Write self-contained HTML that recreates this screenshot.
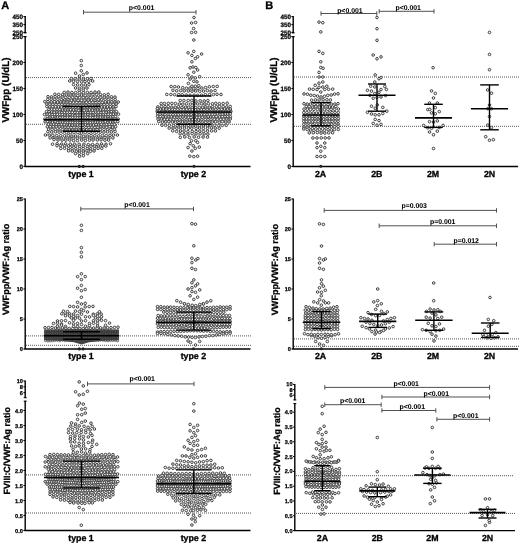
<!DOCTYPE html>
<html><head><meta charset="utf-8"><title>Figure</title>
<style>html,body{margin:0;padding:0;background:#fff;}svg{display:block;filter:grayscale(1);}text{text-rendering:geometricPrecision;font-weight:bold;stroke:#000;stroke-width:0.3px;}</style></head>
<body>
<svg width="520" height="544" viewBox="0 0 520 544" font-family="Liberation Sans, sans-serif" fill="#000" font-weight="bold">
<rect width="520" height="544" fill="#fff"/>
<g stroke="#000" stroke-width="0" >
<text x="1.2" y="9" font-size="11" font-weight="bold">A</text>
<line x1="26.0" y1="77.6" x2="251.0" y2="77.6" stroke="#555" stroke-width="1.0" stroke-dasharray="1 1"/>
<line x1="26.0" y1="124.3" x2="251.0" y2="124.3" stroke="#555" stroke-width="1.0" stroke-dasharray="1 1"/>
<g fill="#f4f4f4" stroke="#383838" stroke-width="0.95"><circle cx="81.3" cy="60.6" r="1.30"/><circle cx="81.3" cy="65.5" r="1.30"/><circle cx="81.3" cy="70.8" r="1.30"/><circle cx="75.6" cy="73.2" r="1.30"/><circle cx="87.0" cy="72.9" r="1.30"/><circle cx="83.3" cy="74.5" r="1.30"/><circle cx="79.5" cy="76.0" r="1.30"/><circle cx="71.4" cy="78.6" r="1.30"/><circle cx="75.1" cy="78.8" r="1.30"/><circle cx="79.2" cy="79.0" r="1.30"/><circle cx="83.3" cy="79.0" r="1.30"/><circle cx="87.4" cy="78.8" r="1.30"/><circle cx="91.0" cy="78.5" r="1.30"/><circle cx="69.7" cy="81.0" r="1.30"/><circle cx="73.5" cy="81.3" r="1.30"/><circle cx="77.5" cy="81.6" r="1.30"/><circle cx="81.6" cy="81.8" r="1.30"/><circle cx="85.0" cy="81.6" r="1.30"/><circle cx="88.7" cy="81.3" r="1.30"/><circle cx="92.6" cy="81.0" r="1.30"/><circle cx="73.5" cy="84.6" r="1.30"/><circle cx="77.6" cy="84.9" r="1.30"/><circle cx="81.7" cy="85.1" r="1.30"/><circle cx="85.4" cy="84.9" r="1.30"/><circle cx="89.0" cy="84.6" r="1.30"/><circle cx="75.6" cy="88.0" r="1.30"/><circle cx="79.5" cy="88.3" r="1.30"/><circle cx="83.3" cy="88.3" r="1.30"/><circle cx="87.0" cy="88.0" r="1.30"/><circle cx="79.2" cy="90.3" r="1.30"/><circle cx="83.3" cy="90.3" r="1.30"/><circle cx="64.2" cy="92.4" r="1.30"/><circle cx="68.0" cy="92.1" r="1.30"/><circle cx="71.9" cy="92.5" r="1.30"/><circle cx="75.7" cy="92.5" r="1.30"/><circle cx="79.6" cy="92.5" r="1.30"/><circle cx="83.4" cy="92.7" r="1.30"/><circle cx="87.3" cy="92.3" r="1.30"/><circle cx="91.1" cy="92.5" r="1.30"/><circle cx="95.0" cy="92.1" r="1.30"/><circle cx="98.8" cy="92.0" r="1.30"/><circle cx="54.9" cy="94.3" r="1.30"/><circle cx="58.7" cy="94.4" r="1.30"/><circle cx="62.5" cy="94.8" r="1.30"/><circle cx="66.3" cy="95.1" r="1.30"/><circle cx="70.1" cy="95.0" r="1.30"/><circle cx="73.9" cy="95.0" r="1.30"/><circle cx="77.7" cy="95.5" r="1.30"/><circle cx="81.5" cy="95.0" r="1.30"/><circle cx="85.3" cy="95.4" r="1.30"/><circle cx="89.1" cy="94.9" r="1.30"/><circle cx="92.9" cy="94.7" r="1.30"/><circle cx="96.7" cy="94.6" r="1.30"/><circle cx="100.5" cy="94.6" r="1.30"/><circle cx="104.3" cy="94.8" r="1.30"/><circle cx="108.1" cy="94.3" r="1.30"/><circle cx="48.0" cy="96.7" r="1.30"/><circle cx="51.5" cy="96.9" r="1.30"/><circle cx="55.1" cy="96.7" r="1.30"/><circle cx="58.6" cy="96.8" r="1.30"/><circle cx="62.1" cy="97.0" r="1.30"/><circle cx="65.6" cy="97.4" r="1.30"/><circle cx="69.2" cy="97.4" r="1.30"/><circle cx="72.7" cy="97.4" r="1.30"/><circle cx="76.2" cy="97.7" r="1.30"/><circle cx="79.7" cy="97.7" r="1.30"/><circle cx="83.3" cy="97.6" r="1.30"/><circle cx="86.8" cy="97.8" r="1.30"/><circle cx="90.3" cy="97.7" r="1.30"/><circle cx="93.8" cy="97.3" r="1.30"/><circle cx="97.4" cy="97.4" r="1.30"/><circle cx="100.9" cy="97.2" r="1.30"/><circle cx="104.4" cy="97.3" r="1.30"/><circle cx="107.9" cy="97.1" r="1.30"/><circle cx="111.5" cy="96.8" r="1.30"/><circle cx="115.0" cy="97.1" r="1.30"/><circle cx="47.8" cy="99.4" r="1.30"/><circle cx="51.2" cy="99.2" r="1.30"/><circle cx="54.6" cy="99.5" r="1.30"/><circle cx="57.9" cy="99.3" r="1.30"/><circle cx="61.3" cy="99.8" r="1.30"/><circle cx="64.7" cy="100.0" r="1.30"/><circle cx="68.0" cy="99.9" r="1.30"/><circle cx="71.4" cy="100.2" r="1.30"/><circle cx="74.8" cy="100.0" r="1.30"/><circle cx="78.1" cy="100.3" r="1.30"/><circle cx="81.5" cy="100.4" r="1.30"/><circle cx="84.9" cy="100.2" r="1.30"/><circle cx="88.2" cy="100.1" r="1.30"/><circle cx="91.6" cy="100.2" r="1.30"/><circle cx="95.0" cy="100.2" r="1.30"/><circle cx="98.3" cy="99.8" r="1.30"/><circle cx="101.7" cy="99.8" r="1.30"/><circle cx="105.1" cy="99.3" r="1.30"/><circle cx="108.4" cy="99.6" r="1.30"/><circle cx="111.8" cy="99.5" r="1.30"/><circle cx="115.2" cy="99.6" r="1.30"/><circle cx="44.8" cy="101.6" r="1.30"/><circle cx="48.0" cy="101.7" r="1.30"/><circle cx="51.2" cy="102.0" r="1.30"/><circle cx="54.4" cy="101.7" r="1.30"/><circle cx="57.6" cy="102.1" r="1.30"/><circle cx="60.8" cy="102.0" r="1.30"/><circle cx="63.9" cy="102.0" r="1.30"/><circle cx="67.1" cy="102.1" r="1.30"/><circle cx="70.3" cy="102.6" r="1.30"/><circle cx="73.5" cy="102.3" r="1.30"/><circle cx="76.7" cy="102.5" r="1.30"/><circle cx="79.9" cy="102.7" r="1.30"/><circle cx="83.1" cy="103.0" r="1.30"/><circle cx="86.3" cy="102.4" r="1.30"/><circle cx="89.5" cy="102.5" r="1.30"/><circle cx="92.7" cy="102.5" r="1.30"/><circle cx="95.9" cy="102.6" r="1.30"/><circle cx="99.1" cy="102.5" r="1.30"/><circle cx="102.2" cy="102.4" r="1.30"/><circle cx="105.4" cy="101.9" r="1.30"/><circle cx="108.6" cy="101.9" r="1.30"/><circle cx="111.8" cy="101.8" r="1.30"/><circle cx="115.0" cy="102.0" r="1.30"/><circle cx="118.2" cy="102.0" r="1.30"/><circle cx="46.8" cy="104.1" r="1.30"/><circle cx="49.8" cy="104.2" r="1.30"/><circle cx="52.8" cy="104.4" r="1.30"/><circle cx="55.9" cy="104.6" r="1.30"/><circle cx="58.9" cy="104.5" r="1.30"/><circle cx="61.9" cy="104.4" r="1.30"/><circle cx="64.9" cy="104.8" r="1.30"/><circle cx="67.9" cy="104.8" r="1.30"/><circle cx="70.9" cy="105.0" r="1.30"/><circle cx="74.0" cy="105.3" r="1.30"/><circle cx="77.0" cy="105.3" r="1.30"/><circle cx="80.0" cy="105.3" r="1.30"/><circle cx="83.0" cy="105.3" r="1.30"/><circle cx="86.0" cy="105.3" r="1.30"/><circle cx="89.0" cy="104.8" r="1.30"/><circle cx="92.1" cy="105.2" r="1.30"/><circle cx="95.1" cy="105.1" r="1.30"/><circle cx="98.1" cy="105.0" r="1.30"/><circle cx="101.1" cy="104.9" r="1.30"/><circle cx="104.1" cy="104.6" r="1.30"/><circle cx="107.1" cy="104.5" r="1.30"/><circle cx="110.2" cy="104.2" r="1.30"/><circle cx="113.2" cy="104.4" r="1.30"/><circle cx="116.2" cy="104.0" r="1.30"/><circle cx="46.9" cy="106.6" r="1.30"/><circle cx="49.8" cy="106.8" r="1.30"/><circle cx="52.7" cy="106.7" r="1.30"/><circle cx="55.6" cy="106.7" r="1.30"/><circle cx="58.5" cy="106.9" r="1.30"/><circle cx="61.3" cy="107.0" r="1.30"/><circle cx="64.2" cy="107.2" r="1.30"/><circle cx="67.1" cy="107.1" r="1.30"/><circle cx="70.0" cy="107.7" r="1.30"/><circle cx="72.9" cy="107.6" r="1.30"/><circle cx="75.7" cy="107.4" r="1.30"/><circle cx="78.6" cy="107.6" r="1.30"/><circle cx="81.5" cy="107.7" r="1.30"/><circle cx="84.4" cy="107.6" r="1.30"/><circle cx="87.3" cy="107.4" r="1.30"/><circle cx="90.1" cy="107.8" r="1.30"/><circle cx="93.0" cy="107.8" r="1.30"/><circle cx="95.9" cy="107.3" r="1.30"/><circle cx="98.8" cy="107.3" r="1.30"/><circle cx="101.7" cy="106.9" r="1.30"/><circle cx="104.5" cy="106.9" r="1.30"/><circle cx="107.4" cy="106.9" r="1.30"/><circle cx="110.3" cy="106.8" r="1.30"/><circle cx="113.2" cy="107.0" r="1.30"/><circle cx="116.1" cy="106.6" r="1.30"/><circle cx="48.9" cy="109.3" r="1.30"/><circle cx="51.7" cy="109.2" r="1.30"/><circle cx="54.4" cy="109.5" r="1.30"/><circle cx="57.1" cy="109.3" r="1.30"/><circle cx="59.8" cy="109.7" r="1.30"/><circle cx="62.5" cy="110.0" r="1.30"/><circle cx="65.2" cy="110.0" r="1.30"/><circle cx="67.9" cy="110.0" r="1.30"/><circle cx="70.6" cy="109.8" r="1.30"/><circle cx="73.4" cy="110.0" r="1.30"/><circle cx="76.1" cy="109.9" r="1.30"/><circle cx="78.8" cy="110.4" r="1.30"/><circle cx="81.5" cy="110.3" r="1.30"/><circle cx="84.2" cy="110.4" r="1.30"/><circle cx="86.9" cy="110.0" r="1.30"/><circle cx="89.6" cy="109.9" r="1.30"/><circle cx="92.4" cy="110.2" r="1.30"/><circle cx="95.1" cy="110.2" r="1.30"/><circle cx="97.8" cy="110.0" r="1.30"/><circle cx="100.5" cy="109.9" r="1.30"/><circle cx="103.2" cy="109.8" r="1.30"/><circle cx="105.9" cy="109.7" r="1.30"/><circle cx="108.6" cy="109.3" r="1.30"/><circle cx="111.3" cy="109.4" r="1.30"/><circle cx="114.1" cy="109.2" r="1.30"/><circle cx="46.5" cy="111.6" r="1.30"/><circle cx="49.1" cy="111.7" r="1.30"/><circle cx="51.7" cy="112.0" r="1.30"/><circle cx="54.3" cy="112.3" r="1.30"/><circle cx="56.9" cy="112.0" r="1.30"/><circle cx="59.5" cy="112.4" r="1.30"/><circle cx="62.0" cy="112.5" r="1.30"/><circle cx="64.6" cy="112.6" r="1.30"/><circle cx="67.2" cy="112.3" r="1.30"/><circle cx="69.8" cy="112.3" r="1.30"/><circle cx="72.4" cy="112.4" r="1.30"/><circle cx="75.0" cy="112.4" r="1.30"/><circle cx="77.6" cy="112.5" r="1.30"/><circle cx="80.2" cy="112.8" r="1.30"/><circle cx="82.8" cy="113.0" r="1.30"/><circle cx="85.4" cy="112.9" r="1.30"/><circle cx="88.0" cy="112.6" r="1.30"/><circle cx="90.6" cy="112.6" r="1.30"/><circle cx="93.2" cy="112.6" r="1.30"/><circle cx="95.8" cy="112.1" r="1.30"/><circle cx="98.4" cy="112.4" r="1.30"/><circle cx="101.0" cy="112.5" r="1.30"/><circle cx="103.5" cy="112.3" r="1.30"/><circle cx="106.1" cy="112.2" r="1.30"/><circle cx="108.7" cy="112.0" r="1.30"/><circle cx="111.3" cy="111.7" r="1.30"/><circle cx="113.9" cy="112.0" r="1.30"/><circle cx="116.5" cy="111.6" r="1.30"/><circle cx="44.5" cy="114.5" r="1.30"/><circle cx="47.1" cy="114.2" r="1.30"/><circle cx="49.6" cy="114.3" r="1.30"/><circle cx="52.2" cy="114.7" r="1.30"/><circle cx="54.7" cy="114.6" r="1.30"/><circle cx="57.3" cy="114.4" r="1.30"/><circle cx="59.8" cy="114.4" r="1.30"/><circle cx="62.4" cy="114.5" r="1.30"/><circle cx="64.9" cy="115.0" r="1.30"/><circle cx="67.5" cy="115.1" r="1.30"/><circle cx="70.0" cy="114.7" r="1.30"/><circle cx="72.6" cy="115.2" r="1.30"/><circle cx="75.1" cy="115.4" r="1.30"/><circle cx="77.7" cy="115.3" r="1.30"/><circle cx="80.2" cy="115.2" r="1.30"/><circle cx="82.8" cy="115.3" r="1.30"/><circle cx="85.3" cy="115.0" r="1.30"/><circle cx="87.9" cy="114.8" r="1.30"/><circle cx="90.4" cy="115.3" r="1.30"/><circle cx="93.0" cy="115.0" r="1.30"/><circle cx="95.5" cy="114.9" r="1.30"/><circle cx="98.1" cy="115.1" r="1.30"/><circle cx="100.6" cy="114.7" r="1.30"/><circle cx="103.2" cy="114.9" r="1.30"/><circle cx="105.7" cy="114.8" r="1.30"/><circle cx="108.3" cy="114.3" r="1.30"/><circle cx="110.8" cy="114.3" r="1.30"/><circle cx="113.4" cy="114.2" r="1.30"/><circle cx="115.9" cy="114.1" r="1.30"/><circle cx="118.5" cy="114.2" r="1.30"/><circle cx="47.4" cy="116.6" r="1.30"/><circle cx="50.0" cy="117.1" r="1.30"/><circle cx="52.5" cy="116.8" r="1.30"/><circle cx="55.0" cy="117.0" r="1.30"/><circle cx="57.5" cy="117.1" r="1.30"/><circle cx="60.1" cy="117.4" r="1.30"/><circle cx="62.6" cy="117.2" r="1.30"/><circle cx="65.1" cy="117.6" r="1.30"/><circle cx="67.6" cy="117.4" r="1.30"/><circle cx="70.1" cy="117.5" r="1.30"/><circle cx="72.7" cy="117.5" r="1.30"/><circle cx="75.2" cy="117.3" r="1.30"/><circle cx="77.7" cy="117.7" r="1.30"/><circle cx="80.2" cy="117.6" r="1.30"/><circle cx="82.8" cy="117.5" r="1.30"/><circle cx="85.3" cy="117.9" r="1.30"/><circle cx="87.8" cy="117.4" r="1.30"/><circle cx="90.3" cy="117.5" r="1.30"/><circle cx="92.9" cy="117.6" r="1.30"/><circle cx="95.4" cy="117.4" r="1.30"/><circle cx="97.9" cy="117.2" r="1.30"/><circle cx="100.4" cy="117.2" r="1.30"/><circle cx="102.9" cy="117.2" r="1.30"/><circle cx="105.5" cy="117.3" r="1.30"/><circle cx="108.0" cy="116.8" r="1.30"/><circle cx="110.5" cy="117.0" r="1.30"/><circle cx="113.0" cy="116.7" r="1.30"/><circle cx="115.6" cy="116.6" r="1.30"/><circle cx="44.8" cy="119.2" r="1.30"/><circle cx="47.3" cy="119.3" r="1.30"/><circle cx="49.9" cy="119.5" r="1.30"/><circle cx="52.4" cy="119.7" r="1.30"/><circle cx="54.9" cy="119.5" r="1.30"/><circle cx="57.5" cy="119.6" r="1.30"/><circle cx="60.0" cy="119.7" r="1.30"/><circle cx="62.5" cy="119.7" r="1.30"/><circle cx="65.0" cy="119.9" r="1.30"/><circle cx="67.6" cy="119.9" r="1.30"/><circle cx="70.1" cy="120.0" r="1.30"/><circle cx="72.6" cy="120.0" r="1.30"/><circle cx="75.2" cy="120.4" r="1.30"/><circle cx="77.7" cy="120.3" r="1.30"/><circle cx="80.2" cy="120.5" r="1.30"/><circle cx="82.8" cy="120.5" r="1.30"/><circle cx="85.3" cy="120.0" r="1.30"/><circle cx="87.8" cy="120.1" r="1.30"/><circle cx="90.4" cy="120.3" r="1.30"/><circle cx="92.9" cy="120.2" r="1.30"/><circle cx="95.4" cy="119.7" r="1.30"/><circle cx="98.0" cy="119.6" r="1.30"/><circle cx="100.5" cy="119.7" r="1.30"/><circle cx="103.0" cy="119.4" r="1.30"/><circle cx="105.5" cy="119.4" r="1.30"/><circle cx="108.1" cy="119.2" r="1.30"/><circle cx="110.6" cy="119.5" r="1.30"/><circle cx="113.1" cy="119.5" r="1.30"/><circle cx="115.7" cy="119.5" r="1.30"/><circle cx="118.2" cy="119.0" r="1.30"/><circle cx="45.1" cy="121.8" r="1.30"/><circle cx="47.6" cy="121.6" r="1.30"/><circle cx="50.1" cy="122.1" r="1.30"/><circle cx="52.6" cy="122.2" r="1.30"/><circle cx="55.1" cy="121.8" r="1.30"/><circle cx="57.7" cy="122.4" r="1.30"/><circle cx="60.2" cy="122.1" r="1.30"/><circle cx="62.7" cy="122.2" r="1.30"/><circle cx="65.2" cy="122.6" r="1.30"/><circle cx="67.7" cy="122.6" r="1.30"/><circle cx="70.2" cy="122.3" r="1.30"/><circle cx="72.7" cy="122.5" r="1.30"/><circle cx="75.2" cy="122.6" r="1.30"/><circle cx="77.7" cy="122.6" r="1.30"/><circle cx="80.2" cy="122.6" r="1.30"/><circle cx="82.8" cy="122.7" r="1.30"/><circle cx="85.3" cy="122.8" r="1.30"/><circle cx="87.8" cy="122.3" r="1.30"/><circle cx="90.3" cy="122.6" r="1.30"/><circle cx="92.8" cy="122.4" r="1.30"/><circle cx="95.3" cy="122.1" r="1.30"/><circle cx="97.8" cy="122.2" r="1.30"/><circle cx="100.3" cy="122.3" r="1.30"/><circle cx="102.8" cy="122.2" r="1.30"/><circle cx="105.3" cy="121.8" r="1.30"/><circle cx="107.9" cy="122.3" r="1.30"/><circle cx="110.4" cy="122.1" r="1.30"/><circle cx="112.9" cy="122.1" r="1.30"/><circle cx="115.4" cy="121.5" r="1.30"/><circle cx="117.9" cy="121.6" r="1.30"/><circle cx="48.4" cy="124.2" r="1.30"/><circle cx="51.0" cy="124.2" r="1.30"/><circle cx="53.7" cy="124.4" r="1.30"/><circle cx="56.3" cy="124.8" r="1.30"/><circle cx="59.0" cy="124.8" r="1.30"/><circle cx="61.6" cy="124.6" r="1.30"/><circle cx="64.3" cy="124.6" r="1.30"/><circle cx="66.9" cy="125.1" r="1.30"/><circle cx="69.6" cy="125.0" r="1.30"/><circle cx="72.2" cy="125.1" r="1.30"/><circle cx="74.9" cy="124.9" r="1.30"/><circle cx="77.5" cy="124.9" r="1.30"/><circle cx="80.2" cy="125.4" r="1.30"/><circle cx="82.8" cy="125.2" r="1.30"/><circle cx="85.5" cy="124.9" r="1.30"/><circle cx="88.1" cy="125.4" r="1.30"/><circle cx="90.8" cy="125.1" r="1.30"/><circle cx="93.4" cy="125.1" r="1.30"/><circle cx="96.1" cy="124.6" r="1.30"/><circle cx="98.7" cy="125.0" r="1.30"/><circle cx="101.4" cy="124.4" r="1.30"/><circle cx="104.0" cy="124.8" r="1.30"/><circle cx="106.7" cy="124.5" r="1.30"/><circle cx="109.3" cy="124.4" r="1.30"/><circle cx="112.0" cy="124.4" r="1.30"/><circle cx="114.6" cy="124.6" r="1.30"/><circle cx="47.3" cy="126.8" r="1.30"/><circle cx="50.3" cy="126.7" r="1.30"/><circle cx="53.2" cy="126.7" r="1.30"/><circle cx="56.2" cy="126.8" r="1.30"/><circle cx="59.2" cy="126.9" r="1.30"/><circle cx="62.2" cy="127.0" r="1.30"/><circle cx="65.1" cy="127.2" r="1.30"/><circle cx="68.1" cy="127.3" r="1.30"/><circle cx="71.1" cy="127.6" r="1.30"/><circle cx="74.1" cy="127.5" r="1.30"/><circle cx="77.0" cy="127.7" r="1.30"/><circle cx="80.0" cy="127.6" r="1.30"/><circle cx="83.0" cy="127.7" r="1.30"/><circle cx="86.0" cy="127.4" r="1.30"/><circle cx="88.9" cy="127.4" r="1.30"/><circle cx="91.9" cy="127.2" r="1.30"/><circle cx="94.9" cy="127.5" r="1.30"/><circle cx="97.9" cy="127.3" r="1.30"/><circle cx="100.8" cy="127.0" r="1.30"/><circle cx="103.8" cy="127.1" r="1.30"/><circle cx="106.8" cy="127.3" r="1.30"/><circle cx="109.8" cy="126.7" r="1.30"/><circle cx="112.7" cy="127.1" r="1.30"/><circle cx="115.7" cy="126.7" r="1.30"/><circle cx="48.6" cy="129.2" r="1.30"/><circle cx="52.1" cy="129.4" r="1.30"/><circle cx="55.5" cy="129.6" r="1.30"/><circle cx="59.0" cy="129.9" r="1.30"/><circle cx="62.5" cy="129.6" r="1.30"/><circle cx="65.9" cy="130.0" r="1.30"/><circle cx="69.4" cy="130.1" r="1.30"/><circle cx="72.8" cy="130.1" r="1.30"/><circle cx="76.3" cy="130.1" r="1.30"/><circle cx="79.8" cy="130.2" r="1.30"/><circle cx="83.2" cy="130.0" r="1.30"/><circle cx="86.7" cy="129.9" r="1.30"/><circle cx="90.2" cy="129.8" r="1.30"/><circle cx="93.6" cy="130.1" r="1.30"/><circle cx="97.1" cy="129.7" r="1.30"/><circle cx="100.5" cy="129.5" r="1.30"/><circle cx="104.0" cy="129.4" r="1.30"/><circle cx="107.5" cy="129.7" r="1.30"/><circle cx="110.9" cy="129.6" r="1.30"/><circle cx="114.4" cy="129.4" r="1.30"/><circle cx="47.9" cy="131.7" r="1.30"/><circle cx="51.7" cy="131.9" r="1.30"/><circle cx="55.4" cy="131.8" r="1.30"/><circle cx="59.1" cy="132.1" r="1.30"/><circle cx="62.8" cy="132.1" r="1.30"/><circle cx="66.6" cy="132.6" r="1.30"/><circle cx="70.3" cy="132.7" r="1.30"/><circle cx="74.0" cy="132.6" r="1.30"/><circle cx="77.8" cy="132.5" r="1.30"/><circle cx="81.5" cy="133.1" r="1.30"/><circle cx="85.2" cy="132.6" r="1.30"/><circle cx="89.0" cy="132.5" r="1.30"/><circle cx="92.7" cy="132.2" r="1.30"/><circle cx="96.4" cy="132.3" r="1.30"/><circle cx="100.2" cy="132.2" r="1.30"/><circle cx="103.9" cy="132.1" r="1.30"/><circle cx="107.6" cy="131.8" r="1.30"/><circle cx="111.3" cy="131.9" r="1.30"/><circle cx="115.1" cy="131.5" r="1.30"/><circle cx="45.4" cy="135.0" r="1.30"/><circle cx="49.2" cy="135.1" r="1.30"/><circle cx="52.8" cy="135.3" r="1.30"/><circle cx="56.7" cy="135.6" r="1.30"/><circle cx="60.7" cy="135.7" r="1.30"/><circle cx="64.5" cy="135.8" r="1.30"/><circle cx="68.4" cy="135.7" r="1.30"/><circle cx="71.9" cy="136.1" r="1.30"/><circle cx="75.6" cy="136.0" r="1.30"/><circle cx="79.7" cy="135.7" r="1.30"/><circle cx="83.6" cy="136.2" r="1.30"/><circle cx="87.2" cy="136.0" r="1.30"/><circle cx="91.1" cy="135.6" r="1.30"/><circle cx="94.8" cy="135.7" r="1.30"/><circle cx="98.7" cy="135.8" r="1.30"/><circle cx="102.5" cy="135.6" r="1.30"/><circle cx="106.3" cy="135.6" r="1.30"/><circle cx="110.0" cy="135.3" r="1.30"/><circle cx="113.5" cy="135.1" r="1.30"/><circle cx="117.4" cy="135.0" r="1.30"/><circle cx="50.2" cy="137.9" r="1.30"/><circle cx="54.0" cy="138.0" r="1.30"/><circle cx="58.0" cy="138.0" r="1.30"/><circle cx="61.6" cy="138.3" r="1.30"/><circle cx="65.9" cy="138.2" r="1.30"/><circle cx="69.7" cy="138.4" r="1.30"/><circle cx="73.4" cy="138.5" r="1.30"/><circle cx="77.4" cy="138.2" r="1.30"/><circle cx="81.4" cy="138.6" r="1.30"/><circle cx="85.3" cy="138.6" r="1.30"/><circle cx="89.6" cy="138.3" r="1.30"/><circle cx="93.3" cy="138.3" r="1.30"/><circle cx="97.3" cy="138.3" r="1.30"/><circle cx="101.2" cy="138.2" r="1.30"/><circle cx="104.9" cy="137.8" r="1.30"/><circle cx="108.9" cy="138.1" r="1.30"/><circle cx="112.9" cy="137.9" r="1.30"/><circle cx="54.0" cy="139.6" r="1.30"/><circle cx="58.0" cy="140.0" r="1.30"/><circle cx="62.1" cy="140.1" r="1.30"/><circle cx="65.8" cy="140.1" r="1.30"/><circle cx="69.8" cy="140.1" r="1.30"/><circle cx="73.5" cy="140.5" r="1.30"/><circle cx="77.4" cy="140.6" r="1.30"/><circle cx="81.7" cy="140.1" r="1.30"/><circle cx="85.4" cy="140.5" r="1.30"/><circle cx="89.5" cy="140.2" r="1.30"/><circle cx="93.1" cy="140.0" r="1.30"/><circle cx="97.3" cy="139.9" r="1.30"/><circle cx="101.0" cy="139.8" r="1.30"/><circle cx="104.9" cy="140.2" r="1.30"/><circle cx="108.6" cy="140.0" r="1.30"/><circle cx="52.5" cy="144.2" r="1.30"/><circle cx="57.1" cy="143.8" r="1.30"/><circle cx="61.6" cy="144.1" r="1.30"/><circle cx="65.6" cy="143.9" r="1.30"/><circle cx="70.3" cy="144.2" r="1.30"/><circle cx="74.7" cy="144.2" r="1.30"/><circle cx="79.2" cy="144.3" r="1.30"/><circle cx="83.9" cy="144.2" r="1.30"/><circle cx="88.3" cy="144.6" r="1.30"/><circle cx="92.5" cy="144.5" r="1.30"/><circle cx="97.2" cy="144.4" r="1.30"/><circle cx="101.5" cy="144.0" r="1.30"/><circle cx="106.0" cy="144.3" r="1.30"/><circle cx="110.5" cy="143.8" r="1.30"/><circle cx="57.0" cy="145.7" r="1.30"/><circle cx="60.5" cy="145.6" r="1.30"/><circle cx="64.7" cy="145.8" r="1.30"/><circle cx="68.5" cy="145.9" r="1.30"/><circle cx="72.0" cy="146.1" r="1.30"/><circle cx="75.7" cy="146.1" r="1.30"/><circle cx="79.8" cy="146.5" r="1.30"/><circle cx="83.5" cy="146.3" r="1.30"/><circle cx="87.4" cy="146.5" r="1.30"/><circle cx="90.9" cy="146.2" r="1.30"/><circle cx="94.5" cy="146.2" r="1.30"/><circle cx="98.4" cy="146.1" r="1.30"/><circle cx="102.3" cy="145.8" r="1.30"/><circle cx="105.8" cy="146.1" r="1.30"/><circle cx="60.8" cy="148.4" r="1.30"/><circle cx="64.6" cy="148.3" r="1.30"/><circle cx="68.6" cy="148.8" r="1.30"/><circle cx="72.1" cy="148.7" r="1.30"/><circle cx="75.8" cy="148.7" r="1.30"/><circle cx="79.6" cy="148.6" r="1.30"/><circle cx="83.2" cy="148.6" r="1.30"/><circle cx="87.3" cy="148.7" r="1.30"/><circle cx="90.7" cy="148.9" r="1.30"/><circle cx="94.8" cy="148.5" r="1.30"/><circle cx="98.1" cy="148.3" r="1.30"/><circle cx="101.8" cy="148.3" r="1.30"/><circle cx="68.6" cy="150.8" r="1.30"/><circle cx="72.3" cy="151.1" r="1.30"/><circle cx="76.3" cy="151.2" r="1.30"/><circle cx="79.6" cy="151.1" r="1.30"/><circle cx="83.3" cy="151.1" r="1.30"/><circle cx="86.9" cy="150.8" r="1.30"/><circle cx="90.5" cy="151.3" r="1.30"/><circle cx="94.0" cy="150.9" r="1.30"/><circle cx="75.4" cy="153.6" r="1.30"/><circle cx="79.3" cy="153.3" r="1.30"/><circle cx="83.4" cy="153.4" r="1.30"/><circle cx="87.7" cy="153.6" r="1.30"/><circle cx="79.6" cy="156.2" r="1.30"/><circle cx="83.4" cy="155.7" r="1.30"/></g>
<g stroke="#000" stroke-width="1.40" fill="none">
<line x1="44.0" y1="119.7" x2="119.0" y2="119.7" stroke-width="1.6"/>
<line x1="63.0" y1="106.5" x2="100.0" y2="106.5"/>
<line x1="63.0" y1="131.2" x2="100.0" y2="131.2"/>
<line x1="81.5" y1="106.5" x2="81.5" y2="131.2"/>
</g>
<g fill="#f4f4f4" stroke="#383838" stroke-width="0.95"><circle cx="194.0" cy="17.5" r="1.30"/><circle cx="191.6" cy="23.0" r="1.30"/><circle cx="195.6" cy="22.5" r="1.30"/><circle cx="193.6" cy="28.5" r="1.30"/><circle cx="191.6" cy="32.5" r="1.30"/><circle cx="195.6" cy="32.3" r="1.30"/><circle cx="193.8" cy="40.0" r="1.30"/><circle cx="188.1" cy="52.8" r="1.30"/><circle cx="193.8" cy="51.4" r="1.30"/><circle cx="201.6" cy="54.0" r="1.30"/><circle cx="191.9" cy="55.4" r="1.30"/><circle cx="197.6" cy="56.8" r="1.30"/><circle cx="195.3" cy="58.5" r="1.30"/><circle cx="191.9" cy="61.8" r="1.30"/><circle cx="190.1" cy="67.8" r="1.30"/><circle cx="192.9" cy="67.0" r="1.30"/><circle cx="195.8" cy="67.5" r="1.30"/><circle cx="197.6" cy="70.0" r="1.30"/><circle cx="193.8" cy="72.2" r="1.30"/><circle cx="188.1" cy="74.8" r="1.30"/><circle cx="191.9" cy="77.0" r="1.30"/><circle cx="195.3" cy="77.9" r="1.30"/><circle cx="199.7" cy="76.7" r="1.30"/><circle cx="190.1" cy="79.1" r="1.30"/><circle cx="193.8" cy="81.3" r="1.30"/><circle cx="197.0" cy="81.9" r="1.30"/><circle cx="188.4" cy="83.4" r="1.30"/><circle cx="191.9" cy="86.2" r="1.30"/><circle cx="195.3" cy="86.2" r="1.30"/><circle cx="198.8" cy="85.7" r="1.30"/><circle cx="171.1" cy="86.5" r="1.30"/><circle cx="174.8" cy="86.7" r="1.30"/><circle cx="178.4" cy="87.0" r="1.30"/><circle cx="182.7" cy="87.7" r="1.30"/><circle cx="186.5" cy="88.2" r="1.30"/><circle cx="190.0" cy="88.1" r="1.30"/><circle cx="193.8" cy="88.8" r="1.30"/><circle cx="197.9" cy="88.6" r="1.30"/><circle cx="201.8" cy="88.0" r="1.30"/><circle cx="205.6" cy="87.5" r="1.30"/><circle cx="209.4" cy="86.8" r="1.30"/><circle cx="213.3" cy="86.5" r="1.30"/><circle cx="217.2" cy="86.4" r="1.30"/><circle cx="172.9" cy="90.3" r="1.30"/><circle cx="176.7" cy="90.8" r="1.30"/><circle cx="180.7" cy="90.6" r="1.30"/><circle cx="184.2" cy="90.9" r="1.30"/><circle cx="188.3" cy="91.0" r="1.30"/><circle cx="192.0" cy="91.2" r="1.30"/><circle cx="195.7" cy="91.0" r="1.30"/><circle cx="199.7" cy="91.3" r="1.30"/><circle cx="203.6" cy="91.1" r="1.30"/><circle cx="207.4" cy="90.6" r="1.30"/><circle cx="211.1" cy="91.0" r="1.30"/><circle cx="215.1" cy="90.5" r="1.30"/><circle cx="166.8" cy="94.4" r="1.30"/><circle cx="170.9" cy="94.5" r="1.30"/><circle cx="174.6" cy="94.7" r="1.30"/><circle cx="178.8" cy="94.6" r="1.30"/><circle cx="182.2" cy="94.8" r="1.30"/><circle cx="186.2" cy="95.1" r="1.30"/><circle cx="190.0" cy="95.3" r="1.30"/><circle cx="194.1" cy="95.2" r="1.30"/><circle cx="197.7" cy="95.4" r="1.30"/><circle cx="201.6" cy="95.2" r="1.30"/><circle cx="205.4" cy="94.7" r="1.30"/><circle cx="209.6" cy="94.6" r="1.30"/><circle cx="213.5" cy="94.6" r="1.30"/><circle cx="217.0" cy="94.3" r="1.30"/><circle cx="221.0" cy="94.5" r="1.30"/><circle cx="180.2" cy="100.5" r="1.30"/><circle cx="183.9" cy="100.5" r="1.30"/><circle cx="188.2" cy="100.5" r="1.30"/><circle cx="191.8" cy="100.4" r="1.30"/><circle cx="195.9" cy="100.9" r="1.30"/><circle cx="200.2" cy="100.8" r="1.30"/><circle cx="204.2" cy="101.0" r="1.30"/><circle cx="207.9" cy="100.5" r="1.30"/><circle cx="161.2" cy="103.5" r="1.30"/><circle cx="164.4" cy="103.5" r="1.30"/><circle cx="168.3" cy="103.4" r="1.30"/><circle cx="171.9" cy="103.4" r="1.30"/><circle cx="175.4" cy="103.5" r="1.30"/><circle cx="179.3" cy="104.0" r="1.30"/><circle cx="182.8" cy="104.1" r="1.30"/><circle cx="186.5" cy="103.8" r="1.30"/><circle cx="190.5" cy="104.1" r="1.30"/><circle cx="194.0" cy="103.7" r="1.30"/><circle cx="197.7" cy="103.9" r="1.30"/><circle cx="201.5" cy="103.7" r="1.30"/><circle cx="204.9" cy="104.0" r="1.30"/><circle cx="208.4" cy="103.7" r="1.30"/><circle cx="212.5" cy="103.8" r="1.30"/><circle cx="215.8" cy="103.3" r="1.30"/><circle cx="219.4" cy="103.7" r="1.30"/><circle cx="223.2" cy="103.6" r="1.30"/><circle cx="227.2" cy="103.2" r="1.30"/><circle cx="157.9" cy="106.9" r="1.30"/><circle cx="161.5" cy="106.5" r="1.30"/><circle cx="165.0" cy="106.6" r="1.30"/><circle cx="168.2" cy="106.5" r="1.30"/><circle cx="171.8" cy="107.1" r="1.30"/><circle cx="175.2" cy="107.2" r="1.30"/><circle cx="178.3" cy="106.8" r="1.30"/><circle cx="182.0" cy="107.3" r="1.30"/><circle cx="185.7" cy="107.1" r="1.30"/><circle cx="188.7" cy="107.2" r="1.30"/><circle cx="192.3" cy="107.5" r="1.30"/><circle cx="195.6" cy="107.4" r="1.30"/><circle cx="199.3" cy="107.4" r="1.30"/><circle cx="202.7" cy="107.2" r="1.30"/><circle cx="205.9" cy="107.0" r="1.30"/><circle cx="209.4" cy="107.2" r="1.30"/><circle cx="212.6" cy="106.7" r="1.30"/><circle cx="216.4" cy="106.7" r="1.30"/><circle cx="219.5" cy="106.5" r="1.30"/><circle cx="223.2" cy="106.6" r="1.30"/><circle cx="226.8" cy="106.9" r="1.30"/><circle cx="230.2" cy="106.4" r="1.30"/><circle cx="157.3" cy="108.7" r="1.30"/><circle cx="160.4" cy="109.2" r="1.30"/><circle cx="163.3" cy="108.9" r="1.30"/><circle cx="166.2" cy="109.2" r="1.30"/><circle cx="169.3" cy="109.4" r="1.30"/><circle cx="172.3" cy="109.4" r="1.30"/><circle cx="174.8" cy="109.5" r="1.30"/><circle cx="177.8" cy="109.4" r="1.30"/><circle cx="180.8" cy="109.6" r="1.30"/><circle cx="183.6" cy="109.3" r="1.30"/><circle cx="186.6" cy="109.3" r="1.30"/><circle cx="189.8" cy="109.7" r="1.30"/><circle cx="192.5" cy="109.6" r="1.30"/><circle cx="195.7" cy="109.7" r="1.30"/><circle cx="198.2" cy="109.8" r="1.30"/><circle cx="201.4" cy="109.8" r="1.30"/><circle cx="204.0" cy="109.5" r="1.30"/><circle cx="207.3" cy="109.6" r="1.30"/><circle cx="210.3" cy="109.1" r="1.30"/><circle cx="212.9" cy="109.1" r="1.30"/><circle cx="215.7" cy="109.5" r="1.30"/><circle cx="218.9" cy="109.5" r="1.30"/><circle cx="221.7" cy="109.4" r="1.30"/><circle cx="224.6" cy="108.9" r="1.30"/><circle cx="227.7" cy="109.3" r="1.30"/><circle cx="230.3" cy="109.0" r="1.30"/><circle cx="157.1" cy="111.3" r="1.30"/><circle cx="159.6" cy="111.3" r="1.30"/><circle cx="162.1" cy="111.4" r="1.30"/><circle cx="165.0" cy="111.7" r="1.30"/><circle cx="167.4" cy="111.4" r="1.30"/><circle cx="170.1" cy="111.8" r="1.30"/><circle cx="172.7" cy="111.7" r="1.30"/><circle cx="175.4" cy="112.0" r="1.30"/><circle cx="178.2" cy="111.6" r="1.30"/><circle cx="180.6" cy="111.9" r="1.30"/><circle cx="183.5" cy="112.1" r="1.30"/><circle cx="185.9" cy="111.8" r="1.30"/><circle cx="188.8" cy="112.0" r="1.30"/><circle cx="191.2" cy="112.0" r="1.30"/><circle cx="194.2" cy="112.1" r="1.30"/><circle cx="196.7" cy="112.1" r="1.30"/><circle cx="199.2" cy="112.3" r="1.30"/><circle cx="202.2" cy="112.0" r="1.30"/><circle cx="204.4" cy="112.1" r="1.30"/><circle cx="207.1" cy="111.6" r="1.30"/><circle cx="210.1" cy="111.8" r="1.30"/><circle cx="212.7" cy="111.8" r="1.30"/><circle cx="215.3" cy="111.8" r="1.30"/><circle cx="217.6" cy="111.4" r="1.30"/><circle cx="220.5" cy="111.8" r="1.30"/><circle cx="223.3" cy="111.4" r="1.30"/><circle cx="225.8" cy="111.5" r="1.30"/><circle cx="228.4" cy="111.3" r="1.30"/><circle cx="230.9" cy="111.5" r="1.30"/><circle cx="157.7" cy="113.8" r="1.30"/><circle cx="160.1" cy="114.3" r="1.30"/><circle cx="162.9" cy="114.0" r="1.30"/><circle cx="165.1" cy="114.5" r="1.30"/><circle cx="168.2" cy="114.3" r="1.30"/><circle cx="170.3" cy="114.6" r="1.30"/><circle cx="173.1" cy="114.6" r="1.30"/><circle cx="175.8" cy="114.6" r="1.30"/><circle cx="178.2" cy="114.7" r="1.30"/><circle cx="180.8" cy="114.5" r="1.30"/><circle cx="183.7" cy="114.8" r="1.30"/><circle cx="186.0" cy="114.5" r="1.30"/><circle cx="188.7" cy="114.7" r="1.30"/><circle cx="191.3" cy="114.5" r="1.30"/><circle cx="193.9" cy="114.9" r="1.30"/><circle cx="196.8" cy="114.5" r="1.30"/><circle cx="199.2" cy="114.9" r="1.30"/><circle cx="201.6" cy="114.8" r="1.30"/><circle cx="204.2" cy="114.7" r="1.30"/><circle cx="207.1" cy="114.6" r="1.30"/><circle cx="209.5" cy="114.4" r="1.30"/><circle cx="212.3" cy="114.4" r="1.30"/><circle cx="214.9" cy="114.4" r="1.30"/><circle cx="217.4" cy="114.0" r="1.30"/><circle cx="220.1" cy="114.3" r="1.30"/><circle cx="222.5" cy="114.4" r="1.30"/><circle cx="225.4" cy="114.1" r="1.30"/><circle cx="227.7" cy="114.1" r="1.30"/><circle cx="230.3" cy="113.8" r="1.30"/><circle cx="157.5" cy="116.3" r="1.30"/><circle cx="160.3" cy="116.6" r="1.30"/><circle cx="162.9" cy="116.8" r="1.30"/><circle cx="165.7" cy="116.9" r="1.30"/><circle cx="168.9" cy="116.8" r="1.30"/><circle cx="171.3" cy="116.9" r="1.30"/><circle cx="174.3" cy="117.2" r="1.30"/><circle cx="177.0" cy="117.2" r="1.30"/><circle cx="180.2" cy="117.2" r="1.30"/><circle cx="182.9" cy="116.9" r="1.30"/><circle cx="185.8" cy="117.1" r="1.30"/><circle cx="188.6" cy="117.4" r="1.30"/><circle cx="191.0" cy="117.4" r="1.30"/><circle cx="194.2" cy="117.0" r="1.30"/><circle cx="196.7" cy="117.4" r="1.30"/><circle cx="199.4" cy="117.4" r="1.30"/><circle cx="202.3" cy="117.3" r="1.30"/><circle cx="205.1" cy="117.1" r="1.30"/><circle cx="208.2" cy="116.8" r="1.30"/><circle cx="210.7" cy="117.0" r="1.30"/><circle cx="213.6" cy="116.6" r="1.30"/><circle cx="216.3" cy="116.6" r="1.30"/><circle cx="219.5" cy="116.9" r="1.30"/><circle cx="222.3" cy="116.5" r="1.30"/><circle cx="225.0" cy="116.5" r="1.30"/><circle cx="227.7" cy="116.7" r="1.30"/><circle cx="230.4" cy="116.8" r="1.30"/><circle cx="158.0" cy="119.2" r="1.30"/><circle cx="161.3" cy="119.0" r="1.30"/><circle cx="164.5" cy="119.4" r="1.30"/><circle cx="167.3" cy="119.5" r="1.30"/><circle cx="170.4" cy="119.7" r="1.30"/><circle cx="173.7" cy="119.4" r="1.30"/><circle cx="176.9" cy="119.5" r="1.30"/><circle cx="179.8" cy="119.8" r="1.30"/><circle cx="182.8" cy="119.9" r="1.30"/><circle cx="186.1" cy="119.8" r="1.30"/><circle cx="189.5" cy="119.9" r="1.30"/><circle cx="192.5" cy="119.8" r="1.30"/><circle cx="195.3" cy="119.6" r="1.30"/><circle cx="198.5" cy="119.9" r="1.30"/><circle cx="201.8" cy="119.8" r="1.30"/><circle cx="205.2" cy="119.5" r="1.30"/><circle cx="208.0" cy="119.7" r="1.30"/><circle cx="211.0" cy="119.3" r="1.30"/><circle cx="214.3" cy="119.3" r="1.30"/><circle cx="217.4" cy="119.3" r="1.30"/><circle cx="220.7" cy="119.4" r="1.30"/><circle cx="223.6" cy="119.4" r="1.30"/><circle cx="226.9" cy="119.0" r="1.30"/><circle cx="230.2" cy="119.0" r="1.30"/><circle cx="158.8" cy="121.6" r="1.30"/><circle cx="162.4" cy="122.1" r="1.30"/><circle cx="165.8" cy="121.9" r="1.30"/><circle cx="168.9" cy="121.7" r="1.30"/><circle cx="172.4" cy="122.1" r="1.30"/><circle cx="175.6" cy="122.2" r="1.30"/><circle cx="179.0" cy="122.5" r="1.30"/><circle cx="182.5" cy="122.1" r="1.30"/><circle cx="185.9" cy="122.1" r="1.30"/><circle cx="189.0" cy="122.3" r="1.30"/><circle cx="192.2" cy="122.2" r="1.30"/><circle cx="195.8" cy="122.2" r="1.30"/><circle cx="199.0" cy="122.7" r="1.30"/><circle cx="202.2" cy="122.2" r="1.30"/><circle cx="205.7" cy="122.3" r="1.30"/><circle cx="209.1" cy="122.4" r="1.30"/><circle cx="212.2" cy="122.0" r="1.30"/><circle cx="215.6" cy="121.8" r="1.30"/><circle cx="219.2" cy="122.2" r="1.30"/><circle cx="222.4" cy="121.6" r="1.30"/><circle cx="225.8" cy="122.0" r="1.30"/><circle cx="229.0" cy="121.9" r="1.30"/><circle cx="162.0" cy="125.2" r="1.30"/><circle cx="165.6" cy="125.3" r="1.30"/><circle cx="169.3" cy="125.4" r="1.30"/><circle cx="173.4" cy="125.7" r="1.30"/><circle cx="177.2" cy="125.8" r="1.30"/><circle cx="180.7" cy="125.8" r="1.30"/><circle cx="184.6" cy="126.0" r="1.30"/><circle cx="188.4" cy="125.7" r="1.30"/><circle cx="192.2" cy="126.2" r="1.30"/><circle cx="195.7" cy="126.2" r="1.30"/><circle cx="199.4" cy="125.7" r="1.30"/><circle cx="203.3" cy="126.0" r="1.30"/><circle cx="207.4" cy="125.9" r="1.30"/><circle cx="210.9" cy="125.9" r="1.30"/><circle cx="214.6" cy="125.4" r="1.30"/><circle cx="218.7" cy="125.6" r="1.30"/><circle cx="222.3" cy="125.5" r="1.30"/><circle cx="226.2" cy="125.3" r="1.30"/><circle cx="169.2" cy="128.1" r="1.30"/><circle cx="173.0" cy="128.0" r="1.30"/><circle cx="176.8" cy="128.2" r="1.30"/><circle cx="180.4" cy="128.1" r="1.30"/><circle cx="184.4" cy="128.1" r="1.30"/><circle cx="188.4" cy="128.2" r="1.30"/><circle cx="191.8" cy="128.2" r="1.30"/><circle cx="196.1" cy="128.4" r="1.30"/><circle cx="199.6" cy="128.1" r="1.30"/><circle cx="203.4" cy="128.4" r="1.30"/><circle cx="207.5" cy="128.3" r="1.30"/><circle cx="211.4" cy="127.9" r="1.30"/><circle cx="215.2" cy="128.0" r="1.30"/><circle cx="219.2" cy="128.2" r="1.30"/><circle cx="172.7" cy="130.8" r="1.30"/><circle cx="176.6" cy="131.4" r="1.30"/><circle cx="180.5" cy="131.0" r="1.30"/><circle cx="184.1" cy="131.1" r="1.30"/><circle cx="187.9" cy="131.6" r="1.30"/><circle cx="192.2" cy="131.5" r="1.30"/><circle cx="196.1" cy="131.5" r="1.30"/><circle cx="199.8" cy="131.1" r="1.30"/><circle cx="203.6" cy="131.5" r="1.30"/><circle cx="207.5" cy="131.1" r="1.30"/><circle cx="211.6" cy="130.9" r="1.30"/><circle cx="215.4" cy="130.9" r="1.30"/><circle cx="180.1" cy="133.8" r="1.30"/><circle cx="183.9" cy="134.2" r="1.30"/><circle cx="188.0" cy="134.1" r="1.30"/><circle cx="192.1" cy="133.6" r="1.30"/><circle cx="196.0" cy="133.9" r="1.30"/><circle cx="200.1" cy="133.8" r="1.30"/><circle cx="204.1" cy="133.9" r="1.30"/><circle cx="207.9" cy="134.1" r="1.30"/><circle cx="180.3" cy="137.4" r="1.30"/><circle cx="184.8" cy="136.9" r="1.30"/><circle cx="189.4" cy="137.4" r="1.30"/><circle cx="194.2" cy="136.9" r="1.30"/><circle cx="198.5" cy="137.2" r="1.30"/><circle cx="203.1" cy="137.0" r="1.30"/><circle cx="207.5" cy="137.1" r="1.30"/><circle cx="191.5" cy="140.7" r="1.30"/><circle cx="195.8" cy="140.7" r="1.30"/><circle cx="197.6" cy="142.4" r="1.30"/><circle cx="190.1" cy="143.6" r="1.30"/><circle cx="193.3" cy="145.8" r="1.30"/><circle cx="188.1" cy="147.6" r="1.30"/><circle cx="195.3" cy="148.4" r="1.30"/><circle cx="199.3" cy="147.1" r="1.30"/><circle cx="191.9" cy="151.0" r="1.30"/><circle cx="189.8" cy="156.2" r="1.30"/><circle cx="193.8" cy="156.6" r="1.30"/><circle cx="197.6" cy="156.2" r="1.30"/></g>
<g stroke="#000" stroke-width="1.40" fill="none">
<line x1="156.5" y1="112.0" x2="231.5" y2="112.0" stroke-width="1.6"/>
<line x1="176.5" y1="96.0" x2="211.5" y2="96.0"/>
<line x1="176.5" y1="124.3" x2="211.5" y2="124.3"/>
<line x1="194.0" y1="96.0" x2="194.0" y2="124.3"/>
</g>
<g stroke="#484848" stroke-width="0.95" fill="none">
<line x1="83.5" y1="12.2" x2="196.0" y2="12.2"/>
<line x1="83.5" y1="10.0" x2="83.5" y2="14.4"/>
<line x1="196.0" y1="10.0" x2="196.0" y2="14.4"/>
</g>
<text x="141.6" y="9.8" font-size="6.9" text-anchor="middle" font-weight="bold" style="stroke-width:0.05px">p&lt;0.001</text>
<line x1="25.2" y1="16.0" x2="25.2" y2="33.2" stroke="#000" stroke-width="1.4"/>
<line x1="25.2" y1="36.3" x2="25.2" y2="166.5" stroke="#000" stroke-width="1.4"/>
<line x1="23.7" y1="32.8" x2="26.7" y2="32.8" stroke="#000" stroke-width="1"/>
<line x1="23.7" y1="36.7" x2="26.7" y2="36.7" stroke="#000" stroke-width="1"/>
<line x1="24.5" y1="166.5" x2="250.5" y2="166.5" stroke="#000" stroke-width="1.4"/>
<line x1="23.4" y1="16.6" x2="25.2" y2="16.6" stroke="#000" stroke-width="1"/>
<text x="22.9" y="18.8" font-size="6.30" text-anchor="end" font-weight="bold" style="stroke-width:0.25px">450</text>
<line x1="23.4" y1="24.6" x2="25.2" y2="24.6" stroke="#000" stroke-width="1"/>
<text x="22.9" y="26.8" font-size="6.30" text-anchor="end" font-weight="bold" style="stroke-width:0.25px">350</text>
<line x1="23.4" y1="32.4" x2="25.2" y2="32.4" stroke="#000" stroke-width="1"/>
<text x="22.9" y="34.6" font-size="6.30" text-anchor="end" font-weight="bold" style="stroke-width:0.25px">250</text>
<line x1="23.4" y1="36.6" x2="25.2" y2="36.6" stroke="#000" stroke-width="1"/>
<text x="22.9" y="38.8" font-size="6.30" text-anchor="end" font-weight="bold" style="stroke-width:0.25px">250</text>
<line x1="23.4" y1="62.5" x2="25.2" y2="62.5" stroke="#000" stroke-width="1"/>
<text x="22.9" y="64.7" font-size="6.30" text-anchor="end" font-weight="bold" style="stroke-width:0.25px">200</text>
<line x1="23.4" y1="88.5" x2="25.2" y2="88.5" stroke="#000" stroke-width="1"/>
<text x="22.9" y="90.7" font-size="6.30" text-anchor="end" font-weight="bold" style="stroke-width:0.25px">150</text>
<line x1="23.4" y1="114.5" x2="25.2" y2="114.5" stroke="#000" stroke-width="1"/>
<text x="22.9" y="116.7" font-size="6.30" text-anchor="end" font-weight="bold" style="stroke-width:0.25px">100</text>
<line x1="23.4" y1="140.5" x2="25.2" y2="140.5" stroke="#000" stroke-width="1"/>
<text x="22.9" y="142.7" font-size="6.30" text-anchor="end" font-weight="bold" style="stroke-width:0.25px">50</text>
<line x1="23.4" y1="166.5" x2="25.2" y2="166.5" stroke="#000" stroke-width="1"/>
<text x="22.9" y="168.7" font-size="6.30" text-anchor="end" font-weight="bold" style="stroke-width:0.25px">0</text>
<text transform="translate(9.0,90.0) rotate(-90)" font-size="9.85" text-anchor="middle" font-weight="bold">VWFpp (U/dL)</text>
<text x="81.0" y="176.7" font-size="8.8" text-anchor="middle" font-weight="bold">type 1</text>
<text x="193.4" y="176.7" font-size="8.8" text-anchor="middle" font-weight="bold">type 2</text>
<text x="265.3" y="9" font-size="11" font-weight="bold">B</text>
<line x1="294.0" y1="77.0" x2="519.0" y2="77.0" stroke="#555" stroke-width="1.0" stroke-dasharray="1 1"/>
<line x1="294.0" y1="126.3" x2="519.0" y2="126.3" stroke="#555" stroke-width="1.0" stroke-dasharray="1 1"/>
<g fill="#f4f4f4" stroke="#383838" stroke-width="0.95"><circle cx="319.0" cy="22.1" r="1.30"/><circle cx="322.8" cy="22.7" r="1.30"/><circle cx="320.8" cy="31.9" r="1.30"/><circle cx="319.0" cy="51.4" r="1.30"/><circle cx="322.8" cy="53.4" r="1.30"/><circle cx="320.8" cy="61.8" r="1.30"/><circle cx="320.8" cy="67.5" r="1.30"/><circle cx="323.1" cy="68.3" r="1.30"/><circle cx="319.0" cy="72.4" r="1.30"/><circle cx="319.0" cy="77.0" r="1.30"/><circle cx="322.8" cy="77.0" r="1.30"/><circle cx="322.8" cy="82.0" r="1.30"/><circle cx="319.0" cy="83.2" r="1.30"/><circle cx="315.2" cy="85.3" r="1.30"/><circle cx="319.0" cy="87.3" r="1.30"/><circle cx="322.8" cy="87.0" r="1.30"/><circle cx="326.8" cy="86.2" r="1.30"/><circle cx="309.5" cy="89.1" r="1.30"/><circle cx="313.2" cy="89.3" r="1.30"/><circle cx="317.0" cy="89.5" r="1.30"/><circle cx="320.8" cy="92.0" r="1.30"/><circle cx="324.8" cy="89.5" r="1.30"/><circle cx="328.6" cy="89.3" r="1.30"/><circle cx="332.7" cy="89.1" r="1.30"/><circle cx="304.0" cy="93.9" r="1.30"/><circle cx="307.4" cy="94.2" r="1.30"/><circle cx="310.8" cy="95.2" r="1.30"/><circle cx="314.2" cy="95.5" r="1.30"/><circle cx="317.6" cy="96.1" r="1.30"/><circle cx="321.0" cy="97.0" r="1.30"/><circle cx="324.4" cy="96.3" r="1.30"/><circle cx="327.8" cy="95.4" r="1.30"/><circle cx="331.2" cy="95.0" r="1.30"/><circle cx="334.6" cy="94.1" r="1.30"/><circle cx="338.0" cy="93.8" r="1.30"/><circle cx="311.6" cy="100.2" r="1.30"/><circle cx="315.4" cy="99.9" r="1.30"/><circle cx="319.1" cy="99.9" r="1.30"/><circle cx="323.1" cy="99.8" r="1.30"/><circle cx="326.9" cy="99.7" r="1.30"/><circle cx="330.4" cy="99.9" r="1.30"/><circle cx="304.0" cy="103.7" r="1.30"/><circle cx="307.2" cy="104.1" r="1.30"/><circle cx="310.5" cy="104.1" r="1.30"/><circle cx="314.1" cy="104.4" r="1.30"/><circle cx="317.7" cy="104.5" r="1.30"/><circle cx="320.9" cy="104.5" r="1.30"/><circle cx="324.3" cy="104.6" r="1.30"/><circle cx="328.0" cy="104.4" r="1.30"/><circle cx="331.2" cy="104.0" r="1.30"/><circle cx="334.9" cy="104.0" r="1.30"/><circle cx="338.0" cy="103.7" r="1.30"/><circle cx="306.2" cy="106.4" r="1.30"/><circle cx="309.2" cy="106.6" r="1.30"/><circle cx="312.8" cy="107.1" r="1.30"/><circle cx="315.8" cy="106.8" r="1.30"/><circle cx="319.2" cy="107.1" r="1.30"/><circle cx="322.7" cy="107.0" r="1.30"/><circle cx="325.9" cy="106.9" r="1.30"/><circle cx="329.6" cy="107.0" r="1.30"/><circle cx="332.5" cy="107.0" r="1.30"/><circle cx="335.8" cy="106.5" r="1.30"/><circle cx="304.0" cy="109.2" r="1.30"/><circle cx="307.4" cy="109.2" r="1.30"/><circle cx="310.5" cy="109.5" r="1.30"/><circle cx="313.9" cy="109.4" r="1.30"/><circle cx="317.5" cy="109.4" r="1.30"/><circle cx="320.9" cy="110.1" r="1.30"/><circle cx="324.5" cy="109.7" r="1.30"/><circle cx="327.9" cy="109.5" r="1.30"/><circle cx="331.1" cy="109.4" r="1.30"/><circle cx="334.7" cy="109.4" r="1.30"/><circle cx="338.4" cy="109.0" r="1.30"/><circle cx="303.8" cy="112.6" r="1.30"/><circle cx="306.9" cy="112.4" r="1.30"/><circle cx="310.2" cy="112.9" r="1.30"/><circle cx="313.3" cy="112.9" r="1.30"/><circle cx="316.5" cy="113.0" r="1.30"/><circle cx="319.5" cy="113.0" r="1.30"/><circle cx="322.5" cy="113.1" r="1.30"/><circle cx="325.5" cy="112.9" r="1.30"/><circle cx="329.0" cy="112.9" r="1.30"/><circle cx="332.0" cy="112.5" r="1.30"/><circle cx="335.0" cy="112.5" r="1.30"/><circle cx="338.3" cy="112.4" r="1.30"/><circle cx="303.9" cy="116.0" r="1.30"/><circle cx="306.5" cy="116.0" r="1.30"/><circle cx="309.7" cy="115.9" r="1.30"/><circle cx="312.4" cy="116.3" r="1.30"/><circle cx="315.0" cy="116.2" r="1.30"/><circle cx="318.0" cy="116.4" r="1.30"/><circle cx="321.2" cy="116.3" r="1.30"/><circle cx="323.7" cy="116.3" r="1.30"/><circle cx="326.8" cy="116.3" r="1.30"/><circle cx="329.6" cy="116.1" r="1.30"/><circle cx="332.6" cy="116.0" r="1.30"/><circle cx="335.3" cy="116.1" r="1.30"/><circle cx="338.1" cy="115.9" r="1.30"/><circle cx="303.7" cy="118.6" r="1.30"/><circle cx="306.5" cy="118.9" r="1.30"/><circle cx="309.5" cy="118.4" r="1.30"/><circle cx="312.3" cy="118.7" r="1.30"/><circle cx="315.0" cy="118.8" r="1.30"/><circle cx="318.1" cy="119.0" r="1.30"/><circle cx="320.9" cy="118.9" r="1.30"/><circle cx="323.7" cy="119.1" r="1.30"/><circle cx="327.0" cy="118.8" r="1.30"/><circle cx="329.5" cy="118.9" r="1.30"/><circle cx="332.4" cy="118.5" r="1.30"/><circle cx="335.1" cy="118.7" r="1.30"/><circle cx="338.4" cy="118.6" r="1.30"/><circle cx="303.8" cy="121.3" r="1.30"/><circle cx="306.5" cy="121.6" r="1.30"/><circle cx="309.5" cy="121.5" r="1.30"/><circle cx="312.6" cy="121.7" r="1.30"/><circle cx="315.3" cy="121.5" r="1.30"/><circle cx="318.2" cy="121.5" r="1.30"/><circle cx="321.2" cy="121.7" r="1.30"/><circle cx="324.0" cy="121.6" r="1.30"/><circle cx="326.7" cy="121.5" r="1.30"/><circle cx="329.6" cy="121.4" r="1.30"/><circle cx="332.2" cy="121.6" r="1.30"/><circle cx="335.2" cy="121.2" r="1.30"/><circle cx="338.1" cy="121.3" r="1.30"/><circle cx="303.8" cy="124.3" r="1.30"/><circle cx="307.0" cy="124.2" r="1.30"/><circle cx="310.3" cy="124.6" r="1.30"/><circle cx="313.0" cy="124.7" r="1.30"/><circle cx="316.5" cy="124.7" r="1.30"/><circle cx="319.3" cy="124.9" r="1.30"/><circle cx="322.6" cy="124.4" r="1.30"/><circle cx="325.4" cy="124.8" r="1.30"/><circle cx="328.9" cy="124.3" r="1.30"/><circle cx="331.7" cy="124.2" r="1.30"/><circle cx="334.9" cy="124.4" r="1.30"/><circle cx="338.1" cy="124.0" r="1.30"/><circle cx="304.0" cy="127.0" r="1.30"/><circle cx="307.1" cy="127.1" r="1.30"/><circle cx="310.7" cy="127.2" r="1.30"/><circle cx="314.2" cy="127.3" r="1.30"/><circle cx="317.7" cy="127.4" r="1.30"/><circle cx="320.8" cy="127.4" r="1.30"/><circle cx="324.5" cy="127.3" r="1.30"/><circle cx="327.8" cy="127.3" r="1.30"/><circle cx="331.3" cy="126.8" r="1.30"/><circle cx="334.6" cy="126.7" r="1.30"/><circle cx="338.2" cy="126.5" r="1.30"/><circle cx="303.8" cy="129.0" r="1.30"/><circle cx="307.2" cy="129.5" r="1.30"/><circle cx="310.7" cy="130.0" r="1.30"/><circle cx="313.9" cy="130.3" r="1.30"/><circle cx="317.5" cy="130.4" r="1.30"/><circle cx="321.1" cy="130.8" r="1.30"/><circle cx="324.4" cy="130.3" r="1.30"/><circle cx="328.1" cy="129.8" r="1.30"/><circle cx="331.4" cy="129.9" r="1.30"/><circle cx="334.5" cy="129.6" r="1.30"/><circle cx="338.3" cy="129.5" r="1.30"/><circle cx="309.3" cy="132.9" r="1.30"/><circle cx="313.3" cy="132.8" r="1.30"/><circle cx="317.3" cy="132.6" r="1.30"/><circle cx="321.1" cy="133.1" r="1.30"/><circle cx="324.8" cy="133.1" r="1.30"/><circle cx="328.7" cy="132.8" r="1.30"/><circle cx="332.6" cy="132.8" r="1.30"/><circle cx="312.9" cy="138.0" r="1.30"/><circle cx="317.0" cy="138.0" r="1.30"/><circle cx="321.2" cy="137.9" r="1.30"/><circle cx="325.2" cy="137.9" r="1.30"/><circle cx="329.0" cy="137.9" r="1.30"/><circle cx="317.0" cy="143.0" r="1.30"/><circle cx="324.8" cy="143.0" r="1.30"/><circle cx="320.8" cy="146.3" r="1.30"/><circle cx="317.0" cy="147.6" r="1.30"/><circle cx="324.8" cy="147.6" r="1.30"/><circle cx="320.8" cy="151.2" r="1.30"/><circle cx="317.0" cy="156.5" r="1.30"/><circle cx="320.8" cy="156.5" r="1.30"/><circle cx="324.8" cy="156.5" r="1.30"/></g>
<g stroke="#000" stroke-width="1.40" fill="none">
<line x1="302.5" y1="115.0" x2="339.5" y2="115.0" stroke-width="1.6"/>
<line x1="311.3" y1="102.5" x2="330.7" y2="102.5"/>
<line x1="311.3" y1="125.8" x2="330.7" y2="125.8"/>
<line x1="321.0" y1="102.5" x2="321.0" y2="125.8"/>
</g>
<g fill="#f4f4f4" stroke="#383838" stroke-width="0.95"><circle cx="377.0" cy="17.5" r="1.30"/><circle cx="377.0" cy="28.7" r="1.30"/><circle cx="377.0" cy="40.3" r="1.30"/><circle cx="373.2" cy="55.0" r="1.30"/><circle cx="381.0" cy="56.9" r="1.30"/><circle cx="377.0" cy="58.8" r="1.30"/><circle cx="375.2" cy="74.9" r="1.30"/><circle cx="381.0" cy="77.5" r="1.30"/><circle cx="379.0" cy="78.7" r="1.30"/><circle cx="374.8" cy="82.0" r="1.30"/><circle cx="370.7" cy="86.2" r="1.30"/><circle cx="374.8" cy="87.0" r="1.30"/><circle cx="384.8" cy="86.5" r="1.30"/><circle cx="381.0" cy="89.5" r="1.30"/><circle cx="386.4" cy="89.5" r="1.30"/><circle cx="367.4" cy="90.3" r="1.30"/><circle cx="371.5" cy="91.1" r="1.30"/><circle cx="379.0" cy="92.3" r="1.30"/><circle cx="374.8" cy="93.6" r="1.30"/><circle cx="369.9" cy="95.3" r="1.30"/><circle cx="385.6" cy="95.6" r="1.30"/><circle cx="381.0" cy="97.0" r="1.30"/><circle cx="373.2" cy="98.2" r="1.30"/><circle cx="377.0" cy="97.4" r="1.30"/><circle cx="371.5" cy="106.2" r="1.30"/><circle cx="382.8" cy="107.4" r="1.30"/><circle cx="375.2" cy="108.2" r="1.30"/><circle cx="377.3" cy="104.9" r="1.30"/><circle cx="367.4" cy="112.3" r="1.30"/><circle cx="371.5" cy="114.0" r="1.30"/><circle cx="375.2" cy="114.8" r="1.30"/><circle cx="379.0" cy="114.8" r="1.30"/><circle cx="382.8" cy="113.5" r="1.30"/><circle cx="386.8" cy="111.2" r="1.30"/><circle cx="375.2" cy="119.4" r="1.30"/><circle cx="379.0" cy="120.6" r="1.30"/><circle cx="373.2" cy="123.4" r="1.30"/><circle cx="377.0" cy="125.2" r="1.30"/><circle cx="381.0" cy="124.4" r="1.30"/></g>
<g stroke="#000" stroke-width="1.40" fill="none">
<line x1="358.5" y1="95.3" x2="395.5" y2="95.3" stroke-width="1.6"/>
<line x1="368.0" y1="84.0" x2="386.0" y2="84.0"/>
<line x1="368.0" y1="111.2" x2="386.0" y2="111.2"/>
<line x1="377.0" y1="84.0" x2="377.0" y2="111.2"/>
</g>
<g fill="#f4f4f4" stroke="#383838" stroke-width="0.95"><circle cx="433.1" cy="67.7" r="1.30"/><circle cx="431.5" cy="90.9" r="1.30"/><circle cx="435.3" cy="93.4" r="1.30"/><circle cx="433.5" cy="98.0" r="1.30"/><circle cx="429.5" cy="103.0" r="1.30"/><circle cx="437.3" cy="103.0" r="1.30"/><circle cx="435.3" cy="107.6" r="1.30"/><circle cx="427.8" cy="109.6" r="1.30"/><circle cx="429.8" cy="109.3" r="1.30"/><circle cx="439.3" cy="111.6" r="1.30"/><circle cx="431.5" cy="112.9" r="1.30"/><circle cx="435.3" cy="113.8" r="1.30"/><circle cx="429.5" cy="121.7" r="1.30"/><circle cx="433.5" cy="122.0" r="1.30"/><circle cx="437.3" cy="120.9" r="1.30"/><circle cx="423.7" cy="125.4" r="1.30"/><circle cx="443.1" cy="125.4" r="1.30"/><circle cx="427.8" cy="127.8" r="1.30"/><circle cx="431.5" cy="128.3" r="1.30"/><circle cx="439.3" cy="127.5" r="1.30"/><circle cx="429.5" cy="132.0" r="1.30"/><circle cx="437.3" cy="131.2" r="1.30"/><circle cx="433.5" cy="134.8" r="1.30"/><circle cx="433.5" cy="148.5" r="1.30"/></g>
<g stroke="#000" stroke-width="1.40" fill="none">
<line x1="415.0" y1="117.9" x2="452.0" y2="117.9" stroke-width="1.6"/>
<line x1="424.2" y1="104.3" x2="442.8" y2="104.3"/>
<line x1="424.2" y1="127.4" x2="442.8" y2="127.4"/>
<line x1="433.5" y1="104.3" x2="433.5" y2="127.4"/>
</g>
<g fill="#f4f4f4" stroke="#383838" stroke-width="0.95"><circle cx="489.5" cy="32.4" r="1.30"/><circle cx="489.5" cy="54.4" r="1.30"/><circle cx="489.5" cy="69.7" r="1.30"/><circle cx="487.6" cy="90.0" r="1.30"/><circle cx="491.5" cy="93.2" r="1.30"/><circle cx="489.5" cy="105.0" r="1.30"/><circle cx="487.8" cy="108.7" r="1.30"/><circle cx="491.5" cy="108.7" r="1.30"/><circle cx="489.5" cy="116.5" r="1.30"/><circle cx="487.8" cy="125.1" r="1.30"/><circle cx="491.5" cy="127.6" r="1.30"/><circle cx="485.7" cy="136.7" r="1.30"/><circle cx="489.5" cy="140.2" r="1.30"/><circle cx="493.4" cy="139.7" r="1.30"/></g>
<g stroke="#000" stroke-width="1.40" fill="none">
<line x1="470.9" y1="108.7" x2="508.1" y2="108.7" stroke-width="1.6"/>
<line x1="480.2" y1="84.9" x2="498.8" y2="84.9"/>
<line x1="480.2" y1="129.8" x2="498.8" y2="129.8"/>
<line x1="489.5" y1="84.9" x2="489.5" y2="129.8"/>
</g>
<g stroke="#484848" stroke-width="0.95" fill="none">
<line x1="321.0" y1="13.5" x2="376.8" y2="13.5"/>
<line x1="321.0" y1="11.3" x2="321.0" y2="15.7"/>
<line x1="376.8" y1="11.3" x2="376.8" y2="15.7"/>
</g>
<text x="349.9" y="13.0" font-size="6.9" text-anchor="middle" font-weight="bold" style="stroke-width:0.05px">p&lt;0.001</text>
<g stroke="#484848" stroke-width="0.95" fill="none">
<line x1="379.2" y1="11.3" x2="434.0" y2="11.3"/>
<line x1="379.2" y1="9.1" x2="379.2" y2="13.5"/>
<line x1="434.0" y1="9.1" x2="434.0" y2="13.5"/>
</g>
<text x="408.2" y="10.0" font-size="6.9" text-anchor="middle" font-weight="bold" style="stroke-width:0.05px">p&lt;0.001</text>
<line x1="293.2" y1="16.0" x2="293.2" y2="33.2" stroke="#000" stroke-width="1.4"/>
<line x1="293.2" y1="36.3" x2="293.2" y2="166.5" stroke="#000" stroke-width="1.4"/>
<line x1="291.7" y1="32.8" x2="294.7" y2="32.8" stroke="#000" stroke-width="1"/>
<line x1="291.7" y1="36.7" x2="294.7" y2="36.7" stroke="#000" stroke-width="1"/>
<line x1="292.5" y1="166.5" x2="518.0" y2="166.5" stroke="#000" stroke-width="1.4"/>
<line x1="291.4" y1="16.6" x2="293.2" y2="16.6" stroke="#000" stroke-width="1"/>
<text x="290.9" y="18.8" font-size="6.30" text-anchor="end" font-weight="bold" style="stroke-width:0.25px">450</text>
<line x1="291.4" y1="24.6" x2="293.2" y2="24.6" stroke="#000" stroke-width="1"/>
<text x="290.9" y="26.8" font-size="6.30" text-anchor="end" font-weight="bold" style="stroke-width:0.25px">350</text>
<line x1="291.4" y1="32.4" x2="293.2" y2="32.4" stroke="#000" stroke-width="1"/>
<text x="290.9" y="34.6" font-size="6.30" text-anchor="end" font-weight="bold" style="stroke-width:0.25px">250</text>
<line x1="291.4" y1="36.6" x2="293.2" y2="36.6" stroke="#000" stroke-width="1"/>
<text x="290.9" y="38.8" font-size="6.30" text-anchor="end" font-weight="bold" style="stroke-width:0.25px">250</text>
<line x1="291.4" y1="62.5" x2="293.2" y2="62.5" stroke="#000" stroke-width="1"/>
<text x="290.9" y="64.7" font-size="6.30" text-anchor="end" font-weight="bold" style="stroke-width:0.25px">200</text>
<line x1="291.4" y1="88.5" x2="293.2" y2="88.5" stroke="#000" stroke-width="1"/>
<text x="290.9" y="90.7" font-size="6.30" text-anchor="end" font-weight="bold" style="stroke-width:0.25px">150</text>
<line x1="291.4" y1="114.5" x2="293.2" y2="114.5" stroke="#000" stroke-width="1"/>
<text x="290.9" y="116.7" font-size="6.30" text-anchor="end" font-weight="bold" style="stroke-width:0.25px">100</text>
<line x1="291.4" y1="140.5" x2="293.2" y2="140.5" stroke="#000" stroke-width="1"/>
<text x="290.9" y="142.7" font-size="6.30" text-anchor="end" font-weight="bold" style="stroke-width:0.25px">50</text>
<line x1="291.4" y1="166.5" x2="293.2" y2="166.5" stroke="#000" stroke-width="1"/>
<text x="290.9" y="168.7" font-size="6.30" text-anchor="end" font-weight="bold" style="stroke-width:0.25px">0</text>
<text transform="translate(277.0,90.0) rotate(-90)" font-size="9.85" text-anchor="middle" font-weight="bold">VWFpp (U/dL)</text>
<text x="320.6" y="176.7" font-size="8.8" text-anchor="middle" font-weight="bold">2A</text>
<text x="376.8" y="176.7" font-size="8.8" text-anchor="middle" font-weight="bold">2B</text>
<text x="433.0" y="176.7" font-size="8.8" text-anchor="middle" font-weight="bold">2M</text>
<text x="489.6" y="176.7" font-size="8.8" text-anchor="middle" font-weight="bold">2N</text>
<line x1="26.0" y1="335.9" x2="251.0" y2="335.9" stroke="#555" stroke-width="1.0" stroke-dasharray="1 1"/>
<line x1="26.0" y1="345.3" x2="251.0" y2="345.3" stroke="#555" stroke-width="1.0" stroke-dasharray="1 1"/>
<g fill="#f4f4f4" stroke="#383838" stroke-width="0.95"><circle cx="81.4" cy="225.3" r="1.30"/><circle cx="81.4" cy="230.4" r="1.30"/><circle cx="81.4" cy="247.6" r="1.30"/><circle cx="81.4" cy="252.3" r="1.30"/><circle cx="81.4" cy="256.8" r="1.30"/><circle cx="81.4" cy="273.8" r="1.30"/><circle cx="77.6" cy="276.6" r="1.30"/><circle cx="85.2" cy="276.6" r="1.30"/><circle cx="81.4" cy="279.6" r="1.30"/><circle cx="81.4" cy="285.4" r="1.30"/><circle cx="77.6" cy="288.2" r="1.30"/><circle cx="85.2" cy="289.5" r="1.30"/><circle cx="81.4" cy="290.7" r="1.30"/><circle cx="81.4" cy="297.3" r="1.30"/><circle cx="77.6" cy="302.3" r="1.30"/><circle cx="81.4" cy="304.0" r="1.30"/><circle cx="85.2" cy="303.3" r="1.30"/><circle cx="69.8" cy="306.4" r="1.30"/><circle cx="73.6" cy="306.6" r="1.30"/><circle cx="77.6" cy="306.9" r="1.30"/><circle cx="81.4" cy="309.4" r="1.30"/><circle cx="85.2" cy="306.9" r="1.30"/><circle cx="89.2" cy="306.6" r="1.30"/><circle cx="93.0" cy="306.4" r="1.30"/><circle cx="63.5" cy="311.2" r="1.30"/><circle cx="67.5" cy="311.5" r="1.30"/><circle cx="75.5" cy="311.1" r="1.30"/><circle cx="79.5" cy="311.7" r="1.30"/><circle cx="83.5" cy="310.7" r="1.30"/><circle cx="87.5" cy="312.0" r="1.30"/><circle cx="99.5" cy="311.8" r="1.30"/><circle cx="61.8" cy="313.8" r="1.30"/><circle cx="65.7" cy="314.3" r="1.30"/><circle cx="69.7" cy="313.9" r="1.30"/><circle cx="73.6" cy="314.1" r="1.30"/><circle cx="81.5" cy="314.2" r="1.30"/><circle cx="93.3" cy="314.2" r="1.30"/><circle cx="97.3" cy="313.9" r="1.30"/><circle cx="101.2" cy="314.1" r="1.30"/><circle cx="65.5" cy="315.8" r="1.30"/><circle cx="69.5" cy="315.9" r="1.30"/><circle cx="73.5" cy="316.5" r="1.30"/><circle cx="77.5" cy="315.6" r="1.30"/><circle cx="85.5" cy="316.8" r="1.30"/><circle cx="89.5" cy="316.9" r="1.30"/><circle cx="93.5" cy="315.4" r="1.30"/><circle cx="97.5" cy="316.2" r="1.30"/><circle cx="101.5" cy="316.8" r="1.30"/><circle cx="71.5" cy="317.9" r="1.30"/><circle cx="75.5" cy="318.1" r="1.30"/><circle cx="79.5" cy="318.2" r="1.30"/><circle cx="95.5" cy="317.9" r="1.30"/><circle cx="99.5" cy="318.8" r="1.30"/><circle cx="57.5" cy="321.0" r="1.30"/><circle cx="61.5" cy="320.8" r="1.30"/><circle cx="65.5" cy="320.6" r="1.30"/><circle cx="73.5" cy="320.4" r="1.30"/><circle cx="81.5" cy="321.0" r="1.30"/><circle cx="85.5" cy="320.7" r="1.30"/><circle cx="93.5" cy="320.8" r="1.30"/><circle cx="97.5" cy="320.9" r="1.30"/><circle cx="101.5" cy="320.3" r="1.30"/><circle cx="105.5" cy="320.6" r="1.30"/><circle cx="53.5" cy="323.4" r="1.30"/><circle cx="57.5" cy="323.1" r="1.30"/><circle cx="61.5" cy="324.1" r="1.30"/><circle cx="69.5" cy="322.8" r="1.30"/><circle cx="73.5" cy="323.9" r="1.30"/><circle cx="77.5" cy="323.4" r="1.30"/><circle cx="81.5" cy="324.5" r="1.30"/><circle cx="89.5" cy="323.5" r="1.30"/><circle cx="93.5" cy="323.3" r="1.30"/><circle cx="97.5" cy="323.6" r="1.30"/><circle cx="109.5" cy="323.1" r="1.30"/><circle cx="57.5" cy="326.2" r="1.30"/><circle cx="61.5" cy="325.1" r="1.30"/><circle cx="65.5" cy="326.4" r="1.30"/><circle cx="73.5" cy="326.6" r="1.30"/><circle cx="77.5" cy="326.4" r="1.30"/><circle cx="85.5" cy="326.2" r="1.30"/><circle cx="89.5" cy="325.6" r="1.30"/><circle cx="97.5" cy="326.1" r="1.30"/><circle cx="105.5" cy="325.3" r="1.30"/><circle cx="45.0" cy="327.7" r="1.30"/><circle cx="48.5" cy="327.6" r="1.30"/><circle cx="52.0" cy="327.5" r="1.30"/><circle cx="55.4" cy="328.0" r="1.30"/><circle cx="58.9" cy="328.1" r="1.30"/><circle cx="62.4" cy="327.9" r="1.30"/><circle cx="65.9" cy="328.2" r="1.30"/><circle cx="69.3" cy="328.5" r="1.30"/><circle cx="72.8" cy="328.6" r="1.30"/><circle cx="76.3" cy="328.5" r="1.30"/><circle cx="79.8" cy="328.5" r="1.30"/><circle cx="83.2" cy="328.6" r="1.30"/><circle cx="86.7" cy="328.3" r="1.30"/><circle cx="90.2" cy="328.2" r="1.30"/><circle cx="93.7" cy="328.0" r="1.30"/><circle cx="97.1" cy="328.3" r="1.30"/><circle cx="100.6" cy="327.9" r="1.30"/><circle cx="104.1" cy="328.0" r="1.30"/><circle cx="107.6" cy="327.8" r="1.30"/><circle cx="111.0" cy="327.7" r="1.30"/><circle cx="114.5" cy="327.4" r="1.30"/><circle cx="118.0" cy="327.2" r="1.30"/></g>
<polygon points="44.2,329.6 118.8,329.6 118.8,340.2 100,341 89,342.3 81.5,344.6 74,342.3 63,341 44.2,340.2" fill="#444"/>
<g fill="#888" fill-opacity="0.3" stroke="#303030" stroke-width="0.6"><circle cx="45.5" cy="331.3" r="1.2"/><circle cx="47.9" cy="330.9" r="1.2"/><circle cx="50.3" cy="330.7" r="1.2"/><circle cx="52.7" cy="331.0" r="1.2"/><circle cx="55.1" cy="331.0" r="1.2"/><circle cx="57.5" cy="330.6" r="1.2"/><circle cx="59.9" cy="330.8" r="1.2"/><circle cx="62.3" cy="330.6" r="1.2"/><circle cx="64.7" cy="330.6" r="1.2"/><circle cx="67.1" cy="330.3" r="1.2"/><circle cx="69.5" cy="330.3" r="1.2"/><circle cx="71.9" cy="330.8" r="1.2"/><circle cx="74.3" cy="330.7" r="1.2"/><circle cx="76.7" cy="330.4" r="1.2"/><circle cx="79.1" cy="330.4" r="1.2"/><circle cx="81.5" cy="330.2" r="1.2"/><circle cx="83.9" cy="330.5" r="1.2"/><circle cx="86.3" cy="330.4" r="1.2"/><circle cx="88.7" cy="330.7" r="1.2"/><circle cx="91.1" cy="330.7" r="1.2"/><circle cx="93.5" cy="330.7" r="1.2"/><circle cx="95.9" cy="330.9" r="1.2"/><circle cx="98.3" cy="330.5" r="1.2"/><circle cx="100.7" cy="330.4" r="1.2"/><circle cx="103.1" cy="330.6" r="1.2"/><circle cx="105.5" cy="330.6" r="1.2"/><circle cx="107.9" cy="330.6" r="1.2"/><circle cx="110.3" cy="330.6" r="1.2"/><circle cx="112.7" cy="331.0" r="1.2"/><circle cx="115.1" cy="331.2" r="1.2"/><circle cx="117.5" cy="331.0" r="1.2"/><circle cx="45.5" cy="333.7" r="1.2"/><circle cx="47.9" cy="333.6" r="1.2"/><circle cx="50.3" cy="333.1" r="1.2"/><circle cx="52.7" cy="333.3" r="1.2"/><circle cx="55.1" cy="333.2" r="1.2"/><circle cx="57.5" cy="333.0" r="1.2"/><circle cx="59.9" cy="333.4" r="1.2"/><circle cx="62.3" cy="332.9" r="1.2"/><circle cx="64.7" cy="333.1" r="1.2"/><circle cx="67.1" cy="333.1" r="1.2"/><circle cx="69.5" cy="333.2" r="1.2"/><circle cx="71.9" cy="333.0" r="1.2"/><circle cx="74.3" cy="332.8" r="1.2"/><circle cx="76.7" cy="332.8" r="1.2"/><circle cx="79.1" cy="332.5" r="1.2"/><circle cx="81.5" cy="333.0" r="1.2"/><circle cx="83.9" cy="333.0" r="1.2"/><circle cx="86.3" cy="332.6" r="1.2"/><circle cx="88.7" cy="332.6" r="1.2"/><circle cx="91.1" cy="332.7" r="1.2"/><circle cx="93.5" cy="332.9" r="1.2"/><circle cx="95.9" cy="333.2" r="1.2"/><circle cx="98.3" cy="333.3" r="1.2"/><circle cx="100.7" cy="333.3" r="1.2"/><circle cx="103.1" cy="332.9" r="1.2"/><circle cx="105.5" cy="333.4" r="1.2"/><circle cx="107.9" cy="333.4" r="1.2"/><circle cx="110.3" cy="333.4" r="1.2"/><circle cx="112.7" cy="333.6" r="1.2"/><circle cx="115.1" cy="333.1" r="1.2"/><circle cx="117.5" cy="333.2" r="1.2"/><circle cx="45.5" cy="336.0" r="1.2"/><circle cx="47.9" cy="336.0" r="1.2"/><circle cx="50.3" cy="335.8" r="1.2"/><circle cx="52.7" cy="335.6" r="1.2"/><circle cx="55.1" cy="335.7" r="1.2"/><circle cx="57.5" cy="335.7" r="1.2"/><circle cx="59.9" cy="335.3" r="1.2"/><circle cx="62.3" cy="335.4" r="1.2"/><circle cx="64.7" cy="335.3" r="1.2"/><circle cx="67.1" cy="335.2" r="1.2"/><circle cx="69.5" cy="335.3" r="1.2"/><circle cx="71.9" cy="335.1" r="1.2"/><circle cx="74.3" cy="335.1" r="1.2"/><circle cx="76.7" cy="335.0" r="1.2"/><circle cx="79.1" cy="335.3" r="1.2"/><circle cx="81.5" cy="334.8" r="1.2"/><circle cx="83.9" cy="335.3" r="1.2"/><circle cx="86.3" cy="335.0" r="1.2"/><circle cx="88.7" cy="335.0" r="1.2"/><circle cx="91.1" cy="335.5" r="1.2"/><circle cx="93.5" cy="335.2" r="1.2"/><circle cx="95.9" cy="335.6" r="1.2"/><circle cx="98.3" cy="335.7" r="1.2"/><circle cx="100.7" cy="335.7" r="1.2"/><circle cx="103.1" cy="335.3" r="1.2"/><circle cx="105.5" cy="335.5" r="1.2"/><circle cx="107.9" cy="335.4" r="1.2"/><circle cx="110.3" cy="335.9" r="1.2"/><circle cx="112.7" cy="335.9" r="1.2"/><circle cx="115.1" cy="335.8" r="1.2"/><circle cx="117.5" cy="335.8" r="1.2"/><circle cx="45.5" cy="338.1" r="1.2"/><circle cx="47.9" cy="338.4" r="1.2"/><circle cx="50.3" cy="338.1" r="1.2"/><circle cx="52.7" cy="338.2" r="1.2"/><circle cx="55.1" cy="337.8" r="1.2"/><circle cx="57.5" cy="337.8" r="1.2"/><circle cx="59.9" cy="337.7" r="1.2"/><circle cx="62.3" cy="338.0" r="1.2"/><circle cx="64.7" cy="337.9" r="1.2"/><circle cx="67.1" cy="337.6" r="1.2"/><circle cx="69.5" cy="338.0" r="1.2"/><circle cx="71.9" cy="337.6" r="1.2"/><circle cx="74.3" cy="337.6" r="1.2"/><circle cx="76.7" cy="337.4" r="1.2"/><circle cx="79.1" cy="337.4" r="1.2"/><circle cx="81.5" cy="337.7" r="1.2"/><circle cx="83.9" cy="337.4" r="1.2"/><circle cx="86.3" cy="337.4" r="1.2"/><circle cx="88.7" cy="337.6" r="1.2"/><circle cx="91.1" cy="337.6" r="1.2"/><circle cx="93.5" cy="338.0" r="1.2"/><circle cx="95.9" cy="337.6" r="1.2"/><circle cx="98.3" cy="338.1" r="1.2"/><circle cx="100.7" cy="337.6" r="1.2"/><circle cx="103.1" cy="338.2" r="1.2"/><circle cx="105.5" cy="338.1" r="1.2"/><circle cx="107.9" cy="337.9" r="1.2"/><circle cx="110.3" cy="338.1" r="1.2"/><circle cx="112.7" cy="338.0" r="1.2"/><circle cx="115.1" cy="338.0" r="1.2"/><circle cx="117.5" cy="338.0" r="1.2"/><circle cx="45.5" cy="340.5" r="1.2"/><circle cx="47.9" cy="340.9" r="1.2"/><circle cx="50.3" cy="340.8" r="1.2"/><circle cx="52.7" cy="340.7" r="1.2"/><circle cx="55.1" cy="340.2" r="1.2"/><circle cx="57.5" cy="340.3" r="1.2"/><circle cx="59.9" cy="340.6" r="1.2"/><circle cx="62.3" cy="340.0" r="1.2"/><circle cx="64.7" cy="340.4" r="1.2"/><circle cx="67.1" cy="340.1" r="1.2"/><circle cx="69.5" cy="340.4" r="1.2"/><circle cx="71.9" cy="339.8" r="1.2"/><circle cx="74.3" cy="340.2" r="1.2"/><circle cx="76.7" cy="339.9" r="1.2"/><circle cx="79.1" cy="339.7" r="1.2"/><circle cx="81.5" cy="339.6" r="1.2"/><circle cx="83.9" cy="340.1" r="1.2"/><circle cx="86.3" cy="340.0" r="1.2"/><circle cx="88.7" cy="339.9" r="1.2"/><circle cx="91.1" cy="340.1" r="1.2"/><circle cx="93.5" cy="340.4" r="1.2"/><circle cx="95.9" cy="340.0" r="1.2"/><circle cx="98.3" cy="340.3" r="1.2"/><circle cx="100.7" cy="340.1" r="1.2"/><circle cx="103.1" cy="340.1" r="1.2"/><circle cx="105.5" cy="340.5" r="1.2"/><circle cx="107.9" cy="340.6" r="1.2"/><circle cx="110.3" cy="340.3" r="1.2"/><circle cx="112.7" cy="340.3" r="1.2"/><circle cx="115.1" cy="340.3" r="1.2"/><circle cx="117.5" cy="340.7" r="1.2"/></g>
<g stroke="#000" stroke-width="1.40" fill="none">
<line x1="43.7" y1="335.8" x2="119.3" y2="335.8" stroke-width="1.6"/>
<line x1="63.0" y1="331.8" x2="100.0" y2="331.8"/>
<line x1="63.0" y1="339.3" x2="100.0" y2="339.3"/>
<line x1="81.5" y1="331.8" x2="81.5" y2="339.3"/>
</g>
<g fill="#f4f4f4" stroke="#383838" stroke-width="0.95"><circle cx="191.9" cy="223.7" r="1.30"/><circle cx="195.5" cy="224.2" r="1.30"/><circle cx="193.8" cy="245.8" r="1.30"/><circle cx="191.9" cy="258.3" r="1.30"/><circle cx="197.9" cy="258.6" r="1.30"/><circle cx="195.8" cy="260.0" r="1.30"/><circle cx="191.9" cy="262.6" r="1.30"/><circle cx="191.9" cy="268.3" r="1.30"/><circle cx="195.5" cy="269.5" r="1.30"/><circle cx="193.8" cy="279.9" r="1.30"/><circle cx="191.9" cy="282.8" r="1.30"/><circle cx="197.6" cy="283.9" r="1.30"/><circle cx="195.5" cy="285.9" r="1.30"/><circle cx="191.9" cy="287.7" r="1.30"/><circle cx="188.1" cy="289.0" r="1.30"/><circle cx="199.7" cy="289.9" r="1.30"/><circle cx="191.9" cy="291.6" r="1.30"/><circle cx="195.5" cy="292.3" r="1.30"/><circle cx="190.1" cy="295.8" r="1.30"/><circle cx="197.6" cy="297.2" r="1.30"/><circle cx="193.8" cy="299.4" r="1.30"/><circle cx="176.8" cy="300.7" r="1.30"/><circle cx="180.6" cy="302.2" r="1.30"/><circle cx="184.4" cy="303.8" r="1.30"/><circle cx="188.1" cy="305.6" r="1.30"/><circle cx="191.9" cy="307.3" r="1.30"/><circle cx="195.7" cy="307.4" r="1.30"/><circle cx="199.5" cy="305.6" r="1.30"/><circle cx="203.2" cy="303.8" r="1.30"/><circle cx="207.0" cy="302.1" r="1.30"/><circle cx="210.8" cy="300.8" r="1.30"/><circle cx="184.5" cy="303.8" r="1.30"/><circle cx="188.3" cy="304.4" r="1.30"/><circle cx="192.2" cy="305.3" r="1.30"/><circle cx="195.7" cy="305.6" r="1.30"/><circle cx="199.8" cy="304.4" r="1.30"/><circle cx="203.6" cy="303.9" r="1.30"/><circle cx="157.5" cy="306.6" r="1.30"/><circle cx="160.8" cy="306.7" r="1.30"/><circle cx="164.1" cy="307.2" r="1.30"/><circle cx="167.4" cy="307.1" r="1.30"/><circle cx="170.7" cy="307.1" r="1.30"/><circle cx="174.0" cy="307.3" r="1.30"/><circle cx="177.3" cy="307.6" r="1.30"/><circle cx="180.6" cy="307.4" r="1.30"/><circle cx="183.9" cy="307.8" r="1.30"/><circle cx="187.2" cy="307.9" r="1.30"/><circle cx="190.5" cy="308.1" r="1.30"/><circle cx="193.8" cy="308.0" r="1.30"/><circle cx="197.1" cy="308.2" r="1.30"/><circle cx="200.4" cy="308.1" r="1.30"/><circle cx="203.7" cy="308.0" r="1.30"/><circle cx="207.0" cy="307.6" r="1.30"/><circle cx="210.3" cy="307.7" r="1.30"/><circle cx="213.6" cy="307.3" r="1.30"/><circle cx="216.9" cy="307.4" r="1.30"/><circle cx="220.2" cy="306.9" r="1.30"/><circle cx="223.5" cy="307.2" r="1.30"/><circle cx="226.8" cy="307.2" r="1.30"/><circle cx="230.1" cy="306.7" r="1.30"/><circle cx="157.5" cy="309.4" r="1.30"/><circle cx="160.8" cy="309.5" r="1.30"/><circle cx="164.1" cy="309.6" r="1.30"/><circle cx="167.4" cy="309.5" r="1.30"/><circle cx="170.7" cy="310.2" r="1.30"/><circle cx="174.0" cy="309.8" r="1.30"/><circle cx="177.3" cy="309.9" r="1.30"/><circle cx="180.6" cy="310.0" r="1.30"/><circle cx="183.9" cy="310.3" r="1.30"/><circle cx="187.2" cy="310.7" r="1.30"/><circle cx="190.5" cy="310.4" r="1.30"/><circle cx="193.8" cy="310.6" r="1.30"/><circle cx="197.1" cy="310.8" r="1.30"/><circle cx="200.4" cy="310.4" r="1.30"/><circle cx="203.7" cy="310.1" r="1.30"/><circle cx="207.0" cy="310.3" r="1.30"/><circle cx="210.3" cy="310.2" r="1.30"/><circle cx="213.6" cy="310.0" r="1.30"/><circle cx="216.9" cy="310.0" r="1.30"/><circle cx="220.2" cy="309.5" r="1.30"/><circle cx="223.5" cy="309.8" r="1.30"/><circle cx="226.8" cy="309.6" r="1.30"/><circle cx="230.1" cy="309.1" r="1.30"/><circle cx="163.8" cy="312.0" r="1.30"/><circle cx="167.1" cy="312.3" r="1.30"/><circle cx="170.5" cy="312.5" r="1.30"/><circle cx="173.8" cy="312.5" r="1.30"/><circle cx="177.1" cy="312.5" r="1.30"/><circle cx="180.5" cy="312.8" r="1.30"/><circle cx="183.8" cy="312.8" r="1.30"/><circle cx="187.1" cy="313.2" r="1.30"/><circle cx="190.5" cy="313.5" r="1.30"/><circle cx="193.8" cy="313.2" r="1.30"/><circle cx="197.1" cy="313.3" r="1.30"/><circle cx="200.5" cy="313.3" r="1.30"/><circle cx="203.8" cy="312.8" r="1.30"/><circle cx="207.1" cy="313.1" r="1.30"/><circle cx="210.5" cy="313.0" r="1.30"/><circle cx="213.8" cy="312.5" r="1.30"/><circle cx="217.1" cy="312.4" r="1.30"/><circle cx="220.5" cy="312.5" r="1.30"/><circle cx="223.8" cy="312.2" r="1.30"/><circle cx="158.2" cy="315.5" r="1.30"/><circle cx="161.2" cy="315.9" r="1.30"/><circle cx="164.4" cy="315.9" r="1.30"/><circle cx="167.5" cy="315.7" r="1.30"/><circle cx="170.6" cy="315.7" r="1.30"/><circle cx="173.7" cy="315.9" r="1.30"/><circle cx="176.8" cy="316.0" r="1.30"/><circle cx="179.9" cy="316.5" r="1.30"/><circle cx="183.0" cy="316.5" r="1.30"/><circle cx="186.1" cy="316.6" r="1.30"/><circle cx="189.2" cy="316.6" r="1.30"/><circle cx="192.2" cy="316.8" r="1.30"/><circle cx="195.4" cy="316.3" r="1.30"/><circle cx="198.5" cy="316.5" r="1.30"/><circle cx="201.6" cy="316.6" r="1.30"/><circle cx="204.7" cy="316.5" r="1.30"/><circle cx="207.8" cy="316.0" r="1.30"/><circle cx="210.9" cy="316.0" r="1.30"/><circle cx="214.0" cy="316.1" r="1.30"/><circle cx="217.1" cy="315.8" r="1.30"/><circle cx="220.2" cy="315.8" r="1.30"/><circle cx="223.2" cy="315.5" r="1.30"/><circle cx="226.4" cy="315.6" r="1.30"/><circle cx="229.5" cy="315.5" r="1.30"/><circle cx="157.5" cy="318.1" r="1.30"/><circle cx="160.2" cy="318.3" r="1.30"/><circle cx="162.9" cy="318.9" r="1.30"/><circle cx="165.6" cy="318.8" r="1.30"/><circle cx="168.3" cy="319.0" r="1.30"/><circle cx="170.9" cy="318.9" r="1.30"/><circle cx="173.6" cy="319.1" r="1.30"/><circle cx="176.3" cy="319.2" r="1.30"/><circle cx="179.0" cy="319.3" r="1.30"/><circle cx="181.7" cy="318.9" r="1.30"/><circle cx="184.4" cy="319.3" r="1.30"/><circle cx="187.1" cy="319.2" r="1.30"/><circle cx="189.8" cy="319.5" r="1.30"/><circle cx="192.5" cy="319.3" r="1.30"/><circle cx="195.1" cy="319.5" r="1.30"/><circle cx="197.8" cy="319.6" r="1.30"/><circle cx="200.5" cy="319.4" r="1.30"/><circle cx="203.2" cy="319.1" r="1.30"/><circle cx="205.9" cy="319.1" r="1.30"/><circle cx="208.6" cy="319.0" r="1.30"/><circle cx="211.3" cy="319.2" r="1.30"/><circle cx="214.0" cy="318.8" r="1.30"/><circle cx="216.7" cy="318.7" r="1.30"/><circle cx="219.3" cy="318.8" r="1.30"/><circle cx="222.0" cy="318.4" r="1.30"/><circle cx="224.7" cy="318.6" r="1.30"/><circle cx="227.4" cy="318.8" r="1.30"/><circle cx="230.1" cy="318.4" r="1.30"/><circle cx="157.5" cy="321.2" r="1.30"/><circle cx="160.2" cy="321.4" r="1.30"/><circle cx="162.9" cy="321.5" r="1.30"/><circle cx="165.6" cy="321.3" r="1.30"/><circle cx="168.3" cy="321.4" r="1.30"/><circle cx="170.9" cy="321.5" r="1.30"/><circle cx="173.6" cy="321.7" r="1.30"/><circle cx="176.3" cy="321.8" r="1.30"/><circle cx="179.0" cy="321.8" r="1.30"/><circle cx="181.7" cy="321.9" r="1.30"/><circle cx="184.4" cy="321.9" r="1.30"/><circle cx="187.1" cy="322.2" r="1.30"/><circle cx="189.8" cy="322.5" r="1.30"/><circle cx="192.5" cy="322.4" r="1.30"/><circle cx="195.1" cy="322.4" r="1.30"/><circle cx="197.8" cy="322.4" r="1.30"/><circle cx="200.5" cy="322.0" r="1.30"/><circle cx="203.2" cy="322.2" r="1.30"/><circle cx="205.9" cy="322.0" r="1.30"/><circle cx="208.6" cy="322.0" r="1.30"/><circle cx="211.3" cy="321.9" r="1.30"/><circle cx="214.0" cy="321.8" r="1.30"/><circle cx="216.7" cy="321.6" r="1.30"/><circle cx="219.3" cy="321.5" r="1.30"/><circle cx="222.0" cy="321.4" r="1.30"/><circle cx="224.7" cy="321.5" r="1.30"/><circle cx="227.4" cy="321.3" r="1.30"/><circle cx="230.1" cy="321.4" r="1.30"/><circle cx="157.5" cy="323.9" r="1.30"/><circle cx="160.2" cy="324.2" r="1.30"/><circle cx="162.9" cy="324.6" r="1.30"/><circle cx="165.6" cy="324.3" r="1.30"/><circle cx="168.3" cy="324.6" r="1.30"/><circle cx="170.9" cy="324.6" r="1.30"/><circle cx="173.6" cy="324.6" r="1.30"/><circle cx="176.3" cy="325.1" r="1.30"/><circle cx="179.0" cy="324.7" r="1.30"/><circle cx="181.7" cy="325.1" r="1.30"/><circle cx="184.4" cy="324.8" r="1.30"/><circle cx="187.1" cy="324.8" r="1.30"/><circle cx="189.8" cy="325.4" r="1.30"/><circle cx="192.5" cy="325.2" r="1.30"/><circle cx="195.1" cy="325.0" r="1.30"/><circle cx="197.8" cy="325.1" r="1.30"/><circle cx="200.5" cy="325.1" r="1.30"/><circle cx="203.2" cy="325.2" r="1.30"/><circle cx="205.9" cy="324.7" r="1.30"/><circle cx="208.6" cy="324.7" r="1.30"/><circle cx="211.3" cy="325.1" r="1.30"/><circle cx="214.0" cy="324.8" r="1.30"/><circle cx="216.7" cy="324.4" r="1.30"/><circle cx="219.3" cy="324.4" r="1.30"/><circle cx="222.0" cy="324.4" r="1.30"/><circle cx="224.7" cy="324.5" r="1.30"/><circle cx="227.4" cy="324.4" r="1.30"/><circle cx="230.1" cy="324.4" r="1.30"/><circle cx="158.2" cy="327.3" r="1.30"/><circle cx="161.3" cy="327.2" r="1.30"/><circle cx="164.4" cy="327.5" r="1.30"/><circle cx="167.5" cy="327.6" r="1.30"/><circle cx="170.6" cy="327.7" r="1.30"/><circle cx="173.7" cy="327.6" r="1.30"/><circle cx="176.8" cy="327.9" r="1.30"/><circle cx="179.9" cy="327.9" r="1.30"/><circle cx="183.0" cy="328.1" r="1.30"/><circle cx="186.1" cy="327.7" r="1.30"/><circle cx="189.2" cy="328.3" r="1.30"/><circle cx="192.3" cy="327.9" r="1.30"/><circle cx="195.3" cy="328.3" r="1.30"/><circle cx="198.4" cy="328.1" r="1.30"/><circle cx="201.5" cy="328.0" r="1.30"/><circle cx="204.6" cy="328.2" r="1.30"/><circle cx="207.7" cy="327.8" r="1.30"/><circle cx="210.8" cy="327.6" r="1.30"/><circle cx="213.9" cy="327.8" r="1.30"/><circle cx="217.0" cy="327.7" r="1.30"/><circle cx="220.1" cy="327.5" r="1.30"/><circle cx="223.2" cy="327.2" r="1.30"/><circle cx="226.3" cy="327.2" r="1.30"/><circle cx="229.4" cy="327.1" r="1.30"/><circle cx="157.5" cy="332.0" r="1.30"/><circle cx="160.8" cy="331.7" r="1.30"/><circle cx="164.1" cy="331.6" r="1.30"/><circle cx="167.4" cy="331.6" r="1.30"/><circle cx="170.7" cy="331.4" r="1.30"/><circle cx="174.0" cy="331.3" r="1.30"/><circle cx="177.3" cy="331.5" r="1.30"/><circle cx="180.6" cy="331.4" r="1.30"/><circle cx="183.9" cy="331.1" r="1.30"/><circle cx="187.2" cy="331.0" r="1.30"/><circle cx="190.5" cy="330.7" r="1.30"/><circle cx="193.8" cy="330.7" r="1.30"/><circle cx="197.1" cy="330.7" r="1.30"/><circle cx="200.4" cy="331.0" r="1.30"/><circle cx="203.7" cy="331.1" r="1.30"/><circle cx="207.0" cy="330.9" r="1.30"/><circle cx="210.3" cy="331.5" r="1.30"/><circle cx="213.6" cy="331.3" r="1.30"/><circle cx="216.9" cy="331.7" r="1.30"/><circle cx="220.2" cy="331.8" r="1.30"/><circle cx="223.5" cy="332.0" r="1.30"/><circle cx="226.8" cy="331.6" r="1.30"/><circle cx="230.1" cy="331.8" r="1.30"/><circle cx="157.5" cy="333.5" r="1.30"/><circle cx="161.0" cy="333.4" r="1.30"/><circle cx="164.4" cy="333.8" r="1.30"/><circle cx="167.9" cy="334.5" r="1.30"/><circle cx="171.3" cy="334.9" r="1.30"/><circle cx="174.8" cy="335.6" r="1.30"/><circle cx="178.2" cy="335.9" r="1.30"/><circle cx="181.7" cy="336.2" r="1.30"/><circle cx="185.2" cy="336.9" r="1.30"/><circle cx="188.6" cy="337.0" r="1.30"/><circle cx="192.1" cy="337.4" r="1.30"/><circle cx="195.5" cy="337.5" r="1.30"/><circle cx="199.0" cy="336.9" r="1.30"/><circle cx="202.4" cy="336.5" r="1.30"/><circle cx="205.9" cy="336.2" r="1.30"/><circle cx="209.4" cy="335.6" r="1.30"/><circle cx="212.8" cy="335.6" r="1.30"/><circle cx="216.3" cy="335.0" r="1.30"/><circle cx="219.7" cy="334.5" r="1.30"/><circle cx="223.2" cy="333.8" r="1.30"/><circle cx="226.6" cy="333.6" r="1.30"/><circle cx="230.1" cy="333.2" r="1.30"/><circle cx="188.1" cy="341.0" r="1.30"/><circle cx="199.7" cy="341.4" r="1.30"/><circle cx="190.5" cy="342.5" r="1.30"/><circle cx="195.5" cy="345.0" r="1.30"/></g>
<g stroke="#000" stroke-width="1.40" fill="none">
<line x1="156.3" y1="322.4" x2="231.3" y2="322.4" stroke-width="1.6"/>
<line x1="176.3" y1="312.1" x2="211.3" y2="312.1"/>
<line x1="176.3" y1="330.1" x2="211.3" y2="330.1"/>
<line x1="193.8" y1="312.1" x2="193.8" y2="330.1"/>
</g>
<g stroke="#484848" stroke-width="0.95" fill="none">
<line x1="80.8" y1="208.9" x2="193.5" y2="208.9"/>
<line x1="80.8" y1="206.7" x2="80.8" y2="211.1"/>
<line x1="193.5" y1="206.7" x2="193.5" y2="211.1"/>
</g>
<text x="137.0" y="206.6" font-size="6.9" text-anchor="middle" font-weight="bold" style="stroke-width:0.05px">p&lt;0.001</text>
<line x1="25.2" y1="198.5" x2="25.2" y2="349.0" stroke="#000" stroke-width="1.4"/>
<line x1="24.5" y1="349.0" x2="250.5" y2="349.0" stroke="#000" stroke-width="1.4"/>
<line x1="23.4" y1="199.0" x2="25.2" y2="199.0" stroke="#000" stroke-width="1"/>
<text x="22.9" y="201.0" font-size="5.60" text-anchor="end" font-weight="bold" style="stroke-width:0.25px">25</text>
<line x1="23.4" y1="229.0" x2="25.2" y2="229.0" stroke="#000" stroke-width="1"/>
<text x="22.9" y="231.0" font-size="5.60" text-anchor="end" font-weight="bold" style="stroke-width:0.25px">20</text>
<line x1="23.4" y1="259.0" x2="25.2" y2="259.0" stroke="#000" stroke-width="1"/>
<text x="22.9" y="261.0" font-size="5.60" text-anchor="end" font-weight="bold" style="stroke-width:0.25px">15</text>
<line x1="23.4" y1="289.0" x2="25.2" y2="289.0" stroke="#000" stroke-width="1"/>
<text x="22.9" y="291.0" font-size="5.60" text-anchor="end" font-weight="bold" style="stroke-width:0.25px">10</text>
<line x1="23.4" y1="319.0" x2="25.2" y2="319.0" stroke="#000" stroke-width="1"/>
<text x="22.9" y="321.0" font-size="5.60" text-anchor="end" font-weight="bold" style="stroke-width:0.25px">5</text>
<line x1="23.4" y1="349.0" x2="25.2" y2="349.0" stroke="#000" stroke-width="1"/>
<text x="22.9" y="351.0" font-size="5.60" text-anchor="end" font-weight="bold" style="stroke-width:0.25px">0</text>
<text transform="translate(9.4,269.4) rotate(-90)" font-size="9.08" text-anchor="middle" font-weight="bold">VWFpp/VWF:Ag ratio</text>
<text x="81.0" y="359.2" font-size="8.8" text-anchor="middle" font-weight="bold">type 1</text>
<text x="193.4" y="359.2" font-size="8.8" text-anchor="middle" font-weight="bold">type 2</text>
<line x1="294.0" y1="338.9" x2="519.0" y2="338.9" stroke="#555" stroke-width="1.0" stroke-dasharray="1 1"/>
<line x1="294.0" y1="346.3" x2="519.0" y2="346.3" stroke="#555" stroke-width="1.0" stroke-dasharray="1 1"/>
<g fill="#f4f4f4" stroke="#383838" stroke-width="0.95"><circle cx="319.5" cy="223.8" r="1.30"/><circle cx="323.4" cy="224.4" r="1.30"/><circle cx="321.5" cy="246.0" r="1.30"/><circle cx="319.5" cy="258.5" r="1.30"/><circle cx="325.3" cy="258.9" r="1.30"/><circle cx="323.4" cy="260.0" r="1.30"/><circle cx="319.5" cy="263.0" r="1.30"/><circle cx="319.5" cy="268.3" r="1.30"/><circle cx="323.4" cy="269.3" r="1.30"/><circle cx="321.5" cy="279.9" r="1.30"/><circle cx="321.5" cy="283.7" r="1.30"/><circle cx="323.4" cy="286.2" r="1.30"/><circle cx="319.5" cy="287.8" r="1.30"/><circle cx="325.3" cy="290.3" r="1.30"/><circle cx="317.6" cy="292.0" r="1.30"/><circle cx="321.5" cy="292.3" r="1.30"/><circle cx="321.3" cy="295.8" r="1.30"/><circle cx="319.6" cy="299.7" r="1.30"/><circle cx="323.5" cy="300.9" r="1.30"/><circle cx="313.8" cy="301.8" r="1.30"/><circle cx="317.7" cy="302.9" r="1.30"/><circle cx="325.4" cy="302.9" r="1.30"/><circle cx="328.6" cy="302.9" r="1.30"/><circle cx="321.3" cy="305.2" r="1.30"/><circle cx="306.0" cy="306.7" r="1.30"/><circle cx="309.4" cy="307.3" r="1.30"/><circle cx="312.9" cy="308.1" r="1.30"/><circle cx="316.3" cy="308.7" r="1.30"/><circle cx="319.8" cy="309.0" r="1.30"/><circle cx="323.2" cy="309.0" r="1.30"/><circle cx="326.7" cy="308.5" r="1.30"/><circle cx="330.1" cy="308.1" r="1.30"/><circle cx="333.6" cy="307.2" r="1.30"/><circle cx="337.0" cy="306.7" r="1.30"/><circle cx="305.3" cy="310.1" r="1.30"/><circle cx="308.5" cy="309.9" r="1.30"/><circle cx="311.8" cy="310.1" r="1.30"/><circle cx="315.0" cy="310.6" r="1.30"/><circle cx="318.3" cy="310.7" r="1.30"/><circle cx="321.5" cy="310.6" r="1.30"/><circle cx="324.7" cy="310.2" r="1.30"/><circle cx="328.0" cy="310.6" r="1.30"/><circle cx="331.2" cy="310.3" r="1.30"/><circle cx="334.5" cy="310.3" r="1.30"/><circle cx="337.7" cy="310.2" r="1.30"/><circle cx="305.8" cy="313.0" r="1.30"/><circle cx="308.9" cy="312.8" r="1.30"/><circle cx="312.1" cy="312.8" r="1.30"/><circle cx="315.2" cy="313.0" r="1.30"/><circle cx="318.4" cy="313.2" r="1.30"/><circle cx="321.5" cy="313.4" r="1.30"/><circle cx="324.6" cy="313.0" r="1.30"/><circle cx="327.8" cy="312.9" r="1.30"/><circle cx="330.9" cy="313.1" r="1.30"/><circle cx="334.1" cy="312.9" r="1.30"/><circle cx="337.2" cy="312.6" r="1.30"/><circle cx="305.3" cy="315.7" r="1.30"/><circle cx="308.2" cy="315.7" r="1.30"/><circle cx="311.2" cy="315.4" r="1.30"/><circle cx="314.1" cy="315.8" r="1.30"/><circle cx="317.1" cy="316.1" r="1.30"/><circle cx="320.0" cy="315.9" r="1.30"/><circle cx="323.0" cy="316.2" r="1.30"/><circle cx="325.9" cy="315.6" r="1.30"/><circle cx="328.9" cy="315.7" r="1.30"/><circle cx="331.8" cy="315.9" r="1.30"/><circle cx="334.8" cy="315.6" r="1.30"/><circle cx="337.7" cy="315.6" r="1.30"/><circle cx="305.3" cy="318.0" r="1.30"/><circle cx="308.2" cy="318.3" r="1.30"/><circle cx="311.2" cy="318.5" r="1.30"/><circle cx="314.1" cy="318.4" r="1.30"/><circle cx="317.1" cy="318.8" r="1.30"/><circle cx="320.0" cy="318.8" r="1.30"/><circle cx="323.0" cy="319.1" r="1.30"/><circle cx="325.9" cy="318.7" r="1.30"/><circle cx="328.9" cy="318.5" r="1.30"/><circle cx="331.8" cy="318.2" r="1.30"/><circle cx="334.8" cy="318.1" r="1.30"/><circle cx="337.7" cy="318.4" r="1.30"/><circle cx="305.3" cy="320.7" r="1.30"/><circle cx="308.2" cy="320.8" r="1.30"/><circle cx="311.2" cy="321.0" r="1.30"/><circle cx="314.1" cy="321.3" r="1.30"/><circle cx="317.1" cy="321.6" r="1.30"/><circle cx="320.0" cy="321.6" r="1.30"/><circle cx="323.0" cy="321.7" r="1.30"/><circle cx="325.9" cy="321.2" r="1.30"/><circle cx="328.9" cy="321.0" r="1.30"/><circle cx="331.8" cy="321.3" r="1.30"/><circle cx="334.8" cy="321.0" r="1.30"/><circle cx="337.7" cy="321.1" r="1.30"/><circle cx="305.4" cy="323.6" r="1.30"/><circle cx="308.3" cy="323.6" r="1.30"/><circle cx="311.3" cy="323.8" r="1.30"/><circle cx="314.2" cy="323.8" r="1.30"/><circle cx="317.1" cy="324.4" r="1.30"/><circle cx="320.0" cy="324.3" r="1.30"/><circle cx="323.0" cy="324.2" r="1.30"/><circle cx="325.9" cy="324.1" r="1.30"/><circle cx="328.8" cy="324.0" r="1.30"/><circle cx="331.7" cy="323.7" r="1.30"/><circle cx="334.7" cy="324.1" r="1.30"/><circle cx="337.6" cy="323.8" r="1.30"/><circle cx="305.5" cy="326.7" r="1.30"/><circle cx="308.4" cy="326.5" r="1.30"/><circle cx="311.3" cy="326.8" r="1.30"/><circle cx="314.2" cy="326.7" r="1.30"/><circle cx="317.1" cy="326.7" r="1.30"/><circle cx="320.0" cy="327.3" r="1.30"/><circle cx="323.0" cy="327.3" r="1.30"/><circle cx="325.9" cy="326.8" r="1.30"/><circle cx="328.8" cy="327.0" r="1.30"/><circle cx="331.7" cy="326.9" r="1.30"/><circle cx="334.6" cy="326.5" r="1.30"/><circle cx="337.5" cy="326.5" r="1.30"/><circle cx="305.4" cy="329.5" r="1.30"/><circle cx="308.6" cy="329.3" r="1.30"/><circle cx="311.9" cy="329.7" r="1.30"/><circle cx="315.1" cy="329.4" r="1.30"/><circle cx="318.3" cy="329.7" r="1.30"/><circle cx="321.5" cy="330.0" r="1.30"/><circle cx="324.7" cy="329.6" r="1.30"/><circle cx="327.9" cy="329.5" r="1.30"/><circle cx="331.1" cy="329.7" r="1.30"/><circle cx="334.4" cy="329.3" r="1.30"/><circle cx="337.6" cy="329.4" r="1.30"/><circle cx="304.5" cy="333.7" r="1.30"/><circle cx="307.9" cy="334.6" r="1.30"/><circle cx="311.3" cy="335.6" r="1.30"/><circle cx="314.7" cy="336.3" r="1.30"/><circle cx="318.1" cy="337.7" r="1.30"/><circle cx="321.5" cy="338.2" r="1.30"/><circle cx="324.9" cy="337.5" r="1.30"/><circle cx="328.3" cy="336.3" r="1.30"/><circle cx="331.7" cy="335.7" r="1.30"/><circle cx="335.1" cy="334.7" r="1.30"/><circle cx="338.5" cy="333.8" r="1.30"/><circle cx="311.2" cy="334.3" r="1.30"/><circle cx="314.7" cy="334.8" r="1.30"/><circle cx="317.9" cy="334.4" r="1.30"/><circle cx="321.3" cy="334.5" r="1.30"/><circle cx="325.0" cy="334.3" r="1.30"/><circle cx="327.9" cy="334.5" r="1.30"/><circle cx="331.2" cy="334.7" r="1.30"/><circle cx="315.7" cy="341.5" r="1.30"/><circle cx="327.3" cy="341.5" r="1.30"/><circle cx="319.6" cy="344.0" r="1.30"/><circle cx="323.5" cy="345.3" r="1.30"/></g>
<g stroke="#000" stroke-width="1.40" fill="none">
<line x1="302.8" y1="322.2" x2="340.2" y2="322.2" stroke-width="1.6"/>
<line x1="312.5" y1="311.5" x2="330.5" y2="311.5"/>
<line x1="312.5" y1="328.6" x2="330.5" y2="328.6"/>
<line x1="321.5" y1="311.5" x2="321.5" y2="328.6"/>
</g>
<g fill="#f4f4f4" stroke="#383838" stroke-width="0.95"><circle cx="377.7" cy="289.0" r="1.30"/><circle cx="373.8" cy="301.9" r="1.30"/><circle cx="377.7" cy="300.6" r="1.30"/><circle cx="381.3" cy="303.8" r="1.30"/><circle cx="377.4" cy="305.5" r="1.30"/><circle cx="375.7" cy="309.3" r="1.30"/><circle cx="381.5" cy="311.3" r="1.30"/><circle cx="368.0" cy="312.6" r="1.30"/><circle cx="387.3" cy="311.9" r="1.30"/><circle cx="371.6" cy="314.5" r="1.30"/><circle cx="383.7" cy="313.7" r="1.30"/><circle cx="375.7" cy="315.6" r="1.30"/><circle cx="379.6" cy="315.4" r="1.30"/><circle cx="360.9" cy="317.7" r="1.30"/><circle cx="364.5" cy="318.4" r="1.30"/><circle cx="368.0" cy="319.0" r="1.30"/><circle cx="394.4" cy="317.7" r="1.30"/><circle cx="390.9" cy="318.4" r="1.30"/><circle cx="387.3" cy="319.6" r="1.30"/><circle cx="371.9" cy="320.3" r="1.30"/><circle cx="383.5" cy="320.9" r="1.30"/><circle cx="366.1" cy="322.2" r="1.30"/><circle cx="389.3" cy="322.2" r="1.30"/><circle cx="369.9" cy="323.5" r="1.30"/><circle cx="385.4" cy="323.8" r="1.30"/><circle cx="373.8" cy="324.4" r="1.30"/><circle cx="381.5" cy="325.0" r="1.30"/><circle cx="377.7" cy="325.7" r="1.30"/><circle cx="362.2" cy="326.3" r="1.30"/><circle cx="393.1" cy="326.6" r="1.30"/><circle cx="366.1" cy="327.6" r="1.30"/><circle cx="389.3" cy="327.9" r="1.30"/><circle cx="369.3" cy="328.9" r="1.30"/><circle cx="385.4" cy="328.9" r="1.30"/><circle cx="371.9" cy="331.5" r="1.30"/><circle cx="383.5" cy="330.5" r="1.30"/><circle cx="375.7" cy="330.2" r="1.30"/><circle cx="380.9" cy="331.5" r="1.30"/><circle cx="379.6" cy="332.5" r="1.30"/><circle cx="375.1" cy="334.1" r="1.30"/><circle cx="376.4" cy="332.1" r="1.30"/></g>
<g stroke="#000" stroke-width="1.40" fill="none">
<line x1="359.1" y1="321.4" x2="396.3" y2="321.4" stroke-width="1.6"/>
<line x1="368.4" y1="314.1" x2="387.0" y2="314.1"/>
<line x1="368.4" y1="327.4" x2="387.0" y2="327.4"/>
<line x1="377.7" y1="314.1" x2="377.7" y2="327.4"/>
</g>
<g fill="#f4f4f4" stroke="#383838" stroke-width="0.95"><circle cx="433.7" cy="283.0" r="1.30"/><circle cx="433.7" cy="300.7" r="1.30"/><circle cx="430.1" cy="309.1" r="1.30"/><circle cx="434.0" cy="310.0" r="1.30"/><circle cx="437.8" cy="309.7" r="1.30"/><circle cx="426.6" cy="311.4" r="1.30"/><circle cx="440.4" cy="311.4" r="1.30"/><circle cx="432.0" cy="313.0" r="1.30"/><circle cx="435.9" cy="314.9" r="1.30"/><circle cx="426.2" cy="317.2" r="1.30"/><circle cx="430.1" cy="318.1" r="1.30"/><circle cx="437.8" cy="318.5" r="1.30"/><circle cx="441.7" cy="317.2" r="1.30"/><circle cx="428.2" cy="323.3" r="1.30"/><circle cx="439.5" cy="323.9" r="1.30"/><circle cx="432.0" cy="325.8" r="1.30"/><circle cx="435.9" cy="326.5" r="1.30"/><circle cx="422.4" cy="329.7" r="1.30"/><circle cx="443.6" cy="329.1" r="1.30"/><circle cx="426.2" cy="330.3" r="1.30"/><circle cx="439.7" cy="330.3" r="1.30"/><circle cx="430.1" cy="331.6" r="1.30"/><circle cx="435.9" cy="330.7" r="1.30"/><circle cx="432.0" cy="334.2" r="1.30"/><circle cx="435.9" cy="336.1" r="1.30"/><circle cx="434.0" cy="340.9" r="1.30"/></g>
<g stroke="#000" stroke-width="1.40" fill="none">
<line x1="415.2" y1="320.3" x2="452.6" y2="320.3" stroke-width="1.6"/>
<line x1="424.5" y1="311.9" x2="443.3" y2="311.9"/>
<line x1="424.5" y1="330.3" x2="443.3" y2="330.3"/>
<line x1="433.9" y1="311.9" x2="433.9" y2="330.3"/>
</g>
<g fill="#f4f4f4" stroke="#383838" stroke-width="0.95"><circle cx="490.0" cy="297.5" r="1.30"/><circle cx="488.3" cy="319.4" r="1.30"/><circle cx="493.7" cy="320.7" r="1.30"/><circle cx="488.3" cy="326.2" r="1.30"/><circle cx="491.9" cy="324.3" r="1.30"/><circle cx="484.5" cy="330.3" r="1.30"/><circle cx="495.8" cy="332.6" r="1.30"/><circle cx="482.9" cy="334.6" r="1.30"/><circle cx="488.3" cy="334.6" r="1.30"/><circle cx="492.2" cy="334.6" r="1.30"/><circle cx="483.8" cy="336.5" r="1.30"/><circle cx="487.0" cy="337.8" r="1.30"/><circle cx="490.9" cy="338.2" r="1.30"/><circle cx="494.5" cy="337.8" r="1.30"/><circle cx="498.0" cy="336.9" r="1.30"/></g>
<g stroke="#000" stroke-width="1.40" fill="none">
<line x1="471.7" y1="333.3" x2="508.7" y2="333.3" stroke-width="1.6"/>
<line x1="480.9" y1="323.0" x2="499.5" y2="323.0"/>
<line x1="480.9" y1="337.4" x2="499.5" y2="337.4"/>
<line x1="490.2" y1="323.0" x2="490.2" y2="337.4"/>
</g>
<g stroke="#484848" stroke-width="0.95" fill="none">
<line x1="324.2" y1="210.4" x2="496.5" y2="210.4"/>
<line x1="324.2" y1="208.2" x2="324.2" y2="212.6"/>
<line x1="496.5" y1="208.2" x2="496.5" y2="212.6"/>
</g>
<text x="414.2" y="207.8" font-size="6.9" text-anchor="middle" font-weight="bold" style="stroke-width:0.05px">p=0.003</text>
<g stroke="#484848" stroke-width="0.95" fill="none">
<line x1="379.2" y1="225.8" x2="496.5" y2="225.8"/>
<line x1="379.2" y1="223.6" x2="379.2" y2="228.0"/>
<line x1="496.5" y1="223.6" x2="496.5" y2="228.0"/>
</g>
<text x="442.7" y="224.0" font-size="6.9" text-anchor="middle" font-weight="bold" style="stroke-width:0.05px">p=0.001</text>
<g stroke="#484848" stroke-width="0.95" fill="none">
<line x1="434.2" y1="244.2" x2="496.5" y2="244.2"/>
<line x1="434.2" y1="242.0" x2="434.2" y2="246.4"/>
<line x1="496.5" y1="242.0" x2="496.5" y2="246.4"/>
</g>
<text x="466.2" y="242.8" font-size="6.9" text-anchor="middle" font-weight="bold" style="stroke-width:0.05px">p=0.012</text>
<line x1="293.2" y1="198.5" x2="293.2" y2="349.0" stroke="#000" stroke-width="1.4"/>
<line x1="292.5" y1="349.0" x2="518.0" y2="349.0" stroke="#000" stroke-width="1.4"/>
<line x1="291.4" y1="199.0" x2="293.2" y2="199.0" stroke="#000" stroke-width="1"/>
<text x="290.9" y="201.0" font-size="5.60" text-anchor="end" font-weight="bold" style="stroke-width:0.25px">25</text>
<line x1="291.4" y1="229.0" x2="293.2" y2="229.0" stroke="#000" stroke-width="1"/>
<text x="290.9" y="231.0" font-size="5.60" text-anchor="end" font-weight="bold" style="stroke-width:0.25px">20</text>
<line x1="291.4" y1="259.0" x2="293.2" y2="259.0" stroke="#000" stroke-width="1"/>
<text x="290.9" y="261.0" font-size="5.60" text-anchor="end" font-weight="bold" style="stroke-width:0.25px">15</text>
<line x1="291.4" y1="289.0" x2="293.2" y2="289.0" stroke="#000" stroke-width="1"/>
<text x="290.9" y="291.0" font-size="5.60" text-anchor="end" font-weight="bold" style="stroke-width:0.25px">10</text>
<line x1="291.4" y1="319.0" x2="293.2" y2="319.0" stroke="#000" stroke-width="1"/>
<text x="290.9" y="321.0" font-size="5.60" text-anchor="end" font-weight="bold" style="stroke-width:0.25px">5</text>
<line x1="291.4" y1="349.0" x2="293.2" y2="349.0" stroke="#000" stroke-width="1"/>
<text x="290.9" y="351.0" font-size="5.60" text-anchor="end" font-weight="bold" style="stroke-width:0.25px">0</text>
<text transform="translate(277.8,269.6) rotate(-90)" font-size="9.08" text-anchor="middle" font-weight="bold">VWFpp/VWF:Ag ratio</text>
<text x="320.6" y="359.2" font-size="8.8" text-anchor="middle" font-weight="bold">2A</text>
<text x="376.8" y="359.2" font-size="8.8" text-anchor="middle" font-weight="bold">2B</text>
<text x="433.0" y="359.2" font-size="8.8" text-anchor="middle" font-weight="bold">2M</text>
<text x="489.6" y="359.2" font-size="8.8" text-anchor="middle" font-weight="bold">2N</text>
<line x1="26.0" y1="474.9" x2="251.0" y2="474.9" stroke="#555" stroke-width="1.0" stroke-dasharray="1 1"/>
<line x1="26.0" y1="513.0" x2="251.0" y2="513.0" stroke="#555" stroke-width="1.0" stroke-dasharray="1 1"/>
<g fill="#f4f4f4" stroke="#383838" stroke-width="0.95"><circle cx="79.2" cy="381.9" r="1.30"/><circle cx="83.3" cy="385.9" r="1.30"/><circle cx="75.6" cy="391.8" r="1.30"/><circle cx="87.4" cy="391.3" r="1.30"/><circle cx="79.2" cy="394.9" r="1.30"/><circle cx="83.3" cy="394.3" r="1.30"/><circle cx="79.5" cy="403.1" r="1.30"/><circle cx="83.3" cy="404.1" r="1.30"/><circle cx="77.6" cy="405.7" r="1.30"/><circle cx="81.7" cy="409.3" r="1.30"/><circle cx="85.3" cy="408.5" r="1.30"/><circle cx="77.6" cy="414.7" r="1.30"/><circle cx="81.7" cy="414.7" r="1.30"/><circle cx="85.3" cy="413.1" r="1.30"/><circle cx="77.6" cy="419.4" r="1.30"/><circle cx="81.7" cy="422.4" r="1.30"/><circle cx="85.3" cy="421.1" r="1.30"/><circle cx="71.5" cy="422.9" r="1.30"/><circle cx="75.6" cy="424.0" r="1.30"/><circle cx="91.0" cy="423.2" r="1.30"/><circle cx="96.7" cy="444.4" r="1.30"/><circle cx="70.8" cy="426.1" r="1.30"/><circle cx="75.2" cy="426.4" r="1.30"/><circle cx="79.2" cy="425.9" r="1.30"/><circle cx="84.1" cy="426.3" r="1.30"/><circle cx="88.1" cy="427.3" r="1.30"/><circle cx="92.2" cy="426.4" r="1.30"/><circle cx="68.6" cy="429.3" r="1.30"/><circle cx="72.5" cy="429.5" r="1.30"/><circle cx="77.4" cy="429.2" r="1.30"/><circle cx="81.5" cy="429.8" r="1.30"/><circle cx="85.8" cy="430.2" r="1.30"/><circle cx="90.1" cy="429.9" r="1.30"/><circle cx="94.4" cy="429.0" r="1.30"/><circle cx="68.5" cy="432.7" r="1.30"/><circle cx="72.7" cy="433.1" r="1.30"/><circle cx="76.8" cy="432.6" r="1.30"/><circle cx="81.2" cy="432.5" r="1.30"/><circle cx="85.8" cy="432.6" r="1.30"/><circle cx="90.5" cy="433.5" r="1.30"/><circle cx="70.6" cy="436.6" r="1.30"/><circle cx="75.0" cy="436.1" r="1.30"/><circle cx="79.6" cy="435.8" r="1.30"/><circle cx="83.4" cy="436.5" r="1.30"/><circle cx="88.3" cy="437.0" r="1.30"/><circle cx="92.1" cy="435.4" r="1.30"/><circle cx="70.3" cy="439.0" r="1.30"/><circle cx="74.7" cy="438.7" r="1.30"/><circle cx="79.6" cy="438.9" r="1.30"/><circle cx="83.5" cy="439.9" r="1.30"/><circle cx="92.7" cy="440.1" r="1.30"/><circle cx="70.8" cy="441.9" r="1.30"/><circle cx="74.7" cy="441.9" r="1.30"/><circle cx="79.1" cy="443.3" r="1.30"/><circle cx="83.4" cy="443.2" r="1.30"/><circle cx="88.3" cy="442.6" r="1.30"/><circle cx="92.2" cy="442.4" r="1.30"/><circle cx="71.6" cy="445.9" r="1.30"/><circle cx="75.6" cy="446.4" r="1.30"/><circle cx="79.1" cy="445.9" r="1.30"/><circle cx="83.6" cy="445.9" r="1.30"/><circle cx="92.0" cy="446.4" r="1.30"/><circle cx="73.1" cy="449.3" r="1.30"/><circle cx="81.4" cy="449.0" r="1.30"/><circle cx="85.6" cy="448.9" r="1.30"/><circle cx="90.1" cy="449.6" r="1.30"/><circle cx="73.4" cy="452.5" r="1.30"/><circle cx="77.3" cy="452.2" r="1.30"/><circle cx="81.6" cy="451.9" r="1.30"/><circle cx="85.5" cy="453.1" r="1.30"/><circle cx="89.7" cy="451.9" r="1.30"/><circle cx="50.0" cy="454.6" r="1.30"/><circle cx="53.8" cy="454.4" r="1.30"/><circle cx="57.5" cy="454.6" r="1.30"/><circle cx="61.1" cy="454.8" r="1.30"/><circle cx="64.8" cy="454.9" r="1.30"/><circle cx="68.5" cy="454.9" r="1.30"/><circle cx="72.2" cy="455.2" r="1.30"/><circle cx="76.0" cy="455.3" r="1.30"/><circle cx="79.7" cy="455.7" r="1.30"/><circle cx="83.3" cy="455.6" r="1.30"/><circle cx="87.0" cy="455.2" r="1.30"/><circle cx="90.8" cy="455.2" r="1.30"/><circle cx="94.5" cy="455.2" r="1.30"/><circle cx="98.2" cy="455.0" r="1.30"/><circle cx="101.8" cy="454.7" r="1.30"/><circle cx="105.5" cy="454.5" r="1.30"/><circle cx="109.2" cy="454.3" r="1.30"/><circle cx="113.0" cy="454.7" r="1.30"/><circle cx="45.5" cy="456.5" r="1.30"/><circle cx="49.1" cy="457.0" r="1.30"/><circle cx="52.7" cy="457.3" r="1.30"/><circle cx="56.3" cy="457.2" r="1.30"/><circle cx="59.9" cy="457.1" r="1.30"/><circle cx="63.5" cy="457.5" r="1.30"/><circle cx="67.1" cy="457.6" r="1.30"/><circle cx="70.7" cy="457.6" r="1.30"/><circle cx="74.3" cy="457.9" r="1.30"/><circle cx="77.9" cy="457.8" r="1.30"/><circle cx="81.5" cy="458.5" r="1.30"/><circle cx="85.1" cy="458.1" r="1.30"/><circle cx="88.7" cy="458.0" r="1.30"/><circle cx="92.3" cy="458.0" r="1.30"/><circle cx="95.9" cy="457.7" r="1.30"/><circle cx="99.5" cy="457.3" r="1.30"/><circle cx="103.1" cy="457.2" r="1.30"/><circle cx="106.7" cy="457.0" r="1.30"/><circle cx="110.3" cy="456.8" r="1.30"/><circle cx="113.9" cy="457.1" r="1.30"/><circle cx="117.5" cy="457.0" r="1.30"/><circle cx="48.0" cy="459.4" r="1.30"/><circle cx="51.5" cy="459.7" r="1.30"/><circle cx="55.1" cy="459.9" r="1.30"/><circle cx="58.6" cy="459.6" r="1.30"/><circle cx="62.1" cy="460.1" r="1.30"/><circle cx="65.6" cy="460.3" r="1.30"/><circle cx="69.2" cy="460.4" r="1.30"/><circle cx="72.7" cy="460.2" r="1.30"/><circle cx="76.2" cy="460.3" r="1.30"/><circle cx="79.7" cy="460.8" r="1.30"/><circle cx="83.3" cy="460.5" r="1.30"/><circle cx="86.8" cy="460.4" r="1.30"/><circle cx="90.3" cy="460.4" r="1.30"/><circle cx="93.8" cy="460.1" r="1.30"/><circle cx="97.4" cy="460.3" r="1.30"/><circle cx="100.9" cy="459.8" r="1.30"/><circle cx="104.4" cy="459.5" r="1.30"/><circle cx="107.9" cy="459.7" r="1.30"/><circle cx="111.5" cy="459.6" r="1.30"/><circle cx="115.0" cy="459.6" r="1.30"/><circle cx="45.2" cy="462.0" r="1.30"/><circle cx="48.7" cy="462.2" r="1.30"/><circle cx="52.1" cy="462.0" r="1.30"/><circle cx="55.6" cy="462.2" r="1.30"/><circle cx="59.1" cy="462.1" r="1.30"/><circle cx="62.5" cy="462.3" r="1.30"/><circle cx="66.0" cy="462.6" r="1.30"/><circle cx="69.4" cy="462.5" r="1.30"/><circle cx="72.9" cy="463.0" r="1.30"/><circle cx="76.3" cy="462.8" r="1.30"/><circle cx="79.8" cy="463.1" r="1.30"/><circle cx="83.2" cy="463.4" r="1.30"/><circle cx="86.7" cy="462.7" r="1.30"/><circle cx="90.1" cy="462.6" r="1.30"/><circle cx="93.6" cy="462.7" r="1.30"/><circle cx="97.0" cy="462.4" r="1.30"/><circle cx="100.5" cy="462.6" r="1.30"/><circle cx="103.9" cy="462.0" r="1.30"/><circle cx="107.4" cy="462.4" r="1.30"/><circle cx="110.8" cy="462.2" r="1.30"/><circle cx="114.3" cy="462.1" r="1.30"/><circle cx="117.8" cy="461.7" r="1.30"/><circle cx="49.4" cy="464.4" r="1.30"/><circle cx="52.8" cy="464.5" r="1.30"/><circle cx="56.1" cy="464.6" r="1.30"/><circle cx="59.5" cy="464.8" r="1.30"/><circle cx="62.9" cy="465.1" r="1.30"/><circle cx="66.3" cy="465.3" r="1.30"/><circle cx="69.7" cy="465.5" r="1.30"/><circle cx="73.0" cy="465.2" r="1.30"/><circle cx="76.4" cy="465.4" r="1.30"/><circle cx="79.8" cy="465.6" r="1.30"/><circle cx="83.2" cy="465.7" r="1.30"/><circle cx="86.6" cy="465.4" r="1.30"/><circle cx="90.0" cy="465.2" r="1.30"/><circle cx="93.3" cy="465.0" r="1.30"/><circle cx="96.7" cy="465.0" r="1.30"/><circle cx="100.1" cy="464.9" r="1.30"/><circle cx="103.5" cy="465.1" r="1.30"/><circle cx="106.8" cy="464.9" r="1.30"/><circle cx="110.2" cy="464.8" r="1.30"/><circle cx="113.6" cy="464.7" r="1.30"/><circle cx="45.2" cy="466.8" r="1.30"/><circle cx="48.5" cy="467.1" r="1.30"/><circle cx="51.8" cy="466.7" r="1.30"/><circle cx="55.1" cy="467.2" r="1.30"/><circle cx="58.4" cy="467.3" r="1.30"/><circle cx="61.7" cy="467.3" r="1.30"/><circle cx="65.0" cy="467.6" r="1.30"/><circle cx="68.3" cy="467.9" r="1.30"/><circle cx="71.6" cy="467.8" r="1.30"/><circle cx="74.9" cy="468.0" r="1.30"/><circle cx="78.2" cy="467.9" r="1.30"/><circle cx="81.5" cy="468.1" r="1.30"/><circle cx="84.8" cy="468.3" r="1.30"/><circle cx="88.1" cy="467.7" r="1.30"/><circle cx="91.4" cy="467.6" r="1.30"/><circle cx="94.7" cy="467.8" r="1.30"/><circle cx="98.0" cy="467.5" r="1.30"/><circle cx="101.3" cy="467.2" r="1.30"/><circle cx="104.6" cy="467.4" r="1.30"/><circle cx="107.9" cy="467.1" r="1.30"/><circle cx="111.2" cy="467.1" r="1.30"/><circle cx="114.5" cy="466.8" r="1.30"/><circle cx="117.8" cy="466.8" r="1.30"/><circle cx="48.3" cy="469.1" r="1.30"/><circle cx="51.5" cy="469.3" r="1.30"/><circle cx="54.6" cy="469.9" r="1.30"/><circle cx="57.8" cy="469.8" r="1.30"/><circle cx="61.0" cy="469.6" r="1.30"/><circle cx="64.1" cy="470.2" r="1.30"/><circle cx="67.3" cy="470.0" r="1.30"/><circle cx="70.4" cy="470.0" r="1.30"/><circle cx="73.6" cy="470.4" r="1.30"/><circle cx="76.8" cy="470.4" r="1.30"/><circle cx="79.9" cy="470.6" r="1.30"/><circle cx="83.1" cy="470.7" r="1.30"/><circle cx="86.2" cy="470.3" r="1.30"/><circle cx="89.4" cy="470.4" r="1.30"/><circle cx="92.6" cy="470.0" r="1.30"/><circle cx="95.7" cy="470.1" r="1.30"/><circle cx="98.9" cy="470.1" r="1.30"/><circle cx="102.0" cy="469.6" r="1.30"/><circle cx="105.2" cy="469.7" r="1.30"/><circle cx="108.4" cy="469.4" r="1.30"/><circle cx="111.5" cy="469.5" r="1.30"/><circle cx="114.7" cy="469.6" r="1.30"/><circle cx="49.3" cy="472.1" r="1.30"/><circle cx="52.4" cy="471.8" r="1.30"/><circle cx="55.5" cy="472.5" r="1.30"/><circle cx="58.5" cy="472.4" r="1.30"/><circle cx="61.6" cy="472.2" r="1.30"/><circle cx="64.7" cy="472.7" r="1.30"/><circle cx="67.7" cy="472.6" r="1.30"/><circle cx="70.8" cy="472.6" r="1.30"/><circle cx="73.8" cy="473.2" r="1.30"/><circle cx="76.9" cy="473.1" r="1.30"/><circle cx="80.0" cy="473.3" r="1.30"/><circle cx="83.0" cy="472.9" r="1.30"/><circle cx="86.1" cy="473.2" r="1.30"/><circle cx="89.2" cy="472.6" r="1.30"/><circle cx="92.2" cy="472.6" r="1.30"/><circle cx="95.3" cy="472.6" r="1.30"/><circle cx="98.3" cy="472.2" r="1.30"/><circle cx="101.4" cy="472.5" r="1.30"/><circle cx="104.5" cy="472.1" r="1.30"/><circle cx="107.5" cy="472.0" r="1.30"/><circle cx="110.6" cy="472.2" r="1.30"/><circle cx="113.7" cy="471.9" r="1.30"/><circle cx="45.5" cy="474.3" r="1.30"/><circle cx="48.0" cy="474.6" r="1.30"/><circle cx="50.5" cy="474.5" r="1.30"/><circle cx="53.0" cy="474.8" r="1.30"/><circle cx="55.5" cy="474.9" r="1.30"/><circle cx="57.9" cy="474.6" r="1.30"/><circle cx="60.4" cy="475.0" r="1.30"/><circle cx="62.9" cy="474.9" r="1.30"/><circle cx="65.4" cy="475.2" r="1.30"/><circle cx="67.9" cy="475.3" r="1.30"/><circle cx="70.3" cy="475.4" r="1.30"/><circle cx="72.8" cy="475.1" r="1.30"/><circle cx="75.3" cy="475.4" r="1.30"/><circle cx="77.8" cy="475.7" r="1.30"/><circle cx="80.3" cy="475.9" r="1.30"/><circle cx="82.7" cy="475.8" r="1.30"/><circle cx="85.2" cy="475.3" r="1.30"/><circle cx="87.7" cy="475.5" r="1.30"/><circle cx="90.2" cy="475.1" r="1.30"/><circle cx="92.7" cy="475.3" r="1.30"/><circle cx="95.1" cy="475.3" r="1.30"/><circle cx="97.6" cy="474.8" r="1.30"/><circle cx="100.1" cy="475.2" r="1.30"/><circle cx="102.6" cy="475.0" r="1.30"/><circle cx="105.1" cy="474.6" r="1.30"/><circle cx="107.5" cy="474.5" r="1.30"/><circle cx="110.0" cy="474.5" r="1.30"/><circle cx="112.5" cy="474.7" r="1.30"/><circle cx="115.0" cy="474.4" r="1.30"/><circle cx="117.5" cy="474.0" r="1.30"/><circle cx="47.5" cy="477.0" r="1.30"/><circle cx="49.2" cy="476.7" r="1.30"/><circle cx="50.9" cy="477.0" r="1.30"/><circle cx="52.6" cy="476.9" r="1.30"/><circle cx="54.3" cy="477.2" r="1.30"/><circle cx="56.0" cy="477.1" r="1.30"/><circle cx="57.7" cy="477.0" r="1.30"/><circle cx="59.4" cy="477.5" r="1.30"/><circle cx="61.1" cy="477.4" r="1.30"/><circle cx="62.8" cy="477.6" r="1.30"/><circle cx="64.5" cy="477.7" r="1.30"/><circle cx="66.2" cy="477.9" r="1.30"/><circle cx="67.9" cy="477.4" r="1.30"/><circle cx="69.6" cy="477.6" r="1.30"/><circle cx="71.3" cy="477.6" r="1.30"/><circle cx="73.0" cy="477.9" r="1.30"/><circle cx="74.7" cy="478.2" r="1.30"/><circle cx="76.4" cy="478.2" r="1.30"/><circle cx="78.1" cy="477.8" r="1.30"/><circle cx="79.8" cy="477.9" r="1.30"/><circle cx="81.5" cy="478.4" r="1.30"/><circle cx="83.2" cy="478.2" r="1.30"/><circle cx="84.9" cy="478.0" r="1.30"/><circle cx="86.6" cy="478.0" r="1.30"/><circle cx="88.3" cy="477.7" r="1.30"/><circle cx="90.0" cy="478.1" r="1.30"/><circle cx="91.7" cy="477.7" r="1.30"/><circle cx="93.4" cy="477.9" r="1.30"/><circle cx="95.1" cy="477.7" r="1.30"/><circle cx="96.8" cy="477.3" r="1.30"/><circle cx="98.5" cy="477.4" r="1.30"/><circle cx="100.2" cy="477.3" r="1.30"/><circle cx="101.9" cy="477.6" r="1.30"/><circle cx="103.6" cy="477.4" r="1.30"/><circle cx="105.3" cy="477.0" r="1.30"/><circle cx="107.0" cy="477.0" r="1.30"/><circle cx="108.7" cy="477.0" r="1.30"/><circle cx="110.4" cy="477.0" r="1.30"/><circle cx="112.1" cy="477.0" r="1.30"/><circle cx="113.8" cy="476.8" r="1.30"/><circle cx="115.5" cy="476.8" r="1.30"/><circle cx="49.2" cy="479.3" r="1.30"/><circle cx="50.9" cy="479.2" r="1.30"/><circle cx="52.6" cy="479.5" r="1.30"/><circle cx="54.3" cy="479.9" r="1.30"/><circle cx="56.0" cy="479.4" r="1.30"/><circle cx="57.7" cy="479.5" r="1.30"/><circle cx="59.4" cy="479.9" r="1.30"/><circle cx="61.1" cy="479.7" r="1.30"/><circle cx="62.8" cy="479.8" r="1.30"/><circle cx="64.5" cy="480.0" r="1.30"/><circle cx="66.2" cy="479.9" r="1.30"/><circle cx="67.9" cy="480.2" r="1.30"/><circle cx="69.6" cy="480.2" r="1.30"/><circle cx="71.3" cy="480.6" r="1.30"/><circle cx="73.0" cy="480.7" r="1.30"/><circle cx="74.7" cy="480.1" r="1.30"/><circle cx="76.4" cy="480.5" r="1.30"/><circle cx="78.1" cy="480.7" r="1.30"/><circle cx="79.8" cy="480.9" r="1.30"/><circle cx="81.5" cy="480.9" r="1.30"/><circle cx="83.2" cy="480.7" r="1.30"/><circle cx="84.9" cy="480.6" r="1.30"/><circle cx="86.6" cy="480.4" r="1.30"/><circle cx="88.3" cy="480.3" r="1.30"/><circle cx="90.0" cy="480.5" r="1.30"/><circle cx="91.7" cy="480.5" r="1.30"/><circle cx="93.4" cy="480.5" r="1.30"/><circle cx="95.1" cy="480.3" r="1.30"/><circle cx="96.8" cy="480.0" r="1.30"/><circle cx="98.5" cy="480.2" r="1.30"/><circle cx="100.2" cy="480.1" r="1.30"/><circle cx="101.9" cy="479.9" r="1.30"/><circle cx="103.6" cy="479.9" r="1.30"/><circle cx="105.3" cy="479.7" r="1.30"/><circle cx="107.0" cy="479.7" r="1.30"/><circle cx="108.7" cy="479.6" r="1.30"/><circle cx="110.4" cy="479.3" r="1.30"/><circle cx="112.1" cy="479.4" r="1.30"/><circle cx="113.8" cy="479.3" r="1.30"/><circle cx="45.2" cy="481.7" r="1.30"/><circle cx="47.4" cy="481.8" r="1.30"/><circle cx="49.6" cy="481.8" r="1.30"/><circle cx="51.8" cy="481.9" r="1.30"/><circle cx="54.0" cy="482.0" r="1.30"/><circle cx="56.2" cy="482.0" r="1.30"/><circle cx="58.4" cy="482.0" r="1.30"/><circle cx="60.6" cy="482.6" r="1.30"/><circle cx="62.8" cy="482.4" r="1.30"/><circle cx="65.0" cy="482.5" r="1.30"/><circle cx="67.2" cy="482.7" r="1.30"/><circle cx="69.4" cy="482.6" r="1.30"/><circle cx="71.6" cy="482.6" r="1.30"/><circle cx="73.8" cy="482.6" r="1.30"/><circle cx="76.0" cy="482.9" r="1.30"/><circle cx="78.2" cy="483.0" r="1.30"/><circle cx="80.4" cy="483.3" r="1.30"/><circle cx="82.6" cy="483.2" r="1.30"/><circle cx="84.8" cy="483.3" r="1.30"/><circle cx="87.0" cy="482.9" r="1.30"/><circle cx="89.2" cy="483.1" r="1.30"/><circle cx="91.4" cy="482.9" r="1.30"/><circle cx="93.6" cy="482.5" r="1.30"/><circle cx="95.8" cy="482.4" r="1.30"/><circle cx="98.0" cy="482.6" r="1.30"/><circle cx="100.2" cy="482.7" r="1.30"/><circle cx="102.4" cy="482.3" r="1.30"/><circle cx="104.6" cy="482.4" r="1.30"/><circle cx="106.8" cy="482.1" r="1.30"/><circle cx="109.0" cy="482.3" r="1.30"/><circle cx="111.2" cy="481.8" r="1.30"/><circle cx="113.4" cy="481.9" r="1.30"/><circle cx="115.6" cy="482.1" r="1.30"/><circle cx="117.8" cy="481.6" r="1.30"/><circle cx="47.1" cy="484.1" r="1.30"/><circle cx="50.1" cy="484.3" r="1.30"/><circle cx="53.1" cy="484.7" r="1.30"/><circle cx="56.1" cy="484.5" r="1.30"/><circle cx="59.1" cy="484.7" r="1.30"/><circle cx="62.1" cy="484.7" r="1.30"/><circle cx="65.0" cy="485.1" r="1.30"/><circle cx="68.0" cy="485.4" r="1.30"/><circle cx="71.0" cy="485.4" r="1.30"/><circle cx="74.0" cy="485.2" r="1.30"/><circle cx="77.0" cy="485.7" r="1.30"/><circle cx="80.0" cy="485.9" r="1.30"/><circle cx="83.0" cy="485.7" r="1.30"/><circle cx="86.0" cy="485.3" r="1.30"/><circle cx="89.0" cy="485.6" r="1.30"/><circle cx="92.0" cy="485.5" r="1.30"/><circle cx="95.0" cy="485.1" r="1.30"/><circle cx="98.0" cy="484.8" r="1.30"/><circle cx="100.9" cy="484.7" r="1.30"/><circle cx="103.9" cy="484.8" r="1.30"/><circle cx="106.9" cy="484.9" r="1.30"/><circle cx="109.9" cy="484.6" r="1.30"/><circle cx="112.9" cy="484.7" r="1.30"/><circle cx="115.9" cy="484.2" r="1.30"/><circle cx="49.5" cy="487.0" r="1.30"/><circle cx="51.5" cy="486.9" r="1.30"/><circle cx="53.5" cy="487.2" r="1.30"/><circle cx="55.5" cy="487.1" r="1.30"/><circle cx="57.5" cy="487.0" r="1.30"/><circle cx="59.5" cy="487.3" r="1.30"/><circle cx="61.5" cy="487.1" r="1.30"/><circle cx="63.5" cy="487.6" r="1.30"/><circle cx="65.5" cy="487.5" r="1.30"/><circle cx="67.5" cy="487.6" r="1.30"/><circle cx="69.5" cy="487.8" r="1.30"/><circle cx="71.5" cy="487.7" r="1.30"/><circle cx="73.5" cy="487.9" r="1.30"/><circle cx="75.5" cy="487.7" r="1.30"/><circle cx="77.5" cy="488.3" r="1.30"/><circle cx="79.5" cy="488.2" r="1.30"/><circle cx="81.5" cy="488.5" r="1.30"/><circle cx="83.5" cy="487.9" r="1.30"/><circle cx="85.5" cy="488.1" r="1.30"/><circle cx="87.5" cy="488.1" r="1.30"/><circle cx="89.5" cy="487.8" r="1.30"/><circle cx="91.5" cy="487.6" r="1.30"/><circle cx="93.5" cy="487.5" r="1.30"/><circle cx="95.5" cy="487.4" r="1.30"/><circle cx="97.5" cy="487.7" r="1.30"/><circle cx="99.5" cy="487.2" r="1.30"/><circle cx="101.5" cy="487.6" r="1.30"/><circle cx="103.5" cy="487.3" r="1.30"/><circle cx="105.5" cy="487.3" r="1.30"/><circle cx="107.5" cy="487.2" r="1.30"/><circle cx="109.5" cy="487.1" r="1.30"/><circle cx="111.5" cy="487.1" r="1.30"/><circle cx="113.5" cy="487.0" r="1.30"/><circle cx="50.0" cy="489.3" r="1.30"/><circle cx="52.5" cy="489.7" r="1.30"/><circle cx="55.0" cy="489.8" r="1.30"/><circle cx="57.6" cy="489.9" r="1.30"/><circle cx="60.1" cy="489.7" r="1.30"/><circle cx="62.6" cy="490.1" r="1.30"/><circle cx="65.1" cy="490.3" r="1.30"/><circle cx="67.6" cy="490.1" r="1.30"/><circle cx="70.2" cy="490.1" r="1.30"/><circle cx="72.7" cy="490.4" r="1.30"/><circle cx="75.2" cy="490.7" r="1.30"/><circle cx="77.7" cy="490.3" r="1.30"/><circle cx="80.2" cy="490.4" r="1.30"/><circle cx="82.8" cy="490.6" r="1.30"/><circle cx="85.3" cy="490.6" r="1.30"/><circle cx="87.8" cy="490.6" r="1.30"/><circle cx="90.3" cy="490.3" r="1.30"/><circle cx="92.8" cy="490.5" r="1.30"/><circle cx="95.4" cy="490.0" r="1.30"/><circle cx="97.9" cy="490.2" r="1.30"/><circle cx="100.4" cy="489.7" r="1.30"/><circle cx="102.9" cy="489.6" r="1.30"/><circle cx="105.4" cy="489.5" r="1.30"/><circle cx="108.0" cy="489.4" r="1.30"/><circle cx="110.5" cy="489.5" r="1.30"/><circle cx="113.0" cy="489.5" r="1.30"/><circle cx="50.1" cy="491.9" r="1.30"/><circle cx="53.6" cy="491.9" r="1.30"/><circle cx="57.1" cy="492.0" r="1.30"/><circle cx="60.6" cy="492.5" r="1.30"/><circle cx="64.0" cy="492.8" r="1.30"/><circle cx="67.5" cy="492.4" r="1.30"/><circle cx="71.0" cy="492.5" r="1.30"/><circle cx="74.5" cy="493.1" r="1.30"/><circle cx="78.0" cy="492.9" r="1.30"/><circle cx="81.5" cy="493.5" r="1.30"/><circle cx="85.0" cy="493.1" r="1.30"/><circle cx="88.5" cy="493.0" r="1.30"/><circle cx="92.0" cy="492.7" r="1.30"/><circle cx="95.5" cy="492.8" r="1.30"/><circle cx="99.0" cy="492.5" r="1.30"/><circle cx="102.4" cy="492.3" r="1.30"/><circle cx="105.9" cy="492.5" r="1.30"/><circle cx="109.4" cy="491.8" r="1.30"/><circle cx="112.9" cy="492.1" r="1.30"/><circle cx="50.0" cy="494.4" r="1.30"/><circle cx="53.7" cy="494.8" r="1.30"/><circle cx="57.4" cy="494.5" r="1.30"/><circle cx="61.1" cy="494.9" r="1.30"/><circle cx="64.8" cy="495.0" r="1.30"/><circle cx="68.5" cy="495.4" r="1.30"/><circle cx="72.2" cy="495.6" r="1.30"/><circle cx="75.9" cy="495.6" r="1.30"/><circle cx="79.6" cy="495.5" r="1.30"/><circle cx="83.4" cy="495.5" r="1.30"/><circle cx="87.1" cy="495.3" r="1.30"/><circle cx="90.8" cy="495.3" r="1.30"/><circle cx="94.5" cy="495.0" r="1.30"/><circle cx="98.2" cy="494.9" r="1.30"/><circle cx="101.9" cy="495.0" r="1.30"/><circle cx="105.6" cy="494.8" r="1.30"/><circle cx="109.3" cy="494.5" r="1.30"/><circle cx="113.0" cy="494.7" r="1.30"/><circle cx="53.0" cy="496.9" r="1.30"/><circle cx="56.8" cy="497.4" r="1.30"/><circle cx="60.6" cy="497.6" r="1.30"/><circle cx="64.4" cy="497.4" r="1.30"/><circle cx="68.2" cy="497.8" r="1.30"/><circle cx="72.0" cy="498.0" r="1.30"/><circle cx="75.8" cy="497.8" r="1.30"/><circle cx="79.6" cy="498.0" r="1.30"/><circle cx="83.4" cy="498.1" r="1.30"/><circle cx="87.2" cy="498.2" r="1.30"/><circle cx="91.0" cy="497.6" r="1.30"/><circle cx="94.8" cy="497.8" r="1.30"/><circle cx="98.6" cy="497.6" r="1.30"/><circle cx="102.4" cy="497.3" r="1.30"/><circle cx="106.2" cy="497.3" r="1.30"/><circle cx="110.0" cy="497.3" r="1.30"/><circle cx="60.6" cy="499.8" r="1.30"/><circle cx="64.4" cy="500.2" r="1.30"/><circle cx="68.2" cy="500.4" r="1.30"/><circle cx="72.0" cy="500.1" r="1.30"/><circle cx="75.8" cy="500.7" r="1.30"/><circle cx="79.6" cy="500.9" r="1.30"/><circle cx="83.4" cy="500.5" r="1.30"/><circle cx="87.2" cy="500.2" r="1.30"/><circle cx="91.0" cy="500.1" r="1.30"/><circle cx="94.8" cy="500.5" r="1.30"/><circle cx="98.6" cy="499.7" r="1.30"/><circle cx="102.4" cy="500.1" r="1.30"/><circle cx="70.0" cy="502.5" r="1.30"/><circle cx="73.7" cy="503.0" r="1.30"/><circle cx="78.1" cy="503.0" r="1.30"/><circle cx="81.8" cy="503.3" r="1.30"/><circle cx="84.9" cy="503.3" r="1.30"/><circle cx="89.2" cy="502.7" r="1.30"/><circle cx="92.3" cy="502.9" r="1.30"/><circle cx="79.2" cy="507.5" r="1.30"/><circle cx="83.3" cy="509.6" r="1.30"/><circle cx="81.3" cy="525.2" r="1.30"/></g>
<g stroke="#000" stroke-width="1.40" fill="none">
<line x1="44.0" y1="477.5" x2="119.0" y2="477.5" stroke-width="1.6"/>
<line x1="63.0" y1="461.1" x2="100.0" y2="461.1"/>
<line x1="63.0" y1="487.9" x2="100.0" y2="487.9"/>
<line x1="81.5" y1="461.1" x2="81.5" y2="487.9"/>
</g>
<g fill="#f4f4f4" stroke="#383838" stroke-width="0.95"><circle cx="193.8" cy="403.7" r="1.30"/><circle cx="193.8" cy="411.1" r="1.30"/><circle cx="190.1" cy="424.4" r="1.30"/><circle cx="197.6" cy="425.3" r="1.30"/><circle cx="193.8" cy="427.4" r="1.30"/><circle cx="190.1" cy="430.8" r="1.30"/><circle cx="197.6" cy="430.5" r="1.30"/><circle cx="193.8" cy="432.7" r="1.30"/><circle cx="195.5" cy="435.7" r="1.30"/><circle cx="191.9" cy="437.4" r="1.30"/><circle cx="188.1" cy="440.3" r="1.30"/><circle cx="197.6" cy="440.3" r="1.30"/><circle cx="193.8" cy="441.7" r="1.30"/><circle cx="190.1" cy="443.4" r="1.30"/><circle cx="193.8" cy="445.5" r="1.30"/><circle cx="197.6" cy="445.2" r="1.30"/><circle cx="184.3" cy="446.9" r="1.30"/><circle cx="188.1" cy="449.2" r="1.30"/><circle cx="191.9" cy="450.0" r="1.30"/><circle cx="197.6" cy="450.4" r="1.30"/><circle cx="201.6" cy="449.5" r="1.30"/><circle cx="205.4" cy="448.3" r="1.30"/><circle cx="191.9" cy="454.7" r="1.30"/><circle cx="195.5" cy="453.8" r="1.30"/><circle cx="182.4" cy="455.9" r="1.30"/><circle cx="186.0" cy="456.0" r="1.30"/><circle cx="189.8" cy="457.3" r="1.30"/><circle cx="193.8" cy="458.1" r="1.30"/><circle cx="197.6" cy="457.3" r="1.30"/><circle cx="201.6" cy="456.0" r="1.30"/><circle cx="205.4" cy="455.9" r="1.30"/><circle cx="176.7" cy="460.4" r="1.30"/><circle cx="180.5" cy="460.8" r="1.30"/><circle cx="184.3" cy="461.4" r="1.30"/><circle cx="188.1" cy="461.8" r="1.30"/><circle cx="191.9" cy="462.2" r="1.30"/><circle cx="195.7" cy="462.8" r="1.30"/><circle cx="199.5" cy="461.9" r="1.30"/><circle cx="203.3" cy="461.7" r="1.30"/><circle cx="207.1" cy="460.7" r="1.30"/><circle cx="210.9" cy="460.4" r="1.30"/><circle cx="172.9" cy="464.1" r="1.30"/><circle cx="176.7" cy="464.7" r="1.30"/><circle cx="180.5" cy="465.0" r="1.30"/><circle cx="184.3" cy="465.8" r="1.30"/><circle cx="188.1" cy="465.9" r="1.30"/><circle cx="191.9" cy="466.7" r="1.30"/><circle cx="195.7" cy="466.6" r="1.30"/><circle cx="199.5" cy="465.9" r="1.30"/><circle cx="203.3" cy="465.6" r="1.30"/><circle cx="207.1" cy="465.2" r="1.30"/><circle cx="210.9" cy="465.0" r="1.30"/><circle cx="214.7" cy="464.2" r="1.30"/><circle cx="165.3" cy="467.5" r="1.30"/><circle cx="169.1" cy="468.2" r="1.30"/><circle cx="172.9" cy="468.3" r="1.30"/><circle cx="176.7" cy="468.4" r="1.30"/><circle cx="180.5" cy="468.3" r="1.30"/><circle cx="184.3" cy="468.4" r="1.30"/><circle cx="188.1" cy="468.6" r="1.30"/><circle cx="191.9" cy="468.7" r="1.30"/><circle cx="195.7" cy="468.6" r="1.30"/><circle cx="199.5" cy="468.7" r="1.30"/><circle cx="203.3" cy="468.5" r="1.30"/><circle cx="207.1" cy="468.4" r="1.30"/><circle cx="210.9" cy="468.1" r="1.30"/><circle cx="214.7" cy="467.8" r="1.30"/><circle cx="218.5" cy="468.0" r="1.30"/><circle cx="222.3" cy="467.8" r="1.30"/><circle cx="163.4" cy="473.2" r="1.30"/><circle cx="167.2" cy="473.3" r="1.30"/><circle cx="171.0" cy="473.5" r="1.30"/><circle cx="174.8" cy="473.7" r="1.30"/><circle cx="178.6" cy="473.7" r="1.30"/><circle cx="182.4" cy="473.7" r="1.30"/><circle cx="186.2" cy="473.6" r="1.30"/><circle cx="190.0" cy="473.6" r="1.30"/><circle cx="193.8" cy="473.8" r="1.30"/><circle cx="197.6" cy="474.0" r="1.30"/><circle cx="201.4" cy="473.6" r="1.30"/><circle cx="205.2" cy="473.5" r="1.30"/><circle cx="209.0" cy="473.4" r="1.30"/><circle cx="212.8" cy="473.2" r="1.30"/><circle cx="216.6" cy="473.6" r="1.30"/><circle cx="220.4" cy="473.0" r="1.30"/><circle cx="224.2" cy="473.3" r="1.30"/><circle cx="158.6" cy="476.0" r="1.30"/><circle cx="162.1" cy="475.6" r="1.30"/><circle cx="165.6" cy="475.9" r="1.30"/><circle cx="169.2" cy="475.8" r="1.30"/><circle cx="172.7" cy="475.8" r="1.30"/><circle cx="176.2" cy="475.9" r="1.30"/><circle cx="179.7" cy="475.9" r="1.30"/><circle cx="183.2" cy="476.4" r="1.30"/><circle cx="186.8" cy="476.4" r="1.30"/><circle cx="190.3" cy="476.6" r="1.30"/><circle cx="193.8" cy="476.1" r="1.30"/><circle cx="197.3" cy="476.4" r="1.30"/><circle cx="200.8" cy="476.2" r="1.30"/><circle cx="204.4" cy="476.3" r="1.30"/><circle cx="207.9" cy="476.1" r="1.30"/><circle cx="211.4" cy="475.9" r="1.30"/><circle cx="214.9" cy="476.3" r="1.30"/><circle cx="218.4" cy="475.6" r="1.30"/><circle cx="222.0" cy="476.0" r="1.30"/><circle cx="225.5" cy="476.0" r="1.30"/><circle cx="229.0" cy="475.7" r="1.30"/><circle cx="158.0" cy="478.3" r="1.30"/><circle cx="161.1" cy="478.6" r="1.30"/><circle cx="164.2" cy="478.2" r="1.30"/><circle cx="167.3" cy="478.5" r="1.30"/><circle cx="170.5" cy="478.7" r="1.30"/><circle cx="173.6" cy="478.5" r="1.30"/><circle cx="176.7" cy="478.8" r="1.30"/><circle cx="179.8" cy="478.7" r="1.30"/><circle cx="182.9" cy="478.8" r="1.30"/><circle cx="186.0" cy="478.9" r="1.30"/><circle cx="189.1" cy="479.0" r="1.30"/><circle cx="192.2" cy="478.9" r="1.30"/><circle cx="195.4" cy="479.0" r="1.30"/><circle cx="198.5" cy="478.9" r="1.30"/><circle cx="201.6" cy="478.7" r="1.30"/><circle cx="204.7" cy="478.8" r="1.30"/><circle cx="207.8" cy="478.6" r="1.30"/><circle cx="210.9" cy="478.9" r="1.30"/><circle cx="214.0" cy="478.6" r="1.30"/><circle cx="217.1" cy="478.7" r="1.30"/><circle cx="220.3" cy="478.5" r="1.30"/><circle cx="223.4" cy="478.4" r="1.30"/><circle cx="226.5" cy="478.2" r="1.30"/><circle cx="229.6" cy="478.1" r="1.30"/><circle cx="157.5" cy="481.1" r="1.30"/><circle cx="159.7" cy="480.9" r="1.30"/><circle cx="161.9" cy="481.0" r="1.30"/><circle cx="164.1" cy="481.0" r="1.30"/><circle cx="166.3" cy="481.2" r="1.30"/><circle cx="168.5" cy="480.9" r="1.30"/><circle cx="170.7" cy="480.9" r="1.30"/><circle cx="172.9" cy="481.4" r="1.30"/><circle cx="175.1" cy="481.2" r="1.30"/><circle cx="177.3" cy="481.4" r="1.30"/><circle cx="179.5" cy="481.5" r="1.30"/><circle cx="181.7" cy="481.6" r="1.30"/><circle cx="183.9" cy="481.6" r="1.30"/><circle cx="186.1" cy="481.2" r="1.30"/><circle cx="188.3" cy="481.4" r="1.30"/><circle cx="190.5" cy="481.7" r="1.30"/><circle cx="192.7" cy="481.8" r="1.30"/><circle cx="194.9" cy="481.4" r="1.30"/><circle cx="197.1" cy="481.3" r="1.30"/><circle cx="199.3" cy="481.3" r="1.30"/><circle cx="201.5" cy="481.2" r="1.30"/><circle cx="203.7" cy="481.3" r="1.30"/><circle cx="205.9" cy="481.5" r="1.30"/><circle cx="208.1" cy="481.3" r="1.30"/><circle cx="210.3" cy="481.2" r="1.30"/><circle cx="212.5" cy="481.0" r="1.30"/><circle cx="214.7" cy="481.1" r="1.30"/><circle cx="216.9" cy="481.4" r="1.30"/><circle cx="219.1" cy="481.2" r="1.30"/><circle cx="221.3" cy="481.0" r="1.30"/><circle cx="223.5" cy="481.0" r="1.30"/><circle cx="225.7" cy="481.1" r="1.30"/><circle cx="227.9" cy="481.1" r="1.30"/><circle cx="230.1" cy="480.7" r="1.30"/><circle cx="157.5" cy="483.6" r="1.30"/><circle cx="159.7" cy="483.4" r="1.30"/><circle cx="161.9" cy="483.6" r="1.30"/><circle cx="164.1" cy="483.4" r="1.30"/><circle cx="166.3" cy="483.6" r="1.30"/><circle cx="168.5" cy="483.6" r="1.30"/><circle cx="170.7" cy="483.7" r="1.30"/><circle cx="172.9" cy="483.5" r="1.30"/><circle cx="175.1" cy="483.6" r="1.30"/><circle cx="177.3" cy="483.9" r="1.30"/><circle cx="179.5" cy="483.6" r="1.30"/><circle cx="181.7" cy="483.8" r="1.30"/><circle cx="183.9" cy="484.1" r="1.30"/><circle cx="186.1" cy="483.9" r="1.30"/><circle cx="188.3" cy="484.0" r="1.30"/><circle cx="190.5" cy="484.0" r="1.30"/><circle cx="192.7" cy="484.4" r="1.30"/><circle cx="194.9" cy="483.9" r="1.30"/><circle cx="197.1" cy="484.2" r="1.30"/><circle cx="199.3" cy="484.3" r="1.30"/><circle cx="201.5" cy="483.9" r="1.30"/><circle cx="203.7" cy="484.0" r="1.30"/><circle cx="205.9" cy="484.1" r="1.30"/><circle cx="208.1" cy="484.0" r="1.30"/><circle cx="210.3" cy="483.8" r="1.30"/><circle cx="212.5" cy="483.6" r="1.30"/><circle cx="214.7" cy="483.7" r="1.30"/><circle cx="216.9" cy="483.7" r="1.30"/><circle cx="219.1" cy="483.8" r="1.30"/><circle cx="221.3" cy="483.5" r="1.30"/><circle cx="223.5" cy="483.6" r="1.30"/><circle cx="225.7" cy="483.7" r="1.30"/><circle cx="227.9" cy="483.7" r="1.30"/><circle cx="230.1" cy="483.4" r="1.30"/><circle cx="157.5" cy="486.0" r="1.30"/><circle cx="159.8" cy="486.2" r="1.30"/><circle cx="162.1" cy="486.4" r="1.30"/><circle cx="164.3" cy="486.0" r="1.30"/><circle cx="166.6" cy="486.5" r="1.30"/><circle cx="168.9" cy="486.4" r="1.30"/><circle cx="171.1" cy="486.3" r="1.30"/><circle cx="173.4" cy="486.5" r="1.30"/><circle cx="175.7" cy="486.3" r="1.30"/><circle cx="177.9" cy="486.2" r="1.30"/><circle cx="180.2" cy="486.7" r="1.30"/><circle cx="182.5" cy="486.5" r="1.30"/><circle cx="184.7" cy="486.6" r="1.30"/><circle cx="187.0" cy="486.7" r="1.30"/><circle cx="189.3" cy="487.0" r="1.30"/><circle cx="191.5" cy="486.9" r="1.30"/><circle cx="193.8" cy="486.5" r="1.30"/><circle cx="196.1" cy="486.8" r="1.30"/><circle cx="198.3" cy="486.7" r="1.30"/><circle cx="200.6" cy="486.6" r="1.30"/><circle cx="202.9" cy="486.8" r="1.30"/><circle cx="205.1" cy="486.5" r="1.30"/><circle cx="207.4" cy="486.5" r="1.30"/><circle cx="209.7" cy="486.7" r="1.30"/><circle cx="211.9" cy="486.4" r="1.30"/><circle cx="214.2" cy="486.4" r="1.30"/><circle cx="216.5" cy="486.4" r="1.30"/><circle cx="218.7" cy="486.5" r="1.30"/><circle cx="221.0" cy="486.4" r="1.30"/><circle cx="223.3" cy="486.4" r="1.30"/><circle cx="225.5" cy="486.1" r="1.30"/><circle cx="227.8" cy="485.8" r="1.30"/><circle cx="230.1" cy="486.2" r="1.30"/><circle cx="157.5" cy="488.7" r="1.30"/><circle cx="160.3" cy="488.9" r="1.30"/><circle cx="163.1" cy="488.9" r="1.30"/><circle cx="165.9" cy="488.6" r="1.30"/><circle cx="168.7" cy="488.7" r="1.30"/><circle cx="171.5" cy="488.7" r="1.30"/><circle cx="174.3" cy="489.2" r="1.30"/><circle cx="177.0" cy="488.8" r="1.30"/><circle cx="179.8" cy="488.9" r="1.30"/><circle cx="182.6" cy="489.3" r="1.30"/><circle cx="185.4" cy="489.3" r="1.30"/><circle cx="188.2" cy="489.0" r="1.30"/><circle cx="191.0" cy="489.5" r="1.30"/><circle cx="193.8" cy="489.5" r="1.30"/><circle cx="196.6" cy="489.3" r="1.30"/><circle cx="199.4" cy="489.0" r="1.30"/><circle cx="202.2" cy="489.3" r="1.30"/><circle cx="205.0" cy="489.1" r="1.30"/><circle cx="207.8" cy="489.2" r="1.30"/><circle cx="210.6" cy="489.4" r="1.30"/><circle cx="213.3" cy="489.2" r="1.30"/><circle cx="216.1" cy="489.2" r="1.30"/><circle cx="218.9" cy="488.7" r="1.30"/><circle cx="221.7" cy="488.7" r="1.30"/><circle cx="224.5" cy="488.8" r="1.30"/><circle cx="227.3" cy="488.4" r="1.30"/><circle cx="230.1" cy="489.0" r="1.30"/><circle cx="157.7" cy="491.1" r="1.30"/><circle cx="161.0" cy="491.2" r="1.30"/><circle cx="164.3" cy="491.3" r="1.30"/><circle cx="167.6" cy="491.3" r="1.30"/><circle cx="170.8" cy="491.8" r="1.30"/><circle cx="174.1" cy="491.6" r="1.30"/><circle cx="177.4" cy="491.7" r="1.30"/><circle cx="180.7" cy="491.7" r="1.30"/><circle cx="184.0" cy="491.5" r="1.30"/><circle cx="187.2" cy="491.8" r="1.30"/><circle cx="190.5" cy="492.2" r="1.30"/><circle cx="193.8" cy="492.2" r="1.30"/><circle cx="197.1" cy="492.1" r="1.30"/><circle cx="200.4" cy="491.7" r="1.30"/><circle cx="203.6" cy="491.6" r="1.30"/><circle cx="206.9" cy="491.5" r="1.30"/><circle cx="210.2" cy="491.7" r="1.30"/><circle cx="213.5" cy="491.5" r="1.30"/><circle cx="216.8" cy="491.5" r="1.30"/><circle cx="220.0" cy="491.5" r="1.30"/><circle cx="223.3" cy="491.5" r="1.30"/><circle cx="226.6" cy="491.3" r="1.30"/><circle cx="229.9" cy="491.5" r="1.30"/><circle cx="167.8" cy="494.2" r="1.30"/><circle cx="171.8" cy="495.2" r="1.30"/><circle cx="175.8" cy="495.1" r="1.30"/><circle cx="179.8" cy="494.8" r="1.30"/><circle cx="183.8" cy="495.3" r="1.30"/><circle cx="187.8" cy="495.8" r="1.30"/><circle cx="191.8" cy="495.9" r="1.30"/><circle cx="195.8" cy="496.0" r="1.30"/><circle cx="199.8" cy="495.6" r="1.30"/><circle cx="203.8" cy="495.3" r="1.30"/><circle cx="207.8" cy="495.6" r="1.30"/><circle cx="211.8" cy="494.8" r="1.30"/><circle cx="215.8" cy="495.0" r="1.30"/><circle cx="219.8" cy="494.8" r="1.30"/><circle cx="173.3" cy="497.9" r="1.30"/><circle cx="177.4" cy="498.0" r="1.30"/><circle cx="181.5" cy="498.7" r="1.30"/><circle cx="185.6" cy="498.5" r="1.30"/><circle cx="189.7" cy="499.1" r="1.30"/><circle cx="193.8" cy="498.6" r="1.30"/><circle cx="197.9" cy="498.7" r="1.30"/><circle cx="202.0" cy="498.6" r="1.30"/><circle cx="206.1" cy="497.8" r="1.30"/><circle cx="210.2" cy="498.4" r="1.30"/><circle cx="214.3" cy="497.3" r="1.30"/><circle cx="175.7" cy="500.9" r="1.30"/><circle cx="179.7" cy="500.7" r="1.30"/><circle cx="183.7" cy="501.7" r="1.30"/><circle cx="187.8" cy="501.6" r="1.30"/><circle cx="191.8" cy="502.1" r="1.30"/><circle cx="195.8" cy="501.8" r="1.30"/><circle cx="199.8" cy="501.7" r="1.30"/><circle cx="203.9" cy="501.5" r="1.30"/><circle cx="207.9" cy="500.8" r="1.30"/><circle cx="211.9" cy="500.5" r="1.30"/><circle cx="181.3" cy="504.4" r="1.30"/><circle cx="185.5" cy="504.7" r="1.30"/><circle cx="189.4" cy="504.2" r="1.30"/><circle cx="194.2" cy="505.1" r="1.30"/><circle cx="198.0" cy="504.5" r="1.30"/><circle cx="202.2" cy="504.1" r="1.30"/><circle cx="205.7" cy="504.3" r="1.30"/><circle cx="184.3" cy="506.7" r="1.30"/><circle cx="188.3" cy="506.9" r="1.30"/><circle cx="191.6" cy="507.4" r="1.30"/><circle cx="195.6" cy="507.7" r="1.30"/><circle cx="199.3" cy="507.4" r="1.30"/><circle cx="203.3" cy="507.5" r="1.30"/><circle cx="186.3" cy="510.5" r="1.30"/><circle cx="190.6" cy="510.7" r="1.30"/><circle cx="193.4" cy="510.5" r="1.30"/><circle cx="197.5" cy="510.3" r="1.30"/><circle cx="201.0" cy="509.9" r="1.30"/><circle cx="182.4" cy="510.3" r="1.30"/><circle cx="205.4" cy="510.3" r="1.30"/><circle cx="188.1" cy="514.3" r="1.30"/><circle cx="199.7" cy="515.7" r="1.30"/><circle cx="193.5" cy="515.2" r="1.30"/><circle cx="195.3" cy="518.3" r="1.30"/><circle cx="191.9" cy="519.0" r="1.30"/><circle cx="195.3" cy="521.7" r="1.30"/><circle cx="191.9" cy="525.0" r="1.30"/></g>
<g stroke="#000" stroke-width="1.40" fill="none">
<line x1="156.6" y1="483.7" x2="231.0" y2="483.7" stroke-width="1.6"/>
<line x1="176.1" y1="469.9" x2="211.5" y2="469.9"/>
<line x1="176.1" y1="493.5" x2="211.5" y2="493.5"/>
<line x1="193.8" y1="469.9" x2="193.8" y2="493.5"/>
</g>
<g stroke="#484848" stroke-width="0.95" fill="none">
<line x1="87.5" y1="383.9" x2="194.0" y2="383.9"/>
<line x1="87.5" y1="381.7" x2="87.5" y2="386.1"/>
<line x1="194.0" y1="381.7" x2="194.0" y2="386.1"/>
</g>
<text x="142.2" y="381.3" font-size="6.9" text-anchor="middle" font-weight="bold" style="stroke-width:0.05px">p&lt;0.001</text>
<line x1="25.2" y1="380.6" x2="25.2" y2="398.1" stroke="#000" stroke-width="1.4"/>
<line x1="25.2" y1="400.8" x2="25.2" y2="530.5" stroke="#000" stroke-width="1.4"/>
<line x1="23.7" y1="397.7" x2="26.7" y2="397.7" stroke="#000" stroke-width="1"/>
<line x1="23.7" y1="401.2" x2="26.7" y2="401.2" stroke="#000" stroke-width="1"/>
<line x1="24.5" y1="530.5" x2="250.5" y2="530.5" stroke="#000" stroke-width="1.4"/>
<line x1="23.4" y1="381.0" x2="25.2" y2="381.0" stroke="#000" stroke-width="1"/>
<text x="22.9" y="383.0" font-size="5.60" text-anchor="end" font-weight="bold" style="stroke-width:0.25px">10</text>
<line x1="23.4" y1="386.8" x2="25.2" y2="386.8" stroke="#000" stroke-width="1"/>
<text x="22.9" y="388.8" font-size="5.60" text-anchor="end" font-weight="bold" style="stroke-width:0.25px">8</text>
<line x1="23.4" y1="392.7" x2="25.2" y2="392.7" stroke="#000" stroke-width="1"/>
<text x="22.9" y="394.7" font-size="5.60" text-anchor="end" font-weight="bold" style="stroke-width:0.25px">6</text>
<line x1="23.4" y1="410.5" x2="25.2" y2="410.5" stroke="#000" stroke-width="1"/>
<text x="22.9" y="412.5" font-size="5.60" text-anchor="end" font-weight="bold" style="stroke-width:0.25px">4.0</text>
<line x1="23.4" y1="425.5" x2="25.2" y2="425.5" stroke="#000" stroke-width="1"/>
<text x="22.9" y="427.5" font-size="5.60" text-anchor="end" font-weight="bold" style="stroke-width:0.25px">3.5</text>
<line x1="23.4" y1="440.5" x2="25.2" y2="440.5" stroke="#000" stroke-width="1"/>
<text x="22.9" y="442.5" font-size="5.60" text-anchor="end" font-weight="bold" style="stroke-width:0.25px">3.0</text>
<line x1="23.4" y1="455.5" x2="25.2" y2="455.5" stroke="#000" stroke-width="1"/>
<text x="22.9" y="457.5" font-size="5.60" text-anchor="end" font-weight="bold" style="stroke-width:0.25px">2.5</text>
<line x1="23.4" y1="470.5" x2="25.2" y2="470.5" stroke="#000" stroke-width="1"/>
<text x="22.9" y="472.5" font-size="5.60" text-anchor="end" font-weight="bold" style="stroke-width:0.25px">2.0</text>
<line x1="23.4" y1="485.5" x2="25.2" y2="485.5" stroke="#000" stroke-width="1"/>
<text x="22.9" y="487.5" font-size="5.60" text-anchor="end" font-weight="bold" style="stroke-width:0.25px">1.5</text>
<line x1="23.4" y1="500.5" x2="25.2" y2="500.5" stroke="#000" stroke-width="1"/>
<text x="22.9" y="502.5" font-size="5.60" text-anchor="end" font-weight="bold" style="stroke-width:0.25px">1.0</text>
<line x1="23.4" y1="515.5" x2="25.2" y2="515.5" stroke="#000" stroke-width="1"/>
<text x="22.9" y="517.5" font-size="5.60" text-anchor="end" font-weight="bold" style="stroke-width:0.25px">0.5</text>
<line x1="23.4" y1="530.5" x2="25.2" y2="530.5" stroke="#000" stroke-width="1"/>
<text x="22.9" y="532.5" font-size="5.60" text-anchor="end" font-weight="bold" style="stroke-width:0.25px">0.0</text>
<text transform="translate(9.7,450.8) rotate(-90)" font-size="8.95" text-anchor="middle" font-weight="bold">FVIII:C/VWF:Ag ratio</text>
<text x="81.0" y="540.7" font-size="8.8" text-anchor="middle" font-weight="bold">type 1</text>
<text x="193.4" y="540.7" font-size="8.8" text-anchor="middle" font-weight="bold">type 2</text>
<line x1="296.0" y1="475.7" x2="514.0" y2="475.7" stroke="#555" stroke-width="1.0" stroke-dasharray="1 1"/>
<line x1="296.0" y1="513.4" x2="515.0" y2="513.4" stroke="#555" stroke-width="1.0" stroke-dasharray="1 1"/>
<g fill="#f4f4f4" stroke="#383838" stroke-width="0.95"><circle cx="322.2" cy="406.3" r="1.30"/><circle cx="322.2" cy="413.7" r="1.30"/><circle cx="324.1" cy="426.3" r="1.30"/><circle cx="320.2" cy="429.1" r="1.30"/><circle cx="318.3" cy="432.6" r="1.30"/><circle cx="326.0" cy="432.3" r="1.30"/><circle cx="322.2" cy="434.6" r="1.30"/><circle cx="322.2" cy="439.4" r="1.30"/><circle cx="316.4" cy="442.6" r="1.30"/><circle cx="326.0" cy="442.4" r="1.30"/><circle cx="322.2" cy="443.6" r="1.30"/><circle cx="319.0" cy="444.5" r="1.30"/><circle cx="322.2" cy="447.1" r="1.30"/><circle cx="326.0" cy="447.1" r="1.30"/><circle cx="316.4" cy="448.8" r="1.30"/><circle cx="320.2" cy="450.6" r="1.30"/><circle cx="324.1" cy="451.2" r="1.30"/><circle cx="326.5" cy="450.4" r="1.30"/><circle cx="329.9" cy="450.3" r="1.30"/><circle cx="320.2" cy="454.8" r="1.30"/><circle cx="313.2" cy="456.5" r="1.30"/><circle cx="316.4" cy="457.8" r="1.30"/><circle cx="320.2" cy="458.7" r="1.30"/><circle cx="324.1" cy="458.7" r="1.30"/><circle cx="328.0" cy="457.8" r="1.30"/><circle cx="331.4" cy="456.8" r="1.30"/><circle cx="338.6" cy="460.4" r="1.30"/><circle cx="307.7" cy="461.7" r="1.30"/><circle cx="311.3" cy="462.0" r="1.30"/><circle cx="314.7" cy="462.0" r="1.30"/><circle cx="318.4" cy="462.1" r="1.30"/><circle cx="322.8" cy="462.2" r="1.30"/><circle cx="326.1" cy="462.2" r="1.30"/><circle cx="329.6" cy="461.8" r="1.30"/><circle cx="333.4" cy="462.1" r="1.30"/><circle cx="336.8" cy="462.2" r="1.30"/><circle cx="306.2" cy="461.1" r="1.30"/><circle cx="309.8" cy="462.0" r="1.30"/><circle cx="313.4" cy="462.5" r="1.30"/><circle cx="317.0" cy="463.2" r="1.30"/><circle cx="320.6" cy="463.6" r="1.30"/><circle cx="324.2" cy="463.6" r="1.30"/><circle cx="327.8" cy="463.0" r="1.30"/><circle cx="331.4" cy="462.7" r="1.30"/><circle cx="335.0" cy="462.0" r="1.30"/><circle cx="338.6" cy="461.0" r="1.30"/><circle cx="313.0" cy="467.8" r="1.30"/><circle cx="317.4" cy="467.6" r="1.30"/><circle cx="321.0" cy="467.4" r="1.30"/><circle cx="323.8" cy="467.6" r="1.30"/><circle cx="327.8" cy="467.4" r="1.30"/><circle cx="331.6" cy="467.3" r="1.30"/><circle cx="305.4" cy="468.8" r="1.30"/><circle cx="308.8" cy="469.6" r="1.30"/><circle cx="312.2" cy="469.8" r="1.30"/><circle cx="315.6" cy="470.2" r="1.30"/><circle cx="319.0" cy="471.0" r="1.30"/><circle cx="322.4" cy="471.3" r="1.30"/><circle cx="325.8" cy="471.0" r="1.30"/><circle cx="329.2" cy="470.7" r="1.30"/><circle cx="332.6" cy="470.0" r="1.30"/><circle cx="336.0" cy="469.4" r="1.30"/><circle cx="339.4" cy="468.7" r="1.30"/><circle cx="305.4" cy="472.0" r="1.30"/><circle cx="308.8" cy="471.9" r="1.30"/><circle cx="312.2" cy="472.5" r="1.30"/><circle cx="315.6" cy="472.4" r="1.30"/><circle cx="319.0" cy="472.8" r="1.30"/><circle cx="322.4" cy="472.9" r="1.30"/><circle cx="325.8" cy="472.7" r="1.30"/><circle cx="329.2" cy="472.7" r="1.30"/><circle cx="332.6" cy="472.2" r="1.30"/><circle cx="336.0" cy="472.0" r="1.30"/><circle cx="339.4" cy="472.2" r="1.30"/><circle cx="305.4" cy="474.3" r="1.30"/><circle cx="308.5" cy="474.8" r="1.30"/><circle cx="311.6" cy="475.0" r="1.30"/><circle cx="314.7" cy="475.0" r="1.30"/><circle cx="317.8" cy="475.0" r="1.30"/><circle cx="320.9" cy="475.1" r="1.30"/><circle cx="323.9" cy="475.6" r="1.30"/><circle cx="327.0" cy="474.9" r="1.30"/><circle cx="330.1" cy="475.0" r="1.30"/><circle cx="333.2" cy="474.8" r="1.30"/><circle cx="336.3" cy="474.4" r="1.30"/><circle cx="339.4" cy="474.4" r="1.30"/><circle cx="305.9" cy="476.7" r="1.30"/><circle cx="308.9" cy="477.1" r="1.30"/><circle cx="311.9" cy="477.3" r="1.30"/><circle cx="314.9" cy="477.4" r="1.30"/><circle cx="317.9" cy="477.4" r="1.30"/><circle cx="320.9" cy="477.8" r="1.30"/><circle cx="323.9" cy="477.6" r="1.30"/><circle cx="326.9" cy="477.4" r="1.30"/><circle cx="329.9" cy="477.3" r="1.30"/><circle cx="332.9" cy="477.5" r="1.30"/><circle cx="335.9" cy="477.1" r="1.30"/><circle cx="338.9" cy="477.1" r="1.30"/><circle cx="306.1" cy="479.1" r="1.30"/><circle cx="309.1" cy="479.8" r="1.30"/><circle cx="312.0" cy="479.7" r="1.30"/><circle cx="315.0" cy="480.1" r="1.30"/><circle cx="318.0" cy="480.1" r="1.30"/><circle cx="320.9" cy="480.4" r="1.30"/><circle cx="323.9" cy="480.1" r="1.30"/><circle cx="326.8" cy="480.2" r="1.30"/><circle cx="329.8" cy="479.7" r="1.30"/><circle cx="332.8" cy="479.6" r="1.30"/><circle cx="335.7" cy="479.3" r="1.30"/><circle cx="338.7" cy="479.3" r="1.30"/><circle cx="305.4" cy="481.8" r="1.30"/><circle cx="308.2" cy="481.8" r="1.30"/><circle cx="311.1" cy="482.4" r="1.30"/><circle cx="313.9" cy="482.0" r="1.30"/><circle cx="316.7" cy="482.5" r="1.30"/><circle cx="319.6" cy="482.5" r="1.30"/><circle cx="322.4" cy="482.9" r="1.30"/><circle cx="325.2" cy="482.8" r="1.30"/><circle cx="328.1" cy="482.6" r="1.30"/><circle cx="330.9" cy="482.0" r="1.30"/><circle cx="333.7" cy="482.0" r="1.30"/><circle cx="336.6" cy="482.0" r="1.30"/><circle cx="339.4" cy="482.1" r="1.30"/><circle cx="305.4" cy="484.0" r="1.30"/><circle cx="308.2" cy="484.5" r="1.30"/><circle cx="311.1" cy="484.7" r="1.30"/><circle cx="313.9" cy="484.9" r="1.30"/><circle cx="316.7" cy="484.8" r="1.30"/><circle cx="319.6" cy="485.3" r="1.30"/><circle cx="322.4" cy="485.2" r="1.30"/><circle cx="325.2" cy="485.3" r="1.30"/><circle cx="328.1" cy="484.6" r="1.30"/><circle cx="330.9" cy="485.0" r="1.30"/><circle cx="333.7" cy="484.5" r="1.30"/><circle cx="336.6" cy="484.3" r="1.30"/><circle cx="339.4" cy="484.0" r="1.30"/><circle cx="305.9" cy="486.6" r="1.30"/><circle cx="308.9" cy="487.0" r="1.30"/><circle cx="311.9" cy="487.2" r="1.30"/><circle cx="314.9" cy="487.0" r="1.30"/><circle cx="317.9" cy="487.3" r="1.30"/><circle cx="320.9" cy="487.4" r="1.30"/><circle cx="323.9" cy="487.4" r="1.30"/><circle cx="326.9" cy="487.3" r="1.30"/><circle cx="329.9" cy="487.1" r="1.30"/><circle cx="332.9" cy="487.4" r="1.30"/><circle cx="335.9" cy="487.2" r="1.30"/><circle cx="338.9" cy="486.9" r="1.30"/><circle cx="306.2" cy="492.6" r="1.30"/><circle cx="309.8" cy="493.3" r="1.30"/><circle cx="313.4" cy="494.0" r="1.30"/><circle cx="317.0" cy="494.7" r="1.30"/><circle cx="320.6" cy="495.2" r="1.30"/><circle cx="324.2" cy="495.2" r="1.30"/><circle cx="327.8" cy="494.3" r="1.30"/><circle cx="331.4" cy="493.9" r="1.30"/><circle cx="335.0" cy="493.5" r="1.30"/><circle cx="338.6" cy="492.8" r="1.30"/><circle cx="312.6" cy="492.1" r="1.30"/><circle cx="315.5" cy="492.2" r="1.30"/><circle cx="319.2" cy="492.6" r="1.30"/><circle cx="322.1" cy="492.4" r="1.30"/><circle cx="326.1" cy="492.5" r="1.30"/><circle cx="329.3" cy="492.5" r="1.30"/><circle cx="332.6" cy="492.5" r="1.30"/><circle cx="312.8" cy="497.6" r="1.30"/><circle cx="316.9" cy="497.9" r="1.30"/><circle cx="320.3" cy="498.0" r="1.30"/><circle cx="324.3" cy="498.1" r="1.30"/><circle cx="327.8" cy="497.9" r="1.30"/><circle cx="332.1" cy="497.8" r="1.30"/><circle cx="315.3" cy="501.7" r="1.30"/><circle cx="318.5" cy="501.6" r="1.30"/><circle cx="322.2" cy="501.8" r="1.30"/><circle cx="326.4" cy="501.8" r="1.30"/><circle cx="330.0" cy="501.9" r="1.30"/><circle cx="322.4" cy="505.0" r="1.30"/><circle cx="318.7" cy="507.2" r="1.30"/><circle cx="326.0" cy="507.2" r="1.30"/><circle cx="322.4" cy="509.4" r="1.30"/><circle cx="320.9" cy="514.1" r="1.30"/><circle cx="324.1" cy="513.8" r="1.30"/></g>
<g stroke="#000" stroke-width="1.40" fill="none">
<line x1="304.6" y1="481.2" x2="340.2" y2="481.2" stroke-width="1.6"/>
<line x1="314.2" y1="465.7" x2="330.6" y2="465.7"/>
<line x1="314.2" y1="490.7" x2="330.6" y2="490.7"/>
<line x1="322.4" y1="465.7" x2="322.4" y2="490.7"/>
</g>
<g fill="#f4f4f4" stroke="#383838" stroke-width="0.95"><circle cx="377.3" cy="437.5" r="1.30"/><circle cx="377.3" cy="471.7" r="1.30"/><circle cx="377.3" cy="479.7" r="1.30"/><circle cx="371.5" cy="483.8" r="1.30"/><circle cx="375.3" cy="484.6" r="1.30"/><circle cx="379.5" cy="485.0" r="1.30"/><circle cx="383.1" cy="484.1" r="1.30"/><circle cx="366.1" cy="485.8" r="1.30"/><circle cx="388.4" cy="486.3" r="1.30"/><circle cx="360.8" cy="488.8" r="1.30"/><circle cx="364.1" cy="489.6" r="1.30"/><circle cx="368.2" cy="489.9" r="1.30"/><circle cx="372.4" cy="490.4" r="1.30"/><circle cx="381.5" cy="489.9" r="1.30"/><circle cx="385.6" cy="489.3" r="1.30"/><circle cx="390.6" cy="488.8" r="1.30"/><circle cx="394.4" cy="488.8" r="1.30"/><circle cx="362.4" cy="491.6" r="1.30"/><circle cx="366.6" cy="492.1" r="1.30"/><circle cx="370.7" cy="492.6" r="1.30"/><circle cx="374.8" cy="492.9" r="1.30"/><circle cx="380.6" cy="492.6" r="1.30"/><circle cx="384.8" cy="492.1" r="1.30"/><circle cx="388.9" cy="491.6" r="1.30"/><circle cx="392.2" cy="491.3" r="1.30"/><circle cx="364.1" cy="495.9" r="1.30"/><circle cx="390.6" cy="494.9" r="1.30"/><circle cx="387.3" cy="496.2" r="1.30"/><circle cx="367.4" cy="497.1" r="1.30"/><circle cx="370.7" cy="497.9" r="1.30"/><circle cx="374.8" cy="497.5" r="1.30"/><circle cx="381.5" cy="497.9" r="1.30"/><circle cx="385.6" cy="497.1" r="1.30"/><circle cx="369.5" cy="499.2" r="1.30"/><circle cx="373.2" cy="500.4" r="1.30"/><circle cx="377.3" cy="502.0" r="1.30"/><circle cx="381.5" cy="499.5" r="1.30"/><circle cx="371.5" cy="504.2" r="1.30"/><circle cx="383.1" cy="503.7" r="1.30"/><circle cx="379.0" cy="505.7" r="1.30"/><circle cx="375.3" cy="506.5" r="1.30"/></g>
<g stroke="#000" stroke-width="1.40" fill="none">
<line x1="359.3" y1="490.9" x2="395.3" y2="490.9" stroke-width="1.6"/>
<line x1="368.3" y1="487.1" x2="386.3" y2="487.1"/>
<line x1="368.3" y1="496.7" x2="386.3" y2="496.7"/>
<line x1="377.3" y1="487.1" x2="377.3" y2="496.7"/>
</g>
<g fill="#f4f4f4" stroke="#383838" stroke-width="0.95"><circle cx="432.3" cy="427.5" r="1.30"/><circle cx="432.3" cy="452.0" r="1.30"/><circle cx="432.3" cy="458.4" r="1.30"/><circle cx="426.5" cy="466.9" r="1.30"/><circle cx="432.3" cy="466.4" r="1.30"/><circle cx="438.1" cy="466.4" r="1.30"/><circle cx="424.9" cy="468.0" r="1.30"/><circle cx="439.8" cy="468.3" r="1.30"/><circle cx="429.0" cy="468.3" r="1.30"/><circle cx="435.6" cy="468.3" r="1.30"/><circle cx="422.9" cy="472.6" r="1.30"/><circle cx="427.0" cy="474.6" r="1.30"/><circle cx="429.8" cy="475.5" r="1.30"/><circle cx="434.8" cy="475.8" r="1.30"/><circle cx="439.8" cy="474.6" r="1.30"/><circle cx="443.4" cy="474.1" r="1.30"/><circle cx="430.7" cy="479.3" r="1.30"/><circle cx="435.6" cy="480.4" r="1.30"/><circle cx="432.3" cy="477.6" r="1.30"/><circle cx="429.0" cy="483.7" r="1.30"/><circle cx="432.3" cy="484.2" r="1.30"/><circle cx="436.5" cy="482.9" r="1.30"/><circle cx="434.5" cy="487.4" r="1.30"/><circle cx="430.7" cy="489.9" r="1.30"/><circle cx="432.3" cy="497.0" r="1.30"/><circle cx="434.5" cy="500.8" r="1.30"/><circle cx="430.3" cy="503.6" r="1.30"/></g>
<g stroke="#000" stroke-width="1.40" fill="none">
<line x1="414.2" y1="475.0" x2="450.6" y2="475.0" stroke-width="1.6"/>
<line x1="423.2" y1="468.3" x2="441.6" y2="468.3"/>
<line x1="423.2" y1="483.4" x2="441.6" y2="483.4"/>
<line x1="432.4" y1="468.3" x2="432.4" y2="483.4"/>
</g>
<g fill="#f4f4f4" stroke="#383838" stroke-width="0.95"><circle cx="485.4" cy="498.9" r="1.30"/><circle cx="489.5" cy="498.9" r="1.30"/><circle cx="487.5" cy="507.7" r="1.30"/><circle cx="480.5" cy="509.8" r="1.30"/><circle cx="494.4" cy="510.3" r="1.30"/><circle cx="483.7" cy="511.5" r="1.30"/><circle cx="491.1" cy="511.5" r="1.30"/><circle cx="482.1" cy="515.6" r="1.30"/><circle cx="492.7" cy="515.6" r="1.30"/><circle cx="487.5" cy="514.7" r="1.30"/><circle cx="489.5" cy="522.4" r="1.30"/><circle cx="485.4" cy="525.4" r="1.30"/><circle cx="489.1" cy="520.5" r="1.30"/></g>
<g stroke="#000" stroke-width="1.40" fill="none">
<line x1="469.5" y1="512.6" x2="505.5" y2="512.6" stroke-width="1.6"/>
<line x1="478.5" y1="509.3" x2="496.5" y2="509.3"/>
<line x1="478.5" y1="518.0" x2="496.5" y2="518.0"/>
<line x1="487.5" y1="509.3" x2="487.5" y2="518.0"/>
</g>
<g stroke="#484848" stroke-width="0.95" fill="none">
<line x1="324.8" y1="387.4" x2="489.6" y2="387.4"/>
<line x1="324.8" y1="385.2" x2="324.8" y2="389.6"/>
<line x1="489.6" y1="385.2" x2="489.6" y2="389.6"/>
</g>
<text x="406.2" y="386.0" font-size="6.9" text-anchor="middle" font-weight="bold" style="stroke-width:0.05px">p&lt;0.001</text>
<g stroke="#484848" stroke-width="0.95" fill="none">
<line x1="381.9" y1="397.0" x2="489.6" y2="397.0"/>
<line x1="381.9" y1="394.8" x2="381.9" y2="399.2"/>
<line x1="489.6" y1="394.8" x2="489.6" y2="399.2"/>
</g>
<text x="436.3" y="395.6" font-size="6.9" text-anchor="middle" font-weight="bold" style="stroke-width:0.05px">p&lt;0.001</text>
<g stroke="#484848" stroke-width="0.95" fill="none">
<line x1="324.8" y1="404.7" x2="381.2" y2="404.7"/>
<line x1="324.8" y1="402.5" x2="324.8" y2="406.9"/>
<line x1="381.2" y1="402.5" x2="381.2" y2="406.9"/>
</g>
<text x="352.7" y="403.2" font-size="6.9" text-anchor="middle" font-weight="bold" style="stroke-width:0.05px">p&lt;0.001</text>
<g stroke="#484848" stroke-width="0.95" fill="none">
<line x1="381.9" y1="410.5" x2="435.8" y2="410.5"/>
<line x1="381.9" y1="408.3" x2="381.9" y2="412.7"/>
<line x1="435.8" y1="408.3" x2="435.8" y2="412.7"/>
</g>
<text x="412.3" y="409.3" font-size="6.9" text-anchor="middle" font-weight="bold" style="stroke-width:0.05px">p&lt;0.001</text>
<g stroke="#484848" stroke-width="0.95" fill="none">
<line x1="436.9" y1="419.3" x2="489.6" y2="419.3"/>
<line x1="436.9" y1="417.1" x2="436.9" y2="421.5"/>
<line x1="489.6" y1="417.1" x2="489.6" y2="421.5"/>
</g>
<text x="465.8" y="418.1" font-size="6.9" text-anchor="middle" font-weight="bold" style="stroke-width:0.05px">p&lt;0.001</text>
<line x1="294.8" y1="383.9" x2="294.8" y2="400.3" stroke="#000" stroke-width="1.4"/>
<line x1="294.8" y1="403.2" x2="294.8" y2="530.6" stroke="#000" stroke-width="1.4"/>
<line x1="293.3" y1="399.9" x2="296.3" y2="399.9" stroke="#000" stroke-width="1"/>
<line x1="293.3" y1="403.6" x2="296.3" y2="403.6" stroke="#000" stroke-width="1"/>
<line x1="294.1" y1="530.6" x2="515.0" y2="530.6" stroke="#000" stroke-width="1.4"/>
<line x1="293.0" y1="384.4" x2="294.8" y2="384.4" stroke="#000" stroke-width="1"/>
<text x="292.5" y="386.4" font-size="5.60" text-anchor="end" font-weight="bold" style="stroke-width:0.25px">10</text>
<line x1="293.0" y1="389.7" x2="294.8" y2="389.7" stroke="#000" stroke-width="1"/>
<text x="292.5" y="391.7" font-size="5.60" text-anchor="end" font-weight="bold" style="stroke-width:0.25px">8</text>
<line x1="293.0" y1="395.2" x2="294.8" y2="395.2" stroke="#000" stroke-width="1"/>
<text x="292.5" y="397.2" font-size="5.60" text-anchor="end" font-weight="bold" style="stroke-width:0.25px">6</text>
<line x1="293.0" y1="412.2" x2="294.8" y2="412.2" stroke="#000" stroke-width="1"/>
<text x="292.5" y="414.2" font-size="5.60" text-anchor="end" font-weight="bold" style="stroke-width:0.25px">4.0</text>
<line x1="293.0" y1="427.0" x2="294.8" y2="427.0" stroke="#000" stroke-width="1"/>
<text x="292.5" y="429.0" font-size="5.60" text-anchor="end" font-weight="bold" style="stroke-width:0.25px">3.5</text>
<line x1="293.0" y1="441.8" x2="294.8" y2="441.8" stroke="#000" stroke-width="1"/>
<text x="292.5" y="443.8" font-size="5.60" text-anchor="end" font-weight="bold" style="stroke-width:0.25px">3.0</text>
<line x1="293.0" y1="456.6" x2="294.8" y2="456.6" stroke="#000" stroke-width="1"/>
<text x="292.5" y="458.6" font-size="5.60" text-anchor="end" font-weight="bold" style="stroke-width:0.25px">2.5</text>
<line x1="293.0" y1="471.4" x2="294.8" y2="471.4" stroke="#000" stroke-width="1"/>
<text x="292.5" y="473.4" font-size="5.60" text-anchor="end" font-weight="bold" style="stroke-width:0.25px">2.0</text>
<line x1="293.0" y1="486.2" x2="294.8" y2="486.2" stroke="#000" stroke-width="1"/>
<text x="292.5" y="488.2" font-size="5.60" text-anchor="end" font-weight="bold" style="stroke-width:0.25px">1.5</text>
<line x1="293.0" y1="501.0" x2="294.8" y2="501.0" stroke="#000" stroke-width="1"/>
<text x="292.5" y="503.0" font-size="5.60" text-anchor="end" font-weight="bold" style="stroke-width:0.25px">1.0</text>
<line x1="293.0" y1="515.8" x2="294.8" y2="515.8" stroke="#000" stroke-width="1"/>
<text x="292.5" y="517.8" font-size="5.60" text-anchor="end" font-weight="bold" style="stroke-width:0.25px">0.5</text>
<line x1="293.0" y1="530.6" x2="294.8" y2="530.6" stroke="#000" stroke-width="1"/>
<text x="292.5" y="532.6" font-size="5.60" text-anchor="end" font-weight="bold" style="stroke-width:0.25px">0.0</text>
<text transform="translate(279.5,451.0) rotate(-90)" font-size="8.95" text-anchor="middle" font-weight="bold">FVIII:C/VWF:Ag ratio</text>
<text x="322.4" y="540.8" font-size="8.8" text-anchor="middle" font-weight="bold">2A</text>
<text x="377.3" y="540.8" font-size="8.8" text-anchor="middle" font-weight="bold">2B</text>
<text x="432.4" y="540.8" font-size="8.8" text-anchor="middle" font-weight="bold">2M</text>
<text x="487.5" y="540.8" font-size="8.8" text-anchor="middle" font-weight="bold">2N</text>
<g fill="#222"><circle cx="79.3" cy="166.4" r="1.55"/><circle cx="83.1" cy="166.4" r="1.55"/></g>
<g fill="#222"><circle cx="194" cy="166.3" r="1.55"/></g>
<g fill="#222"><circle cx="320.8" cy="166.2" r="1.55"/></g>
<g fill="#222"><circle cx="79.3" cy="348.9" r="1.55"/><circle cx="83.1" cy="348.9" r="1.55"/></g>
<g fill="#222"><circle cx="193.5" cy="348.8" r="1.55"/></g>
<g fill="#222"><circle cx="321.3" cy="348.8" r="1.55"/></g>
</g></svg>
</body></html>
